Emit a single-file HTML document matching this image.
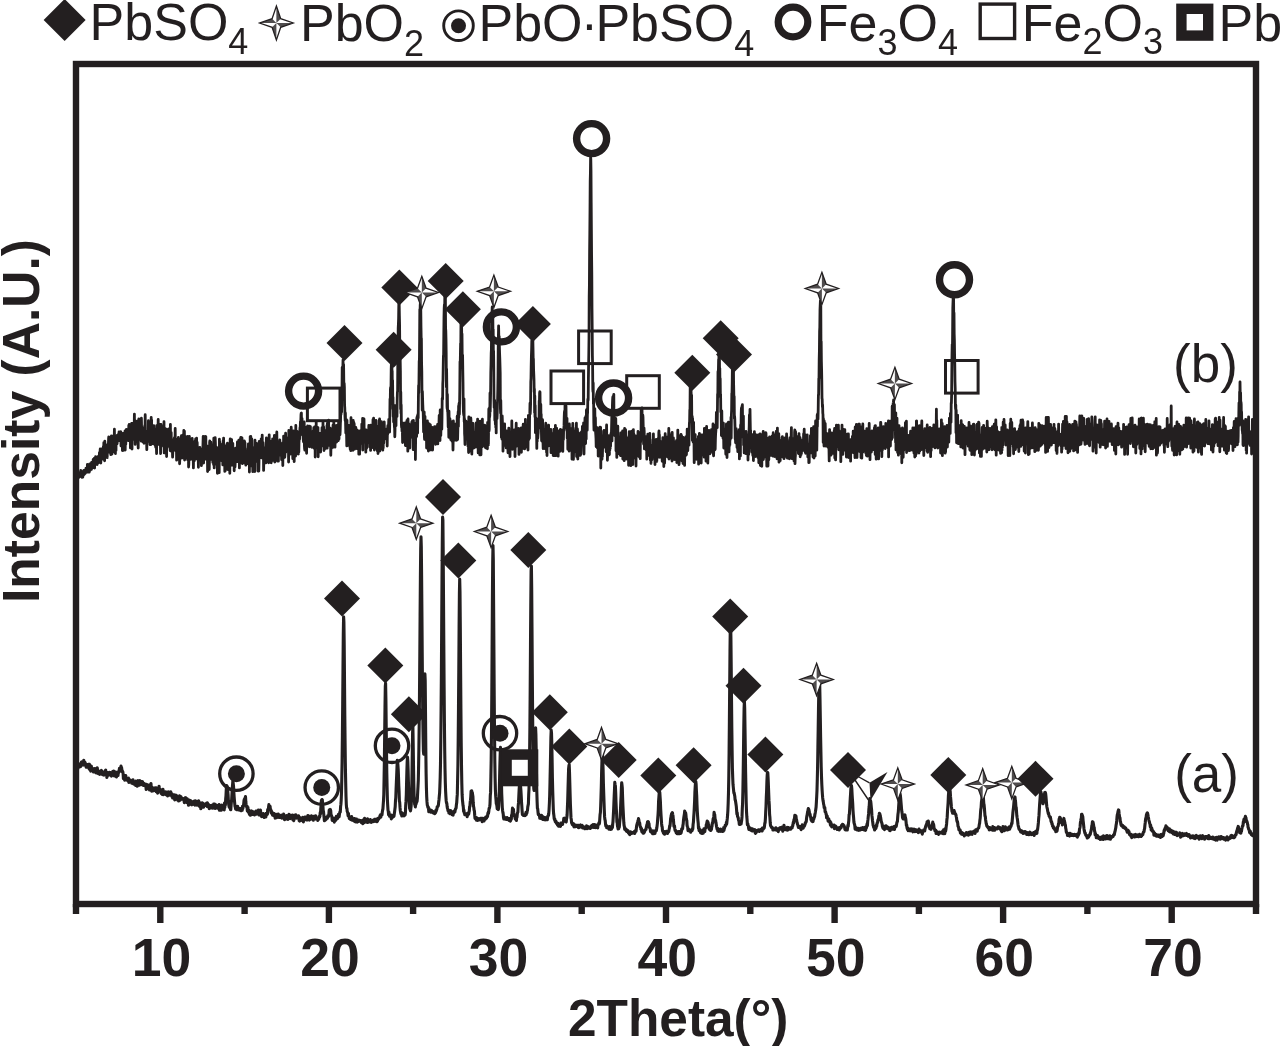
<!DOCTYPE html>
<html><head><meta charset="utf-8"><title>XRD patterns</title>
<style>
html,body{margin:0;padding:0;background:#fff;}
body{width:1280px;height:1046px;overflow:hidden;}
svg{display:block;}
text{font-family:"Liberation Sans",Arial,Helvetica,sans-serif;fill:#231f20;font-size:52px;}
.b{font-weight:bold;}
.s{font-size:36px;}
.t{font-size:53.5px;font-weight:bold;}
.c{font-size:53px;}
</style></head><body>
<svg width="1280" height="1046" viewBox="0 0 1280 1046">
<rect width="1280" height="1046" fill="#fff"/>
<g id="legend">
<path d="M64.6,-1L85.6,20L64.6,41L43.599999999999994,20Z" fill="#231f20"/><path d="M276.4,6.0L280.7,18.7L293.2,23.0L280.7,27.3L276.4,40.0L272.1,27.3L259.6,23.0L272.1,18.7Z" fill="#fff" stroke="#231f20" stroke-width="1.3" stroke-linejoin="miter"/><path d="M276.4,23.0L276.4,6.0L280.7,18.7Z" fill="#231f20" fill-opacity=".8"/><path d="M276.4,23.0L293.2,23.0L280.7,27.3Z" fill="#231f20" fill-opacity=".8"/><path d="M276.4,23.0L276.4,40.0L272.1,27.3Z" fill="#231f20" fill-opacity=".8"/><path d="M276.4,23.0L259.6,23.0L272.1,18.7Z" fill="#231f20" fill-opacity=".8"/><circle cx="458.5" cy="25.7" r="14.8" fill="none" stroke="#231f20" stroke-width="2.9"/><circle cx="458.5" cy="25.7" r="7.5" fill="#231f20"/><circle cx="793" cy="22" r="14.8" fill="none" stroke="#231f20" stroke-width="7.2"/><rect x="980.2" y="4.1" width="34.4" height="34.4" fill="none" stroke="#231f20" stroke-width="3.4"/><rect x="1181.40" y="8.80" width="26.8" height="26.8" fill="#fff" stroke="#231f20" stroke-width="10.400000000000002"/>
<text x="89.6" y="39.5">PbSO<tspan class="s" dy="14">4</tspan></text>
<text x="300" y="41">PbO<tspan class="s" dy="15">2</tspan></text>
<text x="478.5" y="41">PbO</text><text x="589.4" y="41" text-anchor="middle">·</text><text x="595.4" y="41">PbSO<tspan class="s" dy="15">4</tspan></text>
<text x="816.8" y="41">Fe<tspan class="s" dy="14.3">3</tspan><tspan dy="-14.3">O</tspan><tspan class="s" dy="14.3">4</tspan></text>
<text x="1021.8" y="40.5">Fe<tspan class="s" dy="13.4">2</tspan><tspan dy="-13.4">O</tspan><tspan class="s" dy="13.4">3</tspan></text>
<text x="1218.5" y="40.7">Pb</text>
</g>
<g id="curves" fill="none" stroke="#231f20" stroke-linejoin="round" stroke-linecap="round">
<path stroke-width="2.8" d="M76.0,475.1 76.2,477.1 76.4,477.9 76.6,478.1 76.8,473.2 77.0,477.6 77.2,477.9 77.4,478.1 77.6,472.7 77.8,474.9 78.0,475.6 78.2,475.0 78.4,477.7 78.6,474.4 78.8,477.4 79.0,476.2 79.2,472.8 79.4,473.4 79.6,474.2 79.8,475.0 80.0,476.5 80.2,474.3 80.4,476.1 80.6,471.6 80.8,470.3 81.0,473.6 81.2,474.9 81.4,473.3 81.6,471.9 81.8,474.6 82.0,477.4 82.2,473.3 82.4,472.0 82.6,471.6 82.8,477.1 83.0,472.9 83.2,474.2 83.4,475.3 83.6,474.9 83.8,470.5 84.0,474.4 84.2,474.1 84.4,473.2 84.6,474.2 84.8,470.5 85.0,471.5 85.2,470.3 85.4,473.1 85.6,469.6 85.8,471.9 86.0,468.2 86.2,470.3 86.4,469.6 86.6,470.0 86.8,470.4 87.0,469.5 87.2,469.2 87.4,464.3 87.6,472.2 87.8,467.6 88.0,468.3 88.2,466.6 88.4,471.2 88.6,466.0 88.8,469.5 89.0,471.2 89.2,472.2 89.4,470.8 89.6,469.1 89.8,463.9 90.0,470.6 90.2,470.1 90.4,469.0 90.6,468.7 90.8,466.4 91.0,464.5 91.2,469.0 91.4,469.4 91.6,462.3 91.8,467.9 92.0,465.7 92.2,467.5 92.4,465.4 92.6,467.8 92.8,467.4 93.0,466.8 93.2,459.4 93.4,466.2 93.6,463.5 93.8,459.5 94.0,465.3 94.2,458.3 94.4,465.5 94.6,468.0 94.8,460.4 95.0,465.0 95.2,463.2 95.4,463.7 95.6,456.6 95.8,463.2 96.0,461.3 96.2,463.2 96.4,460.4 96.6,464.1 96.8,460.9 97.0,462.2 97.2,464.5 97.4,459.9 97.6,462.7 97.8,459.6 98.0,460.5 98.2,456.4 98.4,461.0 98.6,462.5 98.8,457.3 99.0,460.5 99.2,458.9 99.4,452.7 99.6,458.1 99.8,461.7 100.0,454.4 100.2,449.0 100.4,456.6 100.6,453.0 100.8,463.0 101.0,455.0 101.2,454.9 101.4,452.1 101.6,455.5 101.8,451.9 102.0,450.2 102.2,453.5 102.4,450.1 102.6,458.9 102.8,448.1 103.0,452.5 103.2,449.6 103.4,446.4 103.6,459.4 103.8,442.7 104.0,458.1 104.2,445.2 104.4,451.6 104.6,460.8 104.8,441.2 105.0,444.3 105.2,456.3 105.4,450.9 105.6,447.4 105.8,449.5 106.0,445.0 106.2,449.8 106.4,456.0 106.6,447.0 106.8,449.3 107.0,454.1 107.2,457.7 107.4,445.2 107.6,449.3 107.8,444.9 108.0,444.3 108.2,445.3 108.4,444.0 108.6,438.3 108.8,436.8 109.0,442.9 109.2,447.0 109.4,452.3 109.6,443.3 109.8,445.0 110.0,449.0 110.2,449.3 110.4,444.7 110.6,444.9 110.8,454.7 111.0,443.1 111.2,442.1 111.4,435.9 111.6,446.6 111.8,442.7 112.0,454.1 112.2,442.0 112.4,448.0 112.6,448.5 112.8,452.2 113.0,436.0 113.2,451.5 113.4,442.8 113.6,442.0 113.8,440.7 114.0,440.1 114.2,440.2 114.4,429.2 114.6,444.6 114.8,441.9 115.0,436.1 115.2,440.9 115.4,453.6 115.6,443.1 115.8,438.5 116.0,450.4 116.2,435.8 116.4,439.4 116.6,436.9 116.8,438.5 117.0,444.0 117.2,443.0 117.4,435.1 117.6,438.5 117.8,439.6 118.0,436.5 118.2,438.6 118.4,434.3 118.6,434.1 118.8,438.6 119.0,432.0 119.2,440.6 119.4,436.8 119.6,432.2 119.8,433.9 120.0,434.6 120.2,436.4 120.4,438.0 120.6,435.9 120.8,431.6 121.0,445.9 121.2,442.5 121.4,437.4 121.6,442.7 121.8,438.6 122.0,434.8 122.2,436.9 122.4,450.6 122.6,442.6 122.8,442.8 123.0,433.5 123.2,439.8 123.4,450.4 123.6,438.5 123.8,442.7 124.0,443.9 124.2,439.8 124.4,445.8 124.6,436.9 124.8,438.6 125.0,431.0 125.2,450.1 125.4,437.1 125.6,435.7 125.8,444.3 126.0,431.5 126.2,434.7 126.4,429.3 126.6,434.7 126.8,431.8 127.0,438.1 127.2,433.4 127.4,430.1 127.6,432.1 127.8,433.2 128.0,430.4 128.2,440.5 128.4,438.6 128.6,434.8 128.8,425.3 129.0,437.3 129.2,424.4 129.4,434.7 129.6,433.7 129.8,429.0 130.0,427.2 130.2,428.1 130.4,447.9 130.6,431.0 130.8,431.4 131.0,439.8 131.2,435.8 131.4,440.4 131.6,423.5 131.8,424.5 132.0,449.1 132.2,432.0 132.4,430.1 132.6,433.4 132.8,439.6 133.0,423.1 133.2,434.1 133.4,431.7 133.6,437.0 133.8,433.2 134.0,427.8 134.2,425.1 134.4,414.1 134.6,439.2 134.8,420.3 135.0,428.5 135.2,444.4 135.4,428.3 135.6,436.3 135.8,429.9 136.0,436.9 136.2,431.8 136.4,427.6 136.6,441.9 136.8,429.5 137.0,421.2 137.2,429.0 137.4,435.7 137.6,423.0 137.8,437.7 138.0,437.5 138.2,448.0 138.4,426.7 138.6,436.8 138.8,418.9 139.0,428.5 139.2,432.6 139.4,434.9 139.6,431.4 139.8,431.1 140.0,427.1 140.2,428.5 140.4,434.3 140.6,436.2 140.8,436.9 141.0,439.6 141.2,441.1 141.4,418.2 141.6,428.1 141.8,430.9 142.0,427.2 142.2,440.2 142.4,437.9 142.6,431.4 142.8,433.2 143.0,442.0 143.2,429.6 143.4,429.9 143.6,439.3 143.8,436.0 144.0,443.3 144.2,435.3 144.4,438.2 144.6,428.3 144.8,425.3 145.0,432.5 145.2,414.7 145.4,435.7 145.6,440.1 145.8,433.2 146.0,431.0 146.2,441.0 146.4,432.4 146.6,440.3 146.8,449.6 147.0,438.4 147.2,440.0 147.4,436.7 147.6,434.8 147.8,435.1 148.0,433.5 148.2,441.3 148.4,420.7 148.6,431.0 148.8,438.2 149.0,426.7 149.2,432.4 149.4,428.0 149.6,436.7 149.8,440.0 150.0,444.6 150.2,437.3 150.4,428.1 150.6,435.6 150.8,438.1 151.0,444.6 151.2,417.4 151.4,436.8 151.6,420.0 151.8,439.5 152.0,437.5 152.2,438.0 152.4,441.1 152.6,437.3 152.8,429.5 153.0,437.2 153.2,443.8 153.4,433.8 153.6,435.0 153.8,425.6 154.0,443.9 154.2,431.2 154.4,429.5 154.6,431.8 154.8,428.8 155.0,433.5 155.2,445.3 155.4,441.7 155.6,446.6 155.8,447.2 156.0,429.0 156.2,439.7 156.4,447.5 156.6,453.6 156.8,425.4 157.0,425.4 157.2,440.0 157.4,434.0 157.6,429.0 157.8,439.6 158.0,430.8 158.2,419.5 158.4,436.8 158.6,438.0 158.8,442.0 159.0,444.4 159.2,438.7 159.4,435.6 159.6,432.4 159.8,425.0 160.0,434.3 160.2,445.4 160.4,442.8 160.6,453.6 160.8,436.9 161.0,424.5 161.2,444.5 161.4,446.2 161.6,429.4 161.8,426.1 162.0,439.7 162.2,444.1 162.4,430.2 162.6,436.2 162.8,433.0 163.0,430.0 163.2,429.0 163.4,440.2 163.6,436.4 163.8,434.2 164.0,421.7 164.2,452.9 164.4,432.4 164.6,438.6 164.8,431.1 165.0,442.8 165.2,428.4 165.4,440.8 165.6,438.7 165.8,447.2 166.0,431.9 166.2,435.4 166.4,438.7 166.6,456.6 166.8,429.4 167.0,443.0 167.2,435.8 167.4,443.3 167.6,446.0 167.8,442.2 168.0,443.2 168.2,443.4 168.4,436.9 168.6,439.8 168.8,428.8 169.0,438.9 169.2,435.8 169.4,439.8 169.6,447.5 169.8,444.9 170.0,445.6 170.2,450.6 170.4,424.5 170.6,445.6 170.8,442.2 171.0,441.7 171.2,432.6 171.4,446.9 171.6,451.5 171.8,450.7 172.0,442.3 172.2,447.9 172.4,450.1 172.6,457.1 172.8,452.6 173.0,444.4 173.2,444.2 173.4,444.8 173.6,445.3 173.8,439.9 174.0,449.7 174.2,438.6 174.4,437.8 174.6,446.8 174.8,439.7 175.0,442.3 175.2,428.4 175.4,450.5 175.6,444.4 175.8,443.6 176.0,448.2 176.2,446.3 176.4,439.5 176.6,460.2 176.8,441.5 177.0,452.5 177.2,459.2 177.4,440.5 177.6,446.1 177.8,439.2 178.0,453.6 178.2,443.0 178.4,437.3 178.6,455.9 178.8,452.9 179.0,439.2 179.2,455.1 179.4,447.6 179.6,463.8 179.8,459.4 180.0,442.1 180.2,444.4 180.4,439.9 180.6,447.7 180.8,447.1 181.0,452.5 181.2,447.6 181.4,435.7 181.6,440.9 181.8,458.0 182.0,456.1 182.2,446.1 182.4,446.4 182.6,446.2 182.8,447.8 183.0,434.9 183.2,454.6 183.4,442.8 183.6,449.1 183.8,430.4 184.0,449.9 184.2,458.5 184.4,431.2 184.6,460.0 184.8,452.1 185.0,443.0 185.2,436.5 185.4,457.7 185.6,450.8 185.8,453.5 186.0,446.9 186.2,443.0 186.4,455.9 186.6,442.0 186.8,456.3 187.0,436.7 187.2,442.5 187.4,438.5 187.6,459.8 187.8,436.4 188.0,441.2 188.2,455.0 188.4,451.8 188.6,467.0 188.8,464.4 189.0,455.1 189.2,455.7 189.4,436.5 189.6,443.8 189.8,448.2 190.0,449.4 190.2,440.3 190.4,443.8 190.6,444.5 190.8,459.3 191.0,454.5 191.2,448.7 191.4,449.3 191.6,453.7 191.8,446.2 192.0,449.6 192.2,438.5 192.4,456.9 192.6,459.3 192.8,454.7 193.0,455.7 193.2,454.9 193.4,467.9 193.6,453.8 193.8,442.2 194.0,444.4 194.2,457.9 194.4,460.7 194.6,458.5 194.8,459.1 195.0,454.1 195.2,441.3 195.4,447.4 195.6,439.0 195.8,449.9 196.0,442.5 196.2,453.7 196.4,451.7 196.6,438.1 196.8,458.7 197.0,459.0 197.2,442.5 197.4,454.3 197.6,458.7 197.8,451.0 198.0,459.9 198.2,454.8 198.4,467.3 198.6,454.8 198.8,452.1 199.0,457.3 199.2,459.5 199.4,455.4 199.6,450.0 199.8,447.4 200.0,450.6 200.2,449.1 200.4,455.1 200.6,454.9 200.8,452.9 201.0,453.6 201.2,454.9 201.4,465.7 201.6,463.0 201.8,449.2 202.0,457.0 202.2,451.2 202.4,453.0 202.6,451.9 202.8,449.0 203.0,443.3 203.2,436.3 203.4,455.4 203.6,463.0 203.8,446.9 204.0,457.8 204.2,451.0 204.4,456.1 204.6,447.7 204.8,452.2 205.0,453.2 205.2,436.5 205.4,455.7 205.6,453.0 205.8,436.6 206.0,459.2 206.2,453.9 206.4,455.8 206.6,457.0 206.8,451.0 207.0,445.9 207.2,450.8 207.4,451.0 207.6,471.5 207.8,468.6 208.0,450.6 208.2,451.2 208.4,456.9 208.6,458.8 208.8,449.1 209.0,446.7 209.2,469.5 209.4,462.7 209.6,442.4 209.8,440.8 210.0,448.1 210.2,456.3 210.4,458.9 210.6,452.0 210.8,442.1 211.0,456.4 211.2,459.4 211.4,454.7 211.6,450.9 211.8,459.2 212.0,454.3 212.2,446.1 212.4,455.6 212.6,444.7 212.8,462.4 213.0,458.5 213.2,447.1 213.4,456.6 213.6,464.7 213.8,438.2 214.0,453.9 214.2,467.9 214.4,442.9 214.6,453.8 214.8,444.0 215.0,454.6 215.2,437.7 215.4,442.5 215.6,451.0 215.8,456.3 216.0,458.2 216.2,458.6 216.4,464.3 216.6,460.8 216.8,461.1 217.0,447.7 217.2,454.1 217.4,473.3 217.6,473.2 217.8,461.9 218.0,461.3 218.2,463.2 218.4,452.3 218.6,470.9 218.8,452.6 219.0,454.9 219.2,472.7 219.4,439.2 219.6,458.4 219.8,442.0 220.0,450.4 220.2,454.9 220.4,452.8 220.6,457.0 220.8,449.6 221.0,454.8 221.2,446.2 221.4,452.6 221.6,444.7 221.8,460.8 222.0,445.4 222.2,461.1 222.4,452.3 222.6,453.2 222.8,464.9 223.0,456.5 223.2,440.6 223.4,459.5 223.6,438.1 223.8,457.7 224.0,452.4 224.2,444.5 224.4,456.2 224.6,453.1 224.8,471.4 225.0,452.0 225.2,470.9 225.4,466.5 225.6,450.6 225.8,449.0 226.0,466.0 226.2,454.4 226.4,456.7 226.6,453.4 226.8,445.8 227.0,452.5 227.2,447.8 227.4,443.2 227.6,453.1 227.8,469.6 228.0,468.3 228.2,454.9 228.4,456.5 228.6,459.5 228.8,466.2 229.0,457.9 229.2,451.5 229.4,452.2 229.6,464.4 229.8,473.3 230.0,450.3 230.2,438.9 230.4,466.1 230.6,454.7 230.8,456.4 231.0,465.2 231.2,455.8 231.4,444.7 231.6,439.6 231.8,454.9 232.0,446.0 232.2,457.6 232.4,445.0 232.6,452.4 232.8,443.4 233.0,452.3 233.2,451.6 233.4,460.0 233.6,465.9 233.8,453.7 234.0,448.3 234.2,470.8 234.4,458.1 234.6,460.0 234.8,460.0 235.0,466.8 235.2,463.2 235.4,460.6 235.6,461.3 235.8,448.2 236.0,450.2 236.2,454.2 236.4,455.8 236.6,455.2 236.8,457.5 237.0,455.3 237.2,451.6 237.4,442.0 237.6,461.7 237.8,459.7 238.0,448.0 238.2,459.0 238.4,458.2 238.6,455.6 238.8,440.2 239.0,445.3 239.2,450.2 239.4,467.9 239.6,448.1 239.8,452.2 240.0,446.0 240.2,451.0 240.4,457.7 240.6,438.3 240.8,437.4 241.0,460.2 241.2,455.2 241.4,450.0 241.6,462.7 241.8,462.7 242.0,438.0 242.2,453.5 242.4,463.7 242.6,449.5 242.8,452.3 243.0,462.5 243.2,452.6 243.4,445.2 243.6,449.3 243.8,444.1 244.0,459.2 244.2,440.9 244.4,462.8 244.6,441.5 244.8,455.1 245.0,442.9 245.2,452.1 245.4,462.9 245.6,463.6 245.8,465.1 246.0,453.9 246.2,455.4 246.4,456.4 246.6,459.5 246.8,451.3 247.0,463.3 247.2,457.1 247.4,463.6 247.6,458.3 247.8,459.8 248.0,448.5 248.2,451.0 248.4,443.9 248.6,451.9 248.8,452.9 249.0,461.0 249.2,444.1 249.4,472.1 249.6,453.2 249.8,464.3 250.0,462.5 250.2,436.6 250.4,452.0 250.6,465.9 250.8,436.5 251.0,460.2 251.2,446.6 251.4,450.2 251.6,455.7 251.8,438.9 252.0,455.5 252.2,448.7 252.4,447.8 252.6,459.5 252.8,471.7 253.0,456.5 253.2,458.2 253.4,453.3 253.6,447.9 253.8,455.7 254.0,465.9 254.2,455.1 254.4,460.8 254.6,451.7 254.8,471.5 255.0,440.2 255.2,458.2 255.4,457.8 255.6,455.6 255.8,444.4 256.0,444.2 256.2,450.0 256.4,454.1 256.6,443.5 256.8,444.7 257.0,457.8 257.2,461.5 257.4,448.7 257.6,447.5 257.8,447.3 258.0,471.1 258.2,457.0 258.4,452.5 258.6,461.1 258.8,471.0 259.0,462.4 259.2,441.4 259.4,452.2 259.6,449.6 259.8,450.1 260.0,443.0 260.2,449.7 260.4,444.0 260.6,455.5 260.8,453.1 261.0,441.3 261.2,438.9 261.4,448.8 261.6,457.9 261.8,456.6 262.0,452.0 262.2,435.1 262.4,448.5 262.6,446.5 262.8,449.8 263.0,442.6 263.2,448.9 263.4,447.0 263.6,470.4 263.8,461.8 264.0,450.8 264.2,451.9 264.4,451.3 264.6,453.8 264.8,449.0 265.0,452.1 265.2,460.5 265.4,458.9 265.6,454.6 265.8,462.9 266.0,453.9 266.2,444.1 266.4,437.9 266.6,446.4 266.8,451.5 267.0,455.2 267.2,460.6 267.4,447.3 267.6,445.4 267.8,458.1 268.0,461.3 268.2,447.9 268.4,454.5 268.6,462.8 268.8,454.3 269.0,451.2 269.2,434.8 269.4,462.3 269.6,456.7 269.8,452.5 270.0,447.7 270.2,441.3 270.4,450.5 270.6,450.4 270.8,460.1 271.0,441.4 271.2,462.8 271.4,451.4 271.6,460.6 271.8,443.1 272.0,453.7 272.2,460.7 272.4,451.7 272.6,438.9 272.8,448.0 273.0,454.9 273.2,439.3 273.4,438.8 273.6,452.3 273.8,442.7 274.0,455.8 274.2,440.7 274.4,435.3 274.6,443.8 274.8,462.1 275.0,443.0 275.2,449.9 275.4,451.8 275.6,442.1 275.8,458.5 276.0,451.1 276.2,453.2 276.4,435.9 276.6,435.3 276.8,432.0 277.0,447.8 277.2,447.4 277.4,455.1 277.6,461.1 277.8,447.0 278.0,446.9 278.2,452.6 278.4,461.2 278.6,442.2 278.8,453.8 279.0,446.7 279.2,445.9 279.4,455.2 279.6,442.1 279.8,439.8 280.0,453.8 280.2,448.1 280.4,446.1 280.6,447.1 280.8,452.1 281.0,445.1 281.2,454.2 281.4,451.3 281.6,459.8 281.8,458.0 282.0,454.7 282.2,446.0 282.4,448.6 282.6,442.8 282.8,465.5 283.0,445.6 283.2,451.8 283.4,458.3 283.6,436.2 283.8,440.5 284.0,443.9 284.2,439.0 284.4,436.7 284.6,442.7 284.8,457.3 285.0,452.6 285.2,447.0 285.4,446.9 285.6,433.2 285.8,452.1 286.0,449.9 286.2,437.7 286.4,448.0 286.6,444.7 286.8,442.0 287.0,438.2 287.2,440.6 287.4,438.4 287.6,449.7 287.8,448.8 288.0,448.4 288.2,444.3 288.4,442.4 288.6,462.1 288.8,430.5 289.0,455.1 289.2,448.3 289.4,445.9 289.6,441.2 289.8,443.4 290.0,435.6 290.2,433.9 290.4,444.1 290.6,431.6 290.8,451.6 291.0,453.8 291.2,427.2 291.4,432.1 291.6,446.8 291.8,446.2 292.0,445.3 292.2,447.8 292.4,450.3 292.6,451.2 292.8,458.6 293.0,444.3 293.2,451.0 293.4,430.8 293.6,442.8 293.8,433.9 294.0,454.9 294.2,461.6 294.4,447.9 294.6,433.0 294.8,442.5 295.0,443.5 295.2,444.8 295.4,451.9 295.6,456.0 295.8,425.4 296.0,453.9 296.2,438.7 296.4,438.1 296.6,454.0 296.8,440.2 297.0,431.2 297.2,431.4 297.4,442.4 297.6,449.1 297.8,453.7 298.0,440.0 298.2,437.4 298.4,454.0 298.6,436.9 298.8,451.9 299.0,441.5 299.2,440.8 299.4,436.1 299.6,439.1 299.8,431.3 300.0,427.5 300.2,429.2 300.4,421.9 300.6,426.1 300.8,420.7 301.0,414.7 301.2,413.3 301.4,413.1 301.6,430.7 301.8,419.6 302.0,418.4 302.2,424.3 302.4,435.0 302.6,430.6 302.8,433.0 303.0,433.7 303.2,438.3 303.4,440.9 303.6,442.0 303.8,425.6 304.0,430.5 304.2,421.8 304.4,446.0 304.6,448.6 304.8,450.2 305.0,441.0 305.2,449.1 305.4,439.6 305.6,439.0 305.8,427.5 306.0,433.7 306.2,431.7 306.4,447.4 306.6,453.3 306.8,436.2 307.0,442.9 307.2,442.1 307.4,433.7 307.6,426.0 307.8,433.8 308.0,428.2 308.2,437.2 308.4,438.6 308.6,438.3 308.8,438.4 309.0,443.6 309.2,432.1 309.4,446.8 309.6,426.1 309.8,440.1 310.0,442.7 310.2,433.1 310.4,426.6 310.6,444.6 310.8,434.0 311.0,445.7 311.2,445.6 311.4,439.3 311.6,439.3 311.8,447.3 312.0,442.3 312.2,431.8 312.4,440.6 312.6,443.7 312.8,440.9 313.0,440.7 313.2,438.0 313.4,438.2 313.6,431.6 313.8,427.6 314.0,448.2 314.2,434.0 314.4,440.9 314.6,427.0 314.8,440.4 315.0,432.4 315.2,457.0 315.4,430.8 315.6,431.3 315.8,446.6 316.0,448.1 316.2,422.0 316.4,441.0 316.6,446.0 316.8,429.1 317.0,444.4 317.2,434.6 317.4,430.8 317.6,436.0 317.8,435.1 318.0,427.6 318.2,456.8 318.4,435.1 318.6,432.8 318.8,445.6 319.0,438.1 319.2,449.4 319.4,436.5 319.6,441.5 319.8,439.4 320.0,440.0 320.2,436.9 320.4,437.7 320.6,452.0 320.8,433.1 321.0,434.1 321.2,435.7 321.4,443.1 321.6,441.7 321.8,445.9 322.0,427.7 322.2,440.5 322.4,437.0 322.6,436.1 322.8,439.7 323.0,422.5 323.2,440.5 323.4,439.4 323.6,426.8 323.8,437.5 324.0,450.6 324.2,435.1 324.4,442.9 324.6,436.3 324.8,431.6 325.0,430.7 325.2,434.9 325.4,448.5 325.6,444.6 325.8,432.3 326.0,446.0 326.2,436.9 326.4,432.4 326.6,441.3 326.8,430.6 327.0,425.3 327.2,448.2 327.4,423.2 327.6,442.1 327.8,425.5 328.0,437.5 328.2,436.1 328.4,434.1 328.6,420.1 328.8,436.7 329.0,436.9 329.2,430.4 329.4,437.0 329.6,445.4 329.8,431.7 330.0,439.5 330.2,428.2 330.4,440.4 330.6,442.4 330.8,455.3 331.0,444.4 331.2,440.6 331.4,448.4 331.6,429.2 331.8,445.6 332.0,432.7 332.2,432.0 332.4,445.6 332.6,438.7 332.8,447.4 333.0,425.2 333.2,438.9 333.4,432.4 333.6,434.4 333.8,421.3 334.0,443.9 334.2,438.0 334.4,428.4 334.6,425.5 334.8,429.2 335.0,447.2 335.2,435.2 335.4,433.2 335.6,439.7 335.8,435.7 336.0,437.4 336.2,441.3 336.4,437.9 336.6,442.1 336.8,425.4 337.0,435.2 337.2,431.7 337.4,435.2 337.6,433.8 337.8,428.8 338.0,430.8 338.2,440.7 338.4,428.4 338.6,422.5 338.8,436.6 339.0,439.0 339.2,428.5 339.4,430.8 339.6,422.1 339.8,426.0 340.0,434.8 340.2,430.6 340.4,423.1 340.6,417.0 340.8,402.9 341.0,414.4 341.2,410.9 341.4,410.4 341.6,412.1 341.8,392.7 342.0,390.5 342.2,367.3 342.4,379.4 342.6,371.5 342.8,371.9 343.0,360.0 343.2,364.7 343.4,376.3 343.6,364.6 343.8,381.2 344.0,391.5 344.2,383.4 344.4,387.0 344.6,405.4 344.8,408.2 345.0,416.6 345.2,420.8 345.4,413.0 345.6,424.5 345.8,433.0 346.0,423.1 346.2,425.2 346.4,419.7 346.6,436.1 346.8,445.9 347.0,420.3 347.2,437.7 347.4,439.3 347.6,428.2 347.8,430.0 348.0,425.1 348.2,427.4 348.4,435.1 348.6,439.2 348.8,435.2 349.0,441.2 349.2,436.2 349.4,425.6 349.6,446.4 349.8,444.4 350.0,429.6 350.2,449.3 350.4,439.1 350.6,436.5 350.8,450.7 351.0,417.7 351.2,423.0 351.4,441.4 351.6,433.9 351.8,428.4 352.0,447.9 352.2,439.9 352.4,426.0 352.6,430.9 352.8,442.8 353.0,450.3 353.2,420.4 353.4,438.2 353.6,433.3 353.8,422.5 354.0,435.0 354.2,423.7 354.4,432.1 354.6,449.2 354.8,440.5 355.0,442.6 355.2,441.2 355.4,439.3 355.6,444.2 355.8,427.3 356.0,433.7 356.2,443.3 356.4,430.8 356.6,433.1 356.8,446.1 357.0,448.7 357.2,431.8 357.4,430.2 357.6,441.2 357.8,438.8 358.0,431.3 358.2,441.4 358.4,441.0 358.6,437.3 358.8,454.2 359.0,447.4 359.2,443.1 359.4,444.8 359.6,454.2 359.8,445.4 360.0,431.0 360.2,439.2 360.4,437.3 360.6,432.2 360.8,438.8 361.0,438.7 361.2,436.3 361.4,432.9 361.6,443.3 361.8,424.1 362.0,443.2 362.2,436.8 362.4,438.9 362.6,418.5 362.8,450.0 363.0,423.0 363.2,429.8 363.4,441.8 363.6,431.9 363.8,433.5 364.0,419.0 364.2,433.2 364.4,438.4 364.6,442.1 364.8,434.4 365.0,438.4 365.2,440.1 365.4,431.3 365.6,430.7 365.8,452.2 366.0,429.9 366.2,446.4 366.4,437.2 366.6,448.3 366.8,431.6 367.0,440.7 367.2,439.3 367.4,434.8 367.6,439.1 367.8,430.5 368.0,436.0 368.2,433.4 368.4,442.6 368.6,435.9 368.8,425.5 369.0,433.6 369.2,435.8 369.4,429.4 369.6,447.1 369.8,439.8 370.0,443.2 370.2,430.5 370.4,433.4 370.6,450.4 370.8,425.1 371.0,439.4 371.2,437.2 371.4,432.5 371.6,437.2 371.8,427.9 372.0,438.2 372.2,426.8 372.4,426.3 372.6,447.5 372.8,430.8 373.0,419.6 373.2,444.1 373.4,430.2 373.6,418.2 373.8,435.9 374.0,443.7 374.2,439.1 374.4,450.0 374.6,435.3 374.8,441.1 375.0,428.3 375.2,437.6 375.4,448.5 375.6,440.3 375.8,437.5 376.0,420.5 376.2,433.2 376.4,425.9 376.6,442.4 376.8,430.3 377.0,439.0 377.2,428.1 377.4,451.1 377.6,426.7 377.8,437.2 378.0,453.5 378.2,437.8 378.4,429.1 378.6,440.9 378.8,443.9 379.0,442.9 379.2,420.2 379.4,437.6 379.6,418.9 379.8,451.0 380.0,436.4 380.2,432.1 380.4,441.2 380.6,439.6 380.8,426.3 381.0,448.7 381.2,433.7 381.4,421.6 381.6,446.8 381.8,447.8 382.0,445.5 382.2,439.9 382.4,428.3 382.6,442.9 382.8,450.2 383.0,441.8 383.2,448.0 383.4,429.0 383.6,443.3 383.8,442.6 384.0,423.0 384.2,421.9 384.4,429.1 384.6,435.4 384.8,438.3 385.0,432.8 385.2,433.9 385.4,433.4 385.6,434.9 385.8,438.8 386.0,437.9 386.2,433.4 386.4,435.7 386.6,429.8 386.8,439.6 387.0,429.0 387.2,446.0 387.4,432.3 387.6,434.4 387.8,425.7 388.0,428.6 388.2,432.2 388.4,430.4 388.6,424.6 388.8,419.4 389.0,427.9 389.2,427.4 389.4,428.7 389.6,432.0 389.8,416.4 390.0,399.0 390.2,409.1 390.4,389.5 390.6,387.3 390.8,398.4 391.0,386.6 391.2,369.2 391.4,363.0 391.6,366.0 391.8,350.2 392.0,371.6 392.2,370.9 392.4,396.0 392.6,380.4 392.8,404.3 393.0,397.2 393.2,416.4 393.4,404.8 393.6,422.1 393.8,415.4 394.0,414.2 394.2,421.1 394.4,427.1 394.6,427.1 394.8,436.8 395.0,430.8 395.2,405.6 395.4,420.3 395.6,406.8 395.8,418.9 396.0,425.7 396.2,408.1 396.4,407.0 396.6,414.6 396.8,406.9 397.0,416.5 397.2,399.3 397.4,392.2 397.6,391.4 397.8,360.7 398.0,350.8 398.2,328.0 398.4,323.9 398.6,318.6 398.8,304.0 399.0,303.4 399.2,304.6 399.4,315.9 399.6,325.1 399.8,352.3 400.0,376.4 400.2,359.7 400.4,371.2 400.6,409.1 400.8,391.9 401.0,413.3 401.2,404.8 401.4,424.7 401.6,427.3 401.8,424.3 402.0,431.2 402.2,426.2 402.4,431.4 402.6,442.5 402.8,437.3 403.0,423.7 403.2,423.1 403.4,428.1 403.6,428.7 403.8,431.5 404.0,426.3 404.2,436.8 404.4,432.1 404.6,435.0 404.8,432.3 405.0,437.4 405.2,422.9 405.4,445.6 405.6,435.8 405.8,436.7 406.0,438.2 406.2,442.1 406.4,439.4 406.6,435.4 406.8,432.1 407.0,420.3 407.2,435.5 407.4,431.3 407.6,431.3 407.8,451.2 408.0,418.9 408.2,435.2 408.4,443.8 408.6,441.8 408.8,444.1 409.0,423.8 409.2,426.3 409.4,439.1 409.6,431.7 409.8,448.0 410.0,435.9 410.2,435.7 410.4,437.6 410.6,431.8 410.8,435.0 411.0,428.5 411.2,433.6 411.4,430.0 411.6,435.9 411.8,422.3 412.0,421.6 412.2,437.4 412.4,435.4 412.6,420.6 412.8,431.5 413.0,424.7 413.2,449.7 413.4,420.3 413.6,446.8 413.8,426.0 414.0,435.9 414.2,430.2 414.4,429.0 414.6,439.4 414.8,438.2 415.0,428.9 415.2,423.5 415.4,459.6 415.6,441.5 415.8,430.7 416.0,425.4 416.2,430.8 416.4,428.3 416.6,436.5 416.8,417.9 417.0,424.6 417.2,416.5 417.4,431.5 417.6,433.1 417.8,414.6 418.0,415.8 418.2,418.0 418.4,398.0 418.6,385.5 418.8,392.8 419.0,378.2 419.2,360.8 419.4,361.7 419.6,338.6 419.8,309.5 420.0,315.9 420.2,305.1 420.4,303.0 420.6,305.4 420.8,311.4 421.0,327.5 421.2,338.7 421.4,338.4 421.6,363.5 421.8,371.5 422.0,395.8 422.2,410.3 422.4,391.5 422.6,398.8 422.8,404.7 423.0,410.1 423.2,413.0 423.4,421.5 423.6,431.9 423.8,414.0 424.0,413.4 424.2,412.0 424.4,436.8 424.6,439.4 424.8,416.8 425.0,416.5 425.2,431.4 425.4,439.6 425.6,439.4 425.8,433.1 426.0,437.4 426.2,434.8 426.4,427.9 426.6,448.1 426.8,432.8 427.0,424.0 427.2,429.4 427.4,420.8 427.6,433.7 427.8,442.6 428.0,423.5 428.2,443.1 428.4,451.0 428.6,437.2 428.8,424.8 429.0,427.3 429.2,431.6 429.4,424.0 429.6,424.3 429.8,432.4 430.0,433.1 430.2,439.5 430.4,424.9 430.6,449.9 430.8,443.3 431.0,442.0 431.2,429.5 431.4,448.9 431.6,432.0 431.8,449.6 432.0,443.5 432.2,427.5 432.4,431.1 432.6,450.0 432.8,442.9 433.0,433.5 433.2,436.4 433.4,436.3 433.6,428.4 433.8,433.0 434.0,429.3 434.2,431.1 434.4,438.4 434.6,426.7 434.8,440.4 435.0,435.3 435.2,440.5 435.4,441.5 435.6,444.3 435.8,439.2 436.0,439.8 436.2,432.5 436.4,438.4 436.6,426.4 436.8,431.6 437.0,439.5 437.2,432.9 437.4,436.7 437.6,424.3 437.8,443.9 438.0,427.8 438.2,435.5 438.4,431.9 438.6,439.4 438.8,428.3 439.0,423.0 439.2,415.3 439.4,427.8 439.6,420.1 439.8,433.7 440.0,440.5 440.2,410.0 440.4,416.8 440.6,429.0 440.8,435.5 441.0,426.7 441.2,425.3 441.4,425.0 441.6,423.3 441.8,429.3 442.0,417.5 442.2,398.3 442.4,399.5 442.6,399.1 442.8,383.6 443.0,379.7 443.2,368.0 443.4,355.9 443.6,355.6 443.8,334.5 444.0,316.4 444.2,308.0 444.4,304.6 444.6,315.1 444.8,296.0 445.0,310.1 445.2,308.4 445.4,296.3 445.6,328.4 445.8,330.7 446.0,338.9 446.2,352.8 446.4,386.9 446.6,369.0 446.8,385.1 447.0,406.8 447.2,408.8 447.4,394.4 447.6,411.6 447.8,411.6 448.0,417.0 448.2,426.9 448.4,417.9 448.6,421.5 448.8,437.3 449.0,411.2 449.2,424.1 449.4,431.8 449.6,418.4 449.8,424.0 450.0,418.9 450.2,431.4 450.4,425.4 450.6,437.3 450.8,439.5 451.0,431.8 451.2,428.5 451.4,434.0 451.6,432.5 451.8,422.2 452.0,441.2 452.2,434.3 452.4,439.1 452.6,421.5 452.8,439.9 453.0,450.0 453.2,437.9 453.4,421.0 453.6,433.1 453.8,432.3 454.0,434.6 454.2,430.8 454.4,436.7 454.6,428.8 454.8,434.3 455.0,426.7 455.2,433.0 455.4,440.1 455.6,427.7 455.8,437.0 456.0,423.9 456.2,427.8 456.4,428.5 456.6,440.3 456.8,423.2 457.0,438.9 457.2,416.2 457.4,426.0 457.6,439.5 457.8,430.7 458.0,415.2 458.2,411.5 458.4,426.4 458.6,405.9 458.8,417.4 459.0,404.0 459.2,403.0 459.4,414.2 459.6,402.6 459.8,388.7 460.0,361.6 460.2,366.0 460.4,354.0 460.6,343.2 460.8,346.6 461.0,315.0 461.2,325.7 461.4,326.7 461.6,323.0 461.8,349.9 462.0,333.8 462.2,354.0 462.4,364.3 462.6,355.2 462.8,370.4 463.0,382.3 463.2,403.9 463.4,411.4 463.6,413.8 463.8,415.3 464.0,398.8 464.2,421.7 464.4,418.1 464.6,434.0 464.8,437.0 465.0,444.5 465.2,434.2 465.4,436.0 465.6,421.6 465.8,431.4 466.0,421.2 466.2,439.2 466.4,422.5 466.6,431.0 466.8,426.3 467.0,429.6 467.2,437.5 467.4,429.3 467.6,436.1 467.8,426.2 468.0,446.2 468.2,429.6 468.4,443.4 468.6,452.5 468.8,416.9 469.0,427.4 469.2,434.0 469.4,445.5 469.6,431.9 469.8,439.2 470.0,430.1 470.2,440.9 470.4,426.3 470.6,443.3 470.8,418.0 471.0,420.9 471.2,451.7 471.4,438.1 471.6,429.3 471.8,454.1 472.0,445.6 472.2,446.3 472.4,433.5 472.6,442.2 472.8,441.3 473.0,423.4 473.2,442.1 473.4,435.7 473.6,447.9 473.8,448.1 474.0,432.0 474.2,432.3 474.4,438.9 474.6,442.8 474.8,434.0 475.0,436.5 475.2,442.5 475.4,441.0 475.6,447.1 475.8,439.5 476.0,430.1 476.2,422.9 476.4,444.3 476.6,434.8 476.8,434.7 477.0,435.2 477.2,424.5 477.4,434.3 477.6,419.1 477.8,434.2 478.0,430.1 478.2,452.9 478.4,441.3 478.6,435.8 478.8,438.9 479.0,443.6 479.2,431.2 479.4,435.6 479.6,434.6 479.8,454.9 480.0,438.1 480.2,421.1 480.4,444.1 480.6,454.8 480.8,429.4 481.0,454.8 481.2,436.8 481.4,445.7 481.6,432.6 481.8,435.0 482.0,426.9 482.2,428.3 482.4,419.2 482.6,446.6 482.8,427.4 483.0,440.1 483.2,439.7 483.4,431.4 483.6,437.1 483.8,435.9 484.0,432.4 484.2,436.9 484.4,436.8 484.6,427.7 484.8,425.2 485.0,428.8 485.2,436.8 485.4,447.3 485.6,447.8 485.8,437.9 486.0,443.0 486.2,435.9 486.4,443.9 486.6,435.4 486.8,437.3 487.0,431.2 487.2,433.2 487.4,448.8 487.6,422.3 487.8,431.8 488.0,426.2 488.2,438.5 488.4,444.9 488.6,426.0 488.8,409.0 489.0,431.2 489.2,429.4 489.4,407.9 489.6,417.2 489.8,415.2 490.0,393.0 490.2,411.6 490.4,402.9 490.6,393.1 490.8,372.7 491.0,364.7 491.2,353.2 491.4,349.6 491.6,324.2 491.8,332.8 492.0,314.2 492.2,307.0 492.4,319.9 492.6,312.1 492.8,315.3 493.0,332.6 493.2,329.2 493.4,359.0 493.6,350.9 493.8,371.3 494.0,400.6 494.2,407.6 494.4,400.4 494.6,400.2 494.8,420.3 495.0,415.0 495.2,419.4 495.4,424.5 495.6,411.1 495.8,427.5 496.0,403.0 496.2,432.9 496.4,406.3 496.6,412.7 496.8,410.0 497.0,418.6 497.2,414.3 497.4,405.3 497.6,399.6 497.8,390.3 498.0,375.7 498.2,349.1 498.4,335.9 498.6,325.9 498.8,336.7 499.0,338.0 499.2,336.3 499.4,346.9 499.6,353.3 499.8,358.4 500.0,365.5 500.2,372.6 500.4,408.3 500.6,413.3 500.8,400.4 501.0,414.6 501.2,424.6 501.4,437.4 501.6,421.1 501.8,429.5 502.0,439.3 502.2,415.8 502.4,421.1 502.6,432.0 502.8,426.8 503.0,451.2 503.2,441.4 503.4,436.2 503.6,426.7 503.8,442.6 504.0,440.9 504.2,431.4 504.4,432.4 504.6,423.8 504.8,435.9 505.0,444.1 505.2,445.4 505.4,442.0 505.6,444.2 505.8,432.3 506.0,433.5 506.2,447.9 506.4,441.6 506.6,431.0 506.8,442.2 507.0,445.1 507.2,444.1 507.4,439.1 507.6,433.9 507.8,441.7 508.0,452.8 508.2,439.7 508.4,432.8 508.6,441.5 508.8,428.1 509.0,440.6 509.2,436.2 509.4,446.9 509.6,439.7 509.8,447.8 510.0,456.6 510.2,437.1 510.4,431.9 510.6,442.9 510.8,438.3 511.0,440.3 511.2,434.0 511.4,443.9 511.6,439.8 511.8,421.0 512.0,437.2 512.2,442.1 512.4,449.3 512.6,434.4 512.8,432.5 513.0,449.1 513.2,434.2 513.4,440.2 513.6,443.4 513.8,445.6 514.0,439.5 514.2,430.0 514.4,448.0 514.6,435.7 514.8,435.0 515.0,456.5 515.2,446.9 515.4,430.5 515.6,435.4 515.8,437.4 516.0,433.1 516.2,423.2 516.4,446.3 516.6,446.1 516.8,441.6 517.0,436.1 517.2,441.3 517.4,444.9 517.6,430.7 517.8,436.7 518.0,434.7 518.2,445.4 518.4,441.7 518.6,428.5 518.8,434.2 519.0,454.4 519.2,431.2 519.4,440.7 519.6,434.1 519.8,449.9 520.0,438.8 520.2,435.6 520.4,429.3 520.6,437.2 520.8,446.3 521.0,444.9 521.2,428.0 521.4,452.3 521.6,437.0 521.8,430.1 522.0,440.1 522.2,433.7 522.4,434.0 522.6,433.5 522.8,438.0 523.0,434.5 523.2,424.2 523.4,443.0 523.6,434.1 523.8,448.5 524.0,442.8 524.2,443.4 524.4,439.6 524.6,448.9 524.8,435.1 525.0,429.3 525.2,440.5 525.4,419.3 525.6,434.1 525.8,438.8 526.0,433.3 526.2,447.2 526.4,442.2 526.6,437.0 526.8,432.3 527.0,444.6 527.2,429.3 527.4,431.1 527.6,440.4 527.8,438.5 528.0,450.0 528.2,430.3 528.4,415.3 528.6,435.7 528.8,439.5 529.0,426.0 529.2,438.7 529.4,438.3 529.6,415.0 529.8,413.4 530.0,403.2 530.2,414.0 530.4,410.4 530.6,403.6 530.8,381.7 531.0,378.5 531.2,365.3 531.4,355.8 531.6,350.1 531.8,340.6 532.0,346.0 532.2,346.3 532.4,340.6 532.6,339.9 532.8,337.0 533.0,347.4 533.2,358.7 533.4,358.8 533.6,369.7 533.8,374.6 534.0,380.3 534.2,392.1 534.4,388.8 534.6,412.8 534.8,395.8 535.0,417.1 535.2,405.5 535.4,432.7 535.6,429.9 535.8,417.9 536.0,422.6 536.2,418.3 536.4,428.4 536.6,433.2 536.8,448.4 537.0,419.4 537.2,441.6 537.4,426.4 537.6,433.5 537.8,438.2 538.0,434.7 538.2,432.5 538.4,425.6 538.6,424.8 538.8,423.0 539.0,427.9 539.2,400.8 539.4,404.0 539.6,392.9 539.8,391.7 540.0,391.9 540.2,409.4 540.4,422.0 540.6,420.5 540.8,404.5 541.0,420.1 541.2,414.2 541.4,431.1 541.6,440.8 541.8,437.2 542.0,441.1 542.2,433.8 542.4,419.4 542.6,419.9 542.8,436.3 543.0,442.4 543.2,448.6 543.4,435.3 543.6,439.1 543.8,440.9 544.0,447.9 544.2,438.5 544.4,430.1 544.6,448.5 544.8,443.0 545.0,442.9 545.2,429.1 545.4,439.9 545.6,425.6 545.8,423.2 546.0,438.2 546.2,436.6 546.4,445.1 546.6,452.5 546.8,440.2 547.0,455.5 547.2,435.6 547.4,447.0 547.6,430.0 547.8,441.8 548.0,438.1 548.2,439.1 548.4,445.8 548.6,425.1 548.8,441.9 549.0,434.2 549.2,442.0 549.4,444.3 549.6,438.0 549.8,438.0 550.0,431.5 550.2,445.8 550.4,435.5 550.6,444.9 550.8,429.3 551.0,452.7 551.2,432.7 551.4,451.0 551.6,437.6 551.8,445.9 552.0,440.2 552.2,447.1 552.4,441.4 552.6,452.1 552.8,447.1 553.0,447.2 553.2,455.5 553.4,435.6 553.6,452.4 553.8,442.1 554.0,429.1 554.2,445.5 554.4,439.8 554.6,455.7 554.8,437.4 555.0,441.9 555.2,443.5 555.4,425.5 555.6,445.8 555.8,433.2 556.0,453.3 556.2,455.5 556.4,441.4 556.6,428.2 556.8,443.0 557.0,443.0 557.2,447.5 557.4,439.0 557.6,431.5 557.8,440.2 558.0,433.6 558.2,456.2 558.4,435.4 558.6,435.8 558.8,440.9 559.0,430.8 559.2,437.4 559.4,440.0 559.6,437.0 559.8,438.9 560.0,451.3 560.2,444.5 560.4,429.5 560.6,437.0 560.8,446.8 561.0,434.9 561.2,440.9 561.4,439.8 561.6,444.2 561.8,438.0 562.0,438.0 562.2,431.6 562.4,441.3 562.6,429.9 562.8,451.4 563.0,435.7 563.2,432.8 563.4,439.7 563.6,430.5 563.8,429.7 564.0,425.9 564.2,417.3 564.4,412.4 564.6,410.9 564.8,423.0 565.0,405.5 565.2,405.4 565.4,404.4 565.6,414.7 565.8,427.4 566.0,405.8 566.2,421.4 566.4,421.1 566.6,420.8 566.8,430.6 567.0,418.3 567.2,438.2 567.4,434.9 567.6,426.3 567.8,449.3 568.0,444.0 568.2,447.4 568.4,426.1 568.6,436.5 568.8,434.8 569.0,448.4 569.2,451.1 569.4,424.0 569.6,440.4 569.8,439.3 570.0,448.9 570.2,440.3 570.4,430.1 570.6,439.2 570.8,432.2 571.0,434.5 571.2,441.4 571.4,437.1 571.6,443.5 571.8,428.5 572.0,459.2 572.2,451.8 572.4,447.3 572.6,430.5 572.8,423.3 573.0,434.1 573.2,439.4 573.4,459.4 573.6,452.3 573.8,437.0 574.0,451.5 574.2,451.6 574.4,441.5 574.6,451.6 574.8,444.1 575.0,435.9 575.2,431.5 575.4,440.3 575.6,449.7 575.8,430.0 576.0,427.8 576.2,445.9 576.4,423.2 576.6,456.5 576.8,437.5 577.0,447.3 577.2,456.7 577.4,428.9 577.6,432.2 577.8,459.0 578.0,438.5 578.2,439.8 578.4,442.7 578.6,449.6 578.8,451.8 579.0,441.6 579.2,437.8 579.4,440.2 579.6,442.9 579.8,451.3 580.0,441.4 580.2,455.4 580.4,432.8 580.6,444.4 580.8,454.5 581.0,450.4 581.2,442.3 581.4,432.0 581.6,433.3 581.8,437.7 582.0,441.5 582.2,436.6 582.4,426.3 582.6,432.1 582.8,442.3 583.0,444.7 583.2,425.7 583.4,434.1 583.6,422.8 583.8,431.7 584.0,454.1 584.2,436.2 584.4,432.3 584.6,429.7 584.8,424.0 585.0,417.9 585.2,432.4 585.4,429.7 585.6,443.5 585.8,416.5 586.0,432.8 586.2,439.1 586.4,410.1 586.6,430.4 586.8,409.4 587.0,425.0 587.2,430.3 587.4,414.5 587.6,412.7 587.8,399.2 588.0,400.8 588.2,399.4 588.4,377.9 588.6,365.2 588.8,353.8 589.0,338.5 589.2,295.9 589.4,285.2 589.6,251.8 589.8,233.4 590.0,210.6 590.2,181.1 590.4,173.3 590.6,157.0 590.8,159.0 591.0,170.2 591.2,202.5 591.4,230.1 591.6,255.9 591.8,274.6 592.0,309.1 592.2,328.1 592.4,355.7 592.6,364.2 592.8,389.3 593.0,392.0 593.2,382.9 593.4,403.7 593.6,398.5 593.8,422.8 594.0,430.1 594.2,420.6 594.4,426.8 594.6,412.9 594.8,408.6 595.0,423.4 595.2,427.2 595.4,417.7 595.6,432.1 595.8,434.9 596.0,438.4 596.2,446.7 596.4,441.1 596.6,431.8 596.8,436.3 597.0,441.0 597.2,427.6 597.4,447.9 597.6,444.7 597.8,435.6 598.0,432.4 598.2,456.1 598.4,445.4 598.6,446.5 598.8,453.9 599.0,447.3 599.2,441.0 599.4,445.4 599.6,432.0 599.8,445.8 600.0,427.1 600.2,443.7 600.4,445.0 600.6,427.3 600.8,468.0 601.0,431.0 601.2,449.6 601.4,436.5 601.6,443.7 601.8,435.6 602.0,459.3 602.2,450.0 602.4,456.7 602.6,448.1 602.8,447.5 603.0,443.0 603.2,439.7 603.4,447.0 603.6,443.2 603.8,440.7 604.0,430.4 604.2,439.5 604.4,447.2 604.6,438.2 604.8,445.1 605.0,441.0 605.2,433.6 605.4,434.7 605.6,436.1 605.8,439.9 606.0,440.1 606.2,451.8 606.4,433.2 606.6,425.0 606.8,448.2 607.0,438.5 607.2,441.3 607.4,460.3 607.6,454.7 607.8,447.2 608.0,450.2 608.2,443.1 608.4,450.1 608.6,436.6 608.8,435.6 609.0,437.6 609.2,454.8 609.4,454.3 609.6,435.6 609.8,450.3 610.0,438.6 610.2,448.6 610.4,436.1 610.6,446.1 610.8,436.0 611.0,433.3 611.2,434.2 611.4,434.1 611.6,425.9 611.8,417.1 612.0,440.9 612.2,420.5 612.4,405.6 612.6,399.8 612.8,397.0 613.0,408.0 613.2,422.8 613.4,396.0 613.6,406.8 613.8,394.3 614.0,420.8 614.2,416.6 614.4,418.7 614.6,430.3 614.8,435.7 615.0,433.2 615.2,422.1 615.4,418.1 615.6,422.7 615.8,418.6 616.0,450.8 616.2,435.1 616.4,439.1 616.6,440.8 616.8,457.4 617.0,435.9 617.2,451.5 617.4,444.5 617.6,441.0 617.8,426.2 618.0,450.9 618.2,436.9 618.4,439.6 618.6,445.7 618.8,444.8 619.0,453.8 619.2,438.5 619.4,445.9 619.6,447.0 619.8,444.9 620.0,450.7 620.2,442.7 620.4,455.5 620.6,439.0 620.8,432.8 621.0,445.0 621.2,455.6 621.4,441.0 621.6,440.1 621.8,442.6 622.0,447.1 622.2,444.2 622.4,448.5 622.6,431.0 622.8,459.0 623.0,451.1 623.2,438.6 623.4,458.0 623.6,450.1 623.8,459.0 624.0,436.0 624.2,460.7 624.4,446.8 624.6,428.5 624.8,453.0 625.0,443.9 625.2,437.7 625.4,444.7 625.6,429.7 625.8,451.7 626.0,444.8 626.2,444.4 626.4,459.1 626.6,447.1 626.8,441.1 627.0,438.6 627.2,446.4 627.4,456.2 627.6,441.9 627.8,437.9 628.0,455.1 628.2,447.6 628.4,446.9 628.6,465.3 628.8,436.5 629.0,448.9 629.2,431.7 629.4,444.6 629.6,452.4 629.8,457.1 630.0,436.2 630.2,454.6 630.4,454.2 630.6,446.3 630.8,465.7 631.0,447.4 631.2,439.7 631.4,451.2 631.6,431.1 631.8,461.2 632.0,456.2 632.2,444.0 632.4,452.9 632.6,452.2 632.8,464.5 633.0,442.2 633.2,436.2 633.4,429.7 633.6,445.0 633.8,433.8 634.0,446.1 634.2,451.2 634.4,443.7 634.6,439.3 634.8,458.1 635.0,445.8 635.2,449.6 635.4,455.9 635.6,436.0 635.8,439.4 636.0,466.0 636.2,446.0 636.4,438.2 636.6,445.1 636.8,442.2 637.0,436.4 637.2,443.5 637.4,446.9 637.6,446.8 637.8,451.6 638.0,431.4 638.2,433.3 638.4,453.3 638.6,442.2 638.8,456.6 639.0,448.1 639.2,432.5 639.4,449.1 639.6,434.7 639.8,445.0 640.0,452.5 640.2,458.7 640.4,437.7 640.6,442.3 640.8,436.3 641.0,437.7 641.2,408.1 641.4,420.5 641.6,423.0 641.8,421.3 642.0,407.9 642.2,420.5 642.4,423.0 642.6,415.3 642.8,415.1 643.0,417.2 643.2,425.1 643.4,437.9 643.6,444.0 643.8,429.5 644.0,427.9 644.2,431.3 644.4,448.9 644.6,443.6 644.8,445.5 645.0,448.0 645.2,447.8 645.4,444.0 645.6,436.3 645.8,440.4 646.0,447.3 646.2,450.0 646.4,443.4 646.6,443.2 646.8,459.2 647.0,443.0 647.2,449.3 647.4,444.6 647.6,439.9 647.8,434.1 648.0,442.9 648.2,440.5 648.4,455.4 648.6,437.7 648.8,444.3 649.0,453.8 649.2,447.0 649.4,452.5 649.6,455.6 649.8,433.4 650.0,444.5 650.2,439.6 650.4,460.2 650.6,447.2 650.8,452.7 651.0,463.4 651.2,445.1 651.4,449.0 651.6,452.0 651.8,446.0 652.0,459.6 652.2,455.7 652.4,457.3 652.6,448.8 652.8,445.4 653.0,445.3 653.2,445.2 653.4,433.8 653.6,451.7 653.8,455.7 654.0,448.4 654.2,444.0 654.4,448.8 654.6,450.5 654.8,451.4 655.0,464.5 655.2,440.8 655.4,451.7 655.6,454.6 655.8,449.2 656.0,446.4 656.2,439.3 656.4,443.2 656.6,454.8 656.8,461.4 657.0,442.6 657.2,452.7 657.4,453.1 657.6,457.5 657.8,450.7 658.0,452.4 658.2,456.4 658.4,438.1 658.6,448.9 658.8,432.7 659.0,430.9 659.2,441.1 659.4,434.7 659.6,453.0 659.8,457.3 660.0,445.7 660.2,447.2 660.4,446.4 660.6,446.1 660.8,449.6 661.0,451.6 661.2,441.6 661.4,441.4 661.6,443.8 661.8,455.5 662.0,444.7 662.2,461.3 662.4,446.2 662.6,460.6 662.8,437.7 663.0,442.2 663.2,452.6 663.4,452.7 663.6,447.0 663.8,466.5 664.0,449.0 664.2,450.9 664.4,443.3 664.6,463.1 664.8,456.0 665.0,452.0 665.2,433.7 665.4,451.6 665.6,444.2 665.8,451.8 666.0,456.4 666.2,441.6 666.4,450.2 666.6,456.1 666.8,449.7 667.0,445.3 667.2,438.8 667.4,442.3 667.6,436.9 667.8,457.1 668.0,450.0 668.2,437.4 668.4,448.2 668.6,436.7 668.8,428.4 669.0,459.0 669.2,458.7 669.4,435.0 669.6,441.8 669.8,450.0 670.0,444.7 670.2,440.5 670.4,443.6 670.6,446.0 670.8,443.2 671.0,450.0 671.2,446.0 671.4,441.3 671.6,448.3 671.8,433.2 672.0,461.0 672.2,432.5 672.4,447.3 672.6,451.1 672.8,451.8 673.0,450.4 673.2,459.3 673.4,437.9 673.6,447.4 673.8,449.3 674.0,443.5 674.2,442.7 674.4,459.5 674.6,441.6 674.8,443.7 675.0,445.5 675.2,446.0 675.4,449.4 675.6,446.0 675.8,451.2 676.0,449.1 676.2,452.2 676.4,460.1 676.6,440.3 676.8,462.6 677.0,443.8 677.2,453.8 677.4,449.2 677.6,445.1 677.8,430.1 678.0,462.2 678.2,440.9 678.4,440.6 678.6,457.2 678.8,448.3 679.0,464.7 679.2,462.7 679.4,454.0 679.6,449.8 679.8,454.4 680.0,435.7 680.2,449.1 680.4,448.8 680.6,443.2 680.8,449.7 681.0,434.3 681.2,455.5 681.4,458.9 681.6,435.7 681.8,448.6 682.0,461.1 682.2,451.0 682.4,438.0 682.6,438.3 682.8,454.7 683.0,463.5 683.2,437.3 683.4,447.3 683.6,440.0 683.8,444.3 684.0,449.6 684.2,446.4 684.4,440.5 684.6,465.4 684.8,445.1 685.0,444.8 685.2,456.2 685.4,446.3 685.6,444.3 685.8,454.4 686.0,436.6 686.2,452.3 686.4,454.6 686.6,451.1 686.8,443.4 687.0,444.6 687.2,429.1 687.4,442.8 687.6,446.1 687.8,450.7 688.0,443.5 688.2,437.9 688.4,432.8 688.6,438.4 688.8,438.1 689.0,445.2 689.2,431.4 689.4,422.9 689.6,421.7 689.8,410.0 690.0,408.9 690.2,384.9 690.4,384.1 690.6,382.6 690.8,390.0 691.0,389.5 691.2,394.4 691.4,408.5 691.6,395.2 691.8,421.0 692.0,420.5 692.2,416.2 692.4,440.4 692.6,418.5 692.8,424.3 693.0,434.9 693.2,442.2 693.4,438.4 693.6,422.3 693.8,439.4 694.0,442.0 694.2,462.7 694.4,455.8 694.6,445.1 694.8,434.7 695.0,447.6 695.2,434.6 695.4,446.8 695.6,448.4 695.8,441.8 696.0,447.7 696.2,442.7 696.4,440.7 696.6,459.3 696.8,451.0 697.0,443.3 697.2,439.3 697.4,447.7 697.6,451.1 697.8,453.7 698.0,459.2 698.2,450.3 698.4,436.5 698.6,464.2 698.8,456.6 699.0,453.7 699.2,458.2 699.4,433.4 699.6,443.2 699.8,442.0 700.0,456.9 700.2,436.1 700.4,443.7 700.6,459.8 700.8,452.2 701.0,443.1 701.2,463.0 701.4,434.9 701.6,450.5 701.8,444.5 702.0,451.0 702.2,444.1 702.4,439.2 702.6,448.4 702.8,435.0 703.0,451.1 703.2,443.7 703.4,454.5 703.6,442.5 703.8,440.6 704.0,449.9 704.2,457.2 704.4,428.3 704.6,447.4 704.8,451.8 705.0,433.9 705.2,438.6 705.4,451.9 705.6,439.0 705.8,440.7 706.0,461.2 706.2,438.0 706.4,438.6 706.6,426.5 706.8,436.5 707.0,435.3 707.2,461.0 707.4,456.6 707.6,434.9 707.8,463.1 708.0,452.6 708.2,444.3 708.4,452.9 708.6,449.1 708.8,439.0 709.0,430.3 709.2,437.7 709.4,445.5 709.6,442.4 709.8,438.9 710.0,453.8 710.2,436.0 710.4,452.9 710.6,440.9 710.8,445.9 711.0,435.1 711.2,444.7 711.4,437.9 711.6,429.3 711.8,444.3 712.0,443.8 712.2,451.4 712.4,446.4 712.6,435.0 712.8,438.3 713.0,423.9 713.2,433.4 713.4,454.2 713.6,455.8 713.8,449.0 714.0,444.6 714.2,446.7 714.4,445.4 714.6,425.6 714.8,432.5 715.0,449.8 715.2,448.9 715.4,439.8 715.6,433.9 715.8,431.9 716.0,428.9 716.2,423.5 716.4,412.3 716.6,427.3 716.8,418.4 717.0,416.1 717.2,427.7 717.4,412.0 717.6,394.0 717.8,397.6 718.0,371.5 718.2,385.4 718.4,370.5 718.6,359.5 718.8,360.7 719.0,353.0 719.2,348.7 719.4,347.1 719.6,379.5 719.8,368.3 720.0,389.1 720.2,378.5 720.4,395.7 720.6,394.3 720.8,412.1 721.0,410.1 721.2,411.8 721.4,435.5 721.6,428.6 721.8,411.0 722.0,429.1 722.2,425.2 722.4,424.2 722.6,431.0 722.8,433.0 723.0,438.3 723.2,431.8 723.4,423.2 723.6,435.2 723.8,448.0 724.0,428.8 724.2,446.4 724.4,445.3 724.6,437.6 724.8,444.4 725.0,435.4 725.2,438.6 725.4,433.3 725.6,446.4 725.8,454.3 726.0,436.6 726.2,452.9 726.4,424.0 726.6,434.8 726.8,433.7 727.0,457.5 727.2,437.3 727.4,449.1 727.6,424.4 727.8,443.1 728.0,446.8 728.2,441.4 728.4,422.2 728.6,442.7 728.8,447.9 729.0,451.9 729.2,443.4 729.4,424.6 729.6,436.7 729.8,445.4 730.0,429.2 730.2,439.7 730.4,428.6 730.6,431.1 730.8,433.8 731.0,417.2 731.2,438.0 731.4,414.6 731.6,410.0 731.8,393.6 732.0,393.1 732.2,382.7 732.4,365.4 732.6,359.4 732.8,370.5 733.0,369.0 733.2,353.6 733.4,359.5 733.6,382.4 733.8,392.1 734.0,405.4 734.2,396.4 734.4,418.6 734.6,416.2 734.8,419.1 735.0,426.2 735.2,439.1 735.4,437.9 735.6,442.8 735.8,430.6 736.0,435.4 736.2,428.7 736.4,434.8 736.6,436.8 736.8,436.7 737.0,447.4 737.2,445.3 737.4,448.4 737.6,443.2 737.8,451.6 738.0,443.4 738.2,450.9 738.4,446.9 738.6,448.9 738.8,441.9 739.0,431.6 739.2,429.6 739.4,458.9 739.6,444.8 739.8,444.7 740.0,438.5 740.2,434.7 740.4,456.1 740.6,424.9 740.8,431.2 741.0,427.6 741.2,414.0 741.4,408.1 741.6,408.7 741.8,408.6 742.0,406.1 742.2,418.7 742.4,404.7 742.6,422.9 742.8,436.9 743.0,436.2 743.2,422.3 743.4,416.1 743.6,445.0 743.8,443.8 744.0,435.7 744.2,452.9 744.4,439.0 744.6,444.0 744.8,434.4 745.0,446.5 745.2,440.2 745.4,439.8 745.6,453.6 745.8,446.2 746.0,431.4 746.2,450.4 746.4,451.7 746.6,437.2 746.8,440.9 747.0,444.6 747.2,441.8 747.4,444.8 747.6,448.9 747.8,438.5 748.0,460.0 748.2,434.7 748.4,434.7 748.6,454.5 748.8,453.9 749.0,432.1 749.2,426.5 749.4,414.9 749.6,430.3 749.8,419.2 750.0,409.3 750.2,421.2 750.4,432.4 750.6,430.3 750.8,447.4 751.0,442.1 751.2,439.1 751.4,437.6 751.6,444.7 751.8,452.0 752.0,450.0 752.2,452.6 752.4,446.0 752.6,451.2 752.8,455.5 753.0,443.8 753.2,434.3 753.4,460.6 753.6,450.9 753.8,442.2 754.0,448.2 754.2,442.7 754.4,431.7 754.6,444.9 754.8,434.3 755.0,448.4 755.2,445.8 755.4,456.5 755.6,445.8 755.8,450.1 756.0,444.3 756.2,443.7 756.4,435.0 756.6,455.6 756.8,448.5 757.0,442.1 757.2,448.9 757.4,443.6 757.6,440.9 757.8,449.4 758.0,457.7 758.2,444.9 758.4,435.0 758.6,442.0 758.8,462.8 759.0,440.3 759.2,457.6 759.4,445.3 759.6,453.7 759.8,446.5 760.0,433.8 760.2,443.9 760.4,465.6 760.6,446.3 760.8,452.3 761.0,444.5 761.2,446.3 761.4,450.2 761.6,451.5 761.8,466.3 762.0,447.3 762.2,445.9 762.4,441.7 762.6,436.2 762.8,433.6 763.0,453.1 763.2,431.4 763.4,459.5 763.6,454.8 763.8,444.9 764.0,437.5 764.2,447.7 764.4,447.6 764.6,457.1 764.8,441.0 765.0,444.2 765.2,446.9 765.4,445.0 765.6,442.0 765.8,432.7 766.0,433.3 766.2,441.6 766.4,445.4 766.6,455.9 766.8,466.2 767.0,462.0 767.2,450.7 767.4,463.4 767.6,446.3 767.8,442.8 768.0,466.1 768.2,438.2 768.4,443.7 768.6,445.0 768.8,459.8 769.0,442.2 769.2,453.9 769.4,443.8 769.6,436.8 769.8,449.3 770.0,448.7 770.2,437.3 770.4,439.8 770.6,440.4 770.8,455.4 771.0,451.1 771.2,449.2 771.4,451.4 771.6,443.1 771.8,451.2 772.0,442.0 772.2,435.8 772.4,441.1 772.6,448.9 772.8,447.9 773.0,456.1 773.2,432.7 773.4,445.2 773.6,450.5 773.8,438.9 774.0,449.2 774.2,443.6 774.4,437.4 774.6,456.6 774.8,435.2 775.0,455.6 775.2,443.5 775.4,439.0 775.6,439.5 775.8,440.7 776.0,439.8 776.2,449.3 776.4,431.1 776.6,457.5 776.8,454.1 777.0,458.8 777.2,438.6 777.4,428.1 777.6,441.6 777.8,445.5 778.0,449.5 778.2,442.5 778.4,446.2 778.6,448.2 778.8,433.7 779.0,462.2 779.2,437.3 779.4,449.1 779.6,456.0 779.8,440.2 780.0,446.9 780.2,460.7 780.4,444.4 780.6,455.7 780.8,449.3 781.0,448.7 781.2,452.9 781.4,444.8 781.6,445.0 781.8,454.9 782.0,449.0 782.2,451.0 782.4,436.6 782.6,446.9 782.8,457.0 783.0,454.3 783.2,449.6 783.4,442.3 783.6,441.5 783.8,450.4 784.0,458.7 784.2,447.0 784.4,457.7 784.6,444.1 784.8,456.8 785.0,438.2 785.2,448.2 785.4,437.6 785.6,452.2 785.8,451.4 786.0,438.5 786.2,440.3 786.4,442.8 786.6,433.9 786.8,438.7 787.0,439.2 787.2,453.1 787.4,458.2 787.6,442.7 787.8,444.0 788.0,448.3 788.2,442.0 788.4,444.1 788.6,453.5 788.8,448.4 789.0,445.7 789.2,441.6 789.4,458.8 789.6,441.2 789.8,447.4 790.0,437.6 790.2,441.3 790.4,447.1 790.6,443.0 790.8,450.8 791.0,446.9 791.2,434.6 791.4,427.6 791.6,454.6 791.8,441.3 792.0,458.7 792.2,446.3 792.4,439.8 792.6,450.9 792.8,443.9 793.0,446.3 793.2,438.3 793.4,451.5 793.6,455.3 793.8,441.7 794.0,461.1 794.2,441.3 794.4,448.2 794.6,432.3 794.8,429.8 795.0,463.7 795.2,458.0 795.4,455.6 795.6,431.7 795.8,447.9 796.0,449.5 796.2,446.6 796.4,448.4 796.6,438.2 796.8,444.5 797.0,436.3 797.2,442.9 797.4,449.0 797.6,439.3 797.8,443.5 798.0,442.2 798.2,445.9 798.4,453.5 798.6,447.7 798.8,449.0 799.0,433.6 799.2,442.6 799.4,452.5 799.6,438.4 799.8,442.0 800.0,437.5 800.2,456.8 800.4,441.8 800.6,439.4 800.8,450.7 801.0,454.7 801.2,449.6 801.4,453.7 801.6,447.2 801.8,444.4 802.0,441.7 802.2,441.1 802.4,440.4 802.6,448.4 802.8,444.4 803.0,446.6 803.2,450.4 803.4,444.8 803.6,433.8 803.8,438.6 804.0,435.8 804.2,429.2 804.4,446.0 804.6,435.1 804.8,434.3 805.0,436.0 805.2,452.3 805.4,442.4 805.6,453.3 805.8,444.2 806.0,441.3 806.2,449.6 806.4,449.8 806.6,445.8 806.8,436.1 807.0,440.9 807.2,434.8 807.4,442.5 807.6,445.4 807.8,457.0 808.0,456.4 808.2,450.1 808.4,452.4 808.6,446.3 808.8,462.7 809.0,457.1 809.2,462.6 809.4,447.4 809.6,447.6 809.8,452.9 810.0,445.6 810.2,446.5 810.4,435.6 810.6,451.6 810.8,444.8 811.0,450.4 811.2,441.7 811.4,428.5 811.6,447.5 811.8,453.0 812.0,432.4 812.2,434.8 812.4,440.3 812.6,440.6 812.8,428.3 813.0,457.1 813.2,450.7 813.4,436.9 813.6,426.7 813.8,444.7 814.0,458.0 814.2,448.1 814.4,450.5 814.6,432.7 814.8,442.2 815.0,427.3 815.2,456.0 815.4,443.8 815.6,420.9 815.8,422.4 816.0,441.3 816.2,437.7 816.4,433.0 816.6,439.8 816.8,450.2 817.0,434.9 817.2,414.9 817.4,426.4 817.6,413.8 817.8,414.4 818.0,419.2 818.2,409.3 818.4,394.8 818.6,395.0 818.8,378.4 819.0,378.2 819.2,358.9 819.4,350.6 819.6,331.3 819.8,327.2 820.0,309.9 820.2,305.0 820.4,300.8 820.6,312.2 820.8,306.1 821.0,351.9 821.2,341.5 821.4,361.6 821.6,369.6 821.8,380.9 822.0,398.4 822.2,399.2 822.4,406.9 822.6,404.7 822.8,413.1 823.0,414.7 823.2,442.4 823.4,418.5 823.6,422.5 823.8,434.5 824.0,446.1 824.2,421.0 824.4,423.1 824.6,437.8 824.8,440.2 825.0,426.1 825.2,423.3 825.4,430.8 825.6,445.4 825.8,439.2 826.0,446.1 826.2,439.3 826.4,440.1 826.6,445.8 826.8,439.9 827.0,443.0 827.2,433.6 827.4,436.4 827.6,445.4 827.8,439.6 828.0,435.5 828.2,447.4 828.4,446.6 828.6,442.0 828.8,435.9 829.0,449.7 829.2,460.9 829.4,435.6 829.6,429.6 829.8,436.0 830.0,434.8 830.2,432.1 830.4,432.8 830.6,449.8 830.8,450.0 831.0,455.2 831.2,449.1 831.4,438.9 831.6,452.0 831.8,437.9 832.0,440.1 832.2,433.2 832.4,453.3 832.6,451.5 832.8,439.2 833.0,440.5 833.2,443.4 833.4,444.8 833.6,450.2 833.8,443.7 834.0,446.5 834.2,430.7 834.4,440.7 834.6,428.3 834.8,458.1 835.0,454.8 835.2,449.2 835.4,452.5 835.6,459.9 835.8,451.1 836.0,430.0 836.2,441.5 836.4,425.2 836.6,436.5 836.8,432.9 837.0,443.2 837.2,446.5 837.4,435.5 837.6,440.9 837.8,445.6 838.0,442.0 838.2,441.8 838.4,425.2 838.6,439.6 838.8,449.8 839.0,445.4 839.2,430.9 839.4,441.0 839.6,445.4 839.8,435.1 840.0,448.8 840.2,436.5 840.4,440.4 840.6,442.3 840.8,461.7 841.0,440.5 841.2,438.4 841.4,449.1 841.6,439.2 841.8,444.8 842.0,425.1 842.2,445.6 842.4,443.0 842.6,432.4 842.8,454.4 843.0,441.1 843.2,441.5 843.4,432.1 843.6,429.5 843.8,438.3 844.0,430.4 844.2,447.1 844.4,450.2 844.6,437.7 844.8,429.6 845.0,439.7 845.2,434.2 845.4,444.3 845.6,444.4 845.8,439.4 846.0,443.5 846.2,451.5 846.4,457.0 846.6,438.5 846.8,448.9 847.0,440.9 847.2,434.1 847.4,453.5 847.6,446.1 847.8,444.0 848.0,445.7 848.2,441.4 848.4,434.0 848.6,457.5 848.8,450.2 849.0,444.9 849.2,450.7 849.4,453.4 849.6,441.0 849.8,447.5 850.0,440.0 850.2,448.0 850.4,440.5 850.6,461.2 850.8,439.6 851.0,446.9 851.2,446.4 851.4,439.8 851.6,450.3 851.8,441.8 852.0,439.1 852.2,442.5 852.4,436.3 852.6,452.4 852.8,447.7 853.0,450.6 853.2,431.2 853.4,444.7 853.6,436.0 853.8,443.1 854.0,452.9 854.2,444.5 854.4,440.9 854.6,451.6 854.8,450.7 855.0,457.6 855.2,426.9 855.4,445.0 855.6,438.8 855.8,435.0 856.0,443.2 856.2,432.6 856.4,424.3 856.6,434.7 856.8,440.0 857.0,457.6 857.2,436.2 857.4,432.5 857.6,425.8 857.8,439.2 858.0,440.1 858.2,443.3 858.4,430.1 858.6,435.8 858.8,424.2 859.0,443.4 859.2,429.0 859.4,424.1 859.6,451.6 859.8,446.2 860.0,444.9 860.2,444.9 860.4,433.4 860.6,450.8 860.8,433.2 861.0,457.7 861.2,443.8 861.4,426.6 861.6,449.0 861.8,458.2 862.0,439.7 862.2,450.6 862.4,440.0 862.6,436.6 862.8,423.9 863.0,452.0 863.2,438.1 863.4,444.9 863.6,432.3 863.8,434.2 864.0,450.9 864.2,436.0 864.4,438.3 864.6,431.2 864.8,443.4 865.0,448.1 865.2,437.8 865.4,440.0 865.6,431.5 865.8,453.2 866.0,436.4 866.2,440.2 866.4,455.5 866.6,439.6 866.8,428.6 867.0,433.8 867.2,438.5 867.4,456.2 867.6,443.3 867.8,439.6 868.0,448.3 868.2,452.2 868.4,435.1 868.6,453.3 868.8,448.5 869.0,445.1 869.2,423.4 869.4,443.0 869.6,452.9 869.8,439.0 870.0,459.7 870.2,441.9 870.4,432.8 870.6,446.2 870.8,443.7 871.0,448.1 871.2,439.4 871.4,452.0 871.6,436.6 871.8,442.3 872.0,430.8 872.2,434.5 872.4,442.8 872.6,435.7 872.8,437.4 873.0,439.4 873.2,443.2 873.4,447.4 873.6,447.4 873.8,449.6 874.0,442.7 874.2,436.5 874.4,427.8 874.6,438.1 874.8,434.3 875.0,425.8 875.2,454.6 875.4,425.6 875.6,443.9 875.8,445.5 876.0,438.9 876.2,459.2 876.4,441.0 876.6,434.4 876.8,455.5 877.0,434.1 877.2,428.8 877.4,432.4 877.6,435.4 877.8,441.1 878.0,443.5 878.2,428.0 878.4,443.6 878.6,458.9 878.8,434.6 879.0,439.5 879.2,446.4 879.4,450.6 879.6,435.0 879.8,432.5 880.0,432.1 880.2,449.6 880.4,448.0 880.6,422.5 880.8,422.5 881.0,430.1 881.2,427.8 881.4,443.8 881.6,442.2 881.8,456.7 882.0,446.9 882.2,441.3 882.4,450.1 882.6,432.8 882.8,428.5 883.0,440.5 883.2,448.0 883.4,426.6 883.6,447.6 883.8,447.3 884.0,435.9 884.2,441.4 884.4,437.7 884.6,440.6 884.8,446.7 885.0,433.2 885.2,448.5 885.4,447.1 885.6,447.3 885.8,423.3 886.0,424.1 886.2,445.4 886.4,434.7 886.6,433.7 886.8,433.1 887.0,428.2 887.2,436.9 887.4,433.2 887.6,433.7 887.8,443.1 888.0,429.1 888.2,448.3 888.4,420.9 888.6,456.9 888.8,427.1 889.0,443.2 889.2,445.8 889.4,437.9 889.6,444.0 889.8,436.6 890.0,422.5 890.2,439.7 890.4,446.0 890.6,431.2 890.8,421.0 891.0,429.3 891.2,436.0 891.4,434.5 891.6,439.5 891.8,432.9 892.0,430.0 892.2,406.2 892.4,437.8 892.6,416.3 892.8,419.2 893.0,405.1 893.2,403.1 893.4,402.2 893.6,400.0 893.8,412.6 894.0,406.7 894.2,420.9 894.4,404.6 894.6,416.2 894.8,412.0 895.0,430.3 895.2,423.1 895.4,433.8 895.6,442.5 895.8,412.8 896.0,449.9 896.2,435.7 896.4,431.4 896.6,418.9 896.8,433.1 897.0,418.2 897.2,437.3 897.4,435.5 897.6,452.5 897.8,434.7 898.0,446.6 898.2,447.6 898.4,455.2 898.6,436.0 898.8,444.6 899.0,425.6 899.2,429.1 899.4,436.2 899.6,438.4 899.8,428.4 900.0,435.2 900.2,444.6 900.4,435.0 900.6,437.6 900.8,431.4 901.0,450.5 901.2,453.9 901.4,440.7 901.6,438.1 901.8,462.8 902.0,443.1 902.2,433.5 902.4,427.8 902.6,434.2 902.8,457.3 903.0,434.2 903.2,457.3 903.4,439.2 903.6,437.4 903.8,450.3 904.0,437.2 904.2,442.4 904.4,430.5 904.6,428.8 904.8,433.0 905.0,441.1 905.2,433.7 905.4,422.7 905.6,443.3 905.8,437.9 906.0,436.9 906.2,434.1 906.4,421.2 906.6,452.6 906.8,435.2 907.0,443.7 907.2,451.0 907.4,448.8 907.6,440.9 907.8,439.3 908.0,441.8 908.2,446.9 908.4,447.5 908.6,435.5 908.8,443.0 909.0,442.4 909.2,445.1 909.4,440.9 909.6,450.7 909.8,440.9 910.0,446.7 910.2,439.6 910.4,434.3 910.6,431.2 910.8,437.8 911.0,443.7 911.2,449.8 911.4,438.4 911.6,434.8 911.8,434.8 912.0,450.0 912.2,440.0 912.4,434.9 912.6,445.3 912.8,428.0 913.0,440.1 913.2,438.7 913.4,437.9 913.6,429.3 913.8,447.3 914.0,453.2 914.2,427.9 914.4,440.0 914.6,444.4 914.8,457.1 915.0,435.5 915.2,431.0 915.4,438.9 915.6,455.9 915.8,439.5 916.0,441.2 916.2,453.9 916.4,421.0 916.6,420.9 916.8,446.6 917.0,445.4 917.2,427.2 917.4,443.2 917.6,439.2 917.8,440.7 918.0,432.1 918.2,435.0 918.4,431.5 918.6,439.3 918.8,436.9 919.0,453.0 919.2,444.1 919.4,425.6 919.6,442.3 919.8,450.9 920.0,441.2 920.2,447.9 920.4,438.5 920.6,444.7 920.8,430.9 921.0,445.4 921.2,427.2 921.4,449.6 921.6,426.0 921.8,420.9 922.0,443.2 922.2,437.3 922.4,439.7 922.6,442.3 922.8,438.5 923.0,431.3 923.2,440.5 923.4,441.7 923.6,442.9 923.8,455.5 924.0,432.5 924.2,439.3 924.4,443.4 924.6,435.0 924.8,428.6 925.0,433.9 925.2,447.7 925.4,436.4 925.6,443.9 925.8,432.5 926.0,442.5 926.2,433.0 926.4,431.6 926.6,439.6 926.8,439.1 927.0,451.1 927.2,425.0 927.4,443.0 927.6,452.3 927.8,450.2 928.0,435.4 928.2,432.9 928.4,434.5 928.6,441.2 928.8,440.3 929.0,441.6 929.2,443.7 929.4,429.6 929.6,429.1 929.8,428.3 930.0,427.3 930.2,437.8 930.4,441.3 930.6,456.7 930.8,443.1 931.0,438.8 931.2,450.6 931.4,432.4 931.6,441.5 931.8,446.8 932.0,445.2 932.2,442.0 932.4,435.6 932.6,428.1 932.8,437.3 933.0,433.5 933.2,444.4 933.4,437.4 933.6,443.3 933.8,425.0 934.0,446.7 934.2,431.3 934.4,425.3 934.6,426.9 934.8,433.2 935.0,447.9 935.2,444.5 935.4,428.6 935.6,439.2 935.8,437.5 936.0,425.2 936.2,430.1 936.4,409.2 936.6,431.0 936.8,420.3 937.0,431.6 937.2,430.4 937.4,431.6 937.6,431.4 937.8,448.0 938.0,435.3 938.2,440.3 938.4,444.6 938.6,445.8 938.8,443.9 939.0,433.5 939.2,428.9 939.4,431.6 939.6,434.1 939.8,438.1 940.0,437.3 940.2,447.3 940.4,437.1 940.6,453.1 940.8,446.6 941.0,433.9 941.2,445.1 941.4,419.8 941.6,449.4 941.8,441.2 942.0,441.1 942.2,423.5 942.4,455.7 942.6,435.5 942.8,436.3 943.0,447.0 943.2,435.8 943.4,430.2 943.6,442.8 943.8,428.7 944.0,443.4 944.2,438.2 944.4,446.5 944.6,426.7 944.8,447.3 945.0,439.2 945.2,453.2 945.4,431.0 945.6,452.0 945.8,442.2 946.0,442.7 946.2,429.8 946.4,440.5 946.6,441.2 946.8,428.4 947.0,425.5 947.2,428.5 947.4,447.0 947.6,435.7 947.8,442.0 948.0,436.2 948.2,434.3 948.4,434.8 948.6,429.0 948.8,442.2 949.0,432.8 949.2,432.5 949.4,418.2 949.6,431.5 949.8,422.1 950.0,422.2 950.2,433.4 950.4,413.4 950.6,418.3 950.8,422.0 951.0,422.2 951.2,402.9 951.4,403.5 951.6,395.4 951.8,374.1 952.0,354.7 952.2,344.2 952.4,352.0 952.6,333.8 952.8,308.1 953.0,302.4 953.2,296.5 953.4,297.0 953.6,299.6 953.8,325.9 954.0,312.8 954.2,334.1 954.4,340.4 954.6,355.1 954.8,365.3 955.0,381.7 955.2,388.3 955.4,405.8 955.6,409.1 955.8,405.0 956.0,432.8 956.2,410.1 956.4,425.6 956.6,442.8 956.8,420.4 957.0,438.9 957.2,440.8 957.4,432.7 957.6,415.1 957.8,443.3 958.0,432.7 958.2,427.9 958.4,443.7 958.6,427.3 958.8,442.7 959.0,429.5 959.2,438.9 959.4,425.6 959.6,431.6 959.8,427.5 960.0,429.4 960.2,437.2 960.4,434.3 960.6,437.5 960.8,446.9 961.0,435.3 961.2,420.7 961.4,434.0 961.6,437.3 961.8,445.3 962.0,445.5 962.2,444.9 962.4,435.0 962.6,442.5 962.8,425.0 963.0,448.0 963.2,440.9 963.4,441.6 963.6,434.2 963.8,437.9 964.0,431.8 964.2,442.3 964.4,426.4 964.6,445.8 964.8,442.2 965.0,454.7 965.2,437.4 965.4,436.9 965.6,439.4 965.8,438.1 966.0,436.9 966.2,428.6 966.4,428.6 966.6,433.1 966.8,435.5 967.0,427.9 967.2,428.2 967.4,435.6 967.6,444.2 967.8,436.4 968.0,443.7 968.2,446.2 968.4,444.5 968.6,434.5 968.8,434.7 969.0,422.4 969.2,432.3 969.4,442.0 969.6,429.0 969.8,449.5 970.0,450.2 970.2,435.0 970.4,445.9 970.6,426.2 970.8,429.3 971.0,435.0 971.2,438.3 971.4,436.6 971.6,430.9 971.8,454.7 972.0,440.7 972.2,440.6 972.4,443.9 972.6,439.7 972.8,436.3 973.0,433.5 973.2,424.5 973.4,450.8 973.6,430.5 973.8,424.2 974.0,431.4 974.2,424.8 974.4,455.0 974.6,441.3 974.8,450.1 975.0,450.5 975.2,443.0 975.4,443.1 975.6,432.2 975.8,437.5 976.0,433.2 976.2,438.6 976.4,432.4 976.6,448.9 976.8,444.7 977.0,437.4 977.2,424.2 977.4,444.0 977.6,445.7 977.8,437.7 978.0,427.6 978.2,441.9 978.4,447.1 978.6,422.1 978.8,443.0 979.0,423.0 979.2,438.9 979.4,452.9 979.6,439.0 979.8,442.3 980.0,435.5 980.2,438.2 980.4,456.4 980.6,449.5 980.8,435.6 981.0,435.0 981.2,438.4 981.4,456.4 981.6,440.0 981.8,447.6 982.0,435.2 982.2,427.5 982.4,449.4 982.6,437.6 982.8,431.6 983.0,432.4 983.2,432.6 983.4,433.1 983.6,425.3 983.8,448.3 984.0,441.4 984.2,446.4 984.4,435.3 984.6,441.1 984.8,439.6 985.0,448.1 985.2,445.0 985.4,441.2 985.6,432.7 985.8,428.1 986.0,431.5 986.2,432.9 986.4,433.6 986.6,427.8 986.8,452.1 987.0,440.4 987.2,421.2 987.4,429.0 987.6,426.9 987.8,440.1 988.0,447.1 988.2,429.9 988.4,443.3 988.6,435.8 988.8,447.8 989.0,449.6 989.2,440.7 989.4,444.1 989.6,438.1 989.8,435.0 990.0,428.4 990.2,440.8 990.4,437.5 990.6,434.9 990.8,437.5 991.0,436.5 991.2,429.4 991.4,433.7 991.6,447.6 991.8,436.1 992.0,449.8 992.2,428.4 992.4,426.7 992.6,439.1 992.8,444.5 993.0,432.6 993.2,443.3 993.4,445.9 993.6,447.0 993.8,437.1 994.0,437.6 994.2,424.2 994.4,438.2 994.6,440.4 994.8,449.8 995.0,427.4 995.2,430.9 995.4,429.6 995.6,445.5 995.8,419.8 996.0,428.9 996.2,455.2 996.4,443.5 996.6,426.9 996.8,437.5 997.0,445.0 997.2,442.6 997.4,436.1 997.6,431.3 997.8,444.9 998.0,437.9 998.2,444.7 998.4,441.3 998.6,434.0 998.8,450.0 999.0,433.8 999.2,441.5 999.4,432.6 999.6,436.0 999.8,435.8 1000.0,432.4 1000.2,439.9 1000.4,448.8 1000.6,453.4 1000.8,449.8 1001.0,436.4 1001.2,450.0 1001.4,441.3 1001.6,452.8 1001.8,427.3 1002.0,450.2 1002.2,432.8 1002.4,447.4 1002.6,433.9 1002.8,445.4 1003.0,435.4 1003.2,422.1 1003.4,429.7 1003.6,435.7 1003.8,437.9 1004.0,419.5 1004.2,427.7 1004.4,431.6 1004.6,435.9 1004.8,439.5 1005.0,430.8 1005.2,425.0 1005.4,440.2 1005.6,434.9 1005.8,445.0 1006.0,433.2 1006.2,443.0 1006.4,430.2 1006.6,439.8 1006.8,438.3 1007.0,441.3 1007.2,429.8 1007.4,436.5 1007.6,430.5 1007.8,436.2 1008.0,442.7 1008.2,455.7 1008.4,437.8 1008.6,443.4 1008.8,438.4 1009.0,446.9 1009.2,441.3 1009.4,446.2 1009.6,440.4 1009.8,455.6 1010.0,448.9 1010.2,423.3 1010.4,439.9 1010.6,438.1 1010.8,419.2 1011.0,430.2 1011.2,433.6 1011.4,431.3 1011.6,438.5 1011.8,422.5 1012.0,443.6 1012.2,443.8 1012.4,440.3 1012.6,434.6 1012.8,437.4 1013.0,433.5 1013.2,446.8 1013.4,441.5 1013.6,453.8 1013.8,434.2 1014.0,449.3 1014.2,432.5 1014.4,435.8 1014.6,428.6 1014.8,441.6 1015.0,436.7 1015.2,442.4 1015.4,449.6 1015.6,436.7 1015.8,440.4 1016.0,444.7 1016.2,436.7 1016.4,432.6 1016.6,440.1 1016.8,441.3 1017.0,443.6 1017.2,444.0 1017.4,431.6 1017.6,440.8 1017.8,447.3 1018.0,433.2 1018.2,440.1 1018.4,431.9 1018.6,438.5 1018.8,451.5 1019.0,438.5 1019.2,429.0 1019.4,439.9 1019.6,438.8 1019.8,446.3 1020.0,425.6 1020.2,429.4 1020.4,436.3 1020.6,424.1 1020.8,446.4 1021.0,420.2 1021.2,430.1 1021.4,424.7 1021.6,431.5 1021.8,443.6 1022.0,441.9 1022.2,444.6 1022.4,441.9 1022.6,420.0 1022.8,439.4 1023.0,421.6 1023.2,432.7 1023.4,431.4 1023.6,432.3 1023.8,440.9 1024.0,430.1 1024.2,451.2 1024.4,441.8 1024.6,446.6 1024.8,443.1 1025.0,444.2 1025.2,436.4 1025.4,453.0 1025.6,428.0 1025.8,440.6 1026.0,436.8 1026.2,434.9 1026.4,439.3 1026.6,430.5 1026.8,443.9 1027.0,443.2 1027.2,437.5 1027.4,442.8 1027.6,428.0 1027.8,421.6 1028.0,431.8 1028.2,434.7 1028.4,454.7 1028.6,434.7 1028.8,445.1 1029.0,443.6 1029.2,454.1 1029.4,437.5 1029.6,442.0 1029.8,434.9 1030.0,429.4 1030.2,428.2 1030.4,430.0 1030.6,448.3 1030.8,438.9 1031.0,435.2 1031.2,436.6 1031.4,431.8 1031.6,436.2 1031.8,436.1 1032.0,441.8 1032.2,444.0 1032.4,422.9 1032.6,438.3 1032.8,447.8 1033.0,427.9 1033.2,434.3 1033.4,437.8 1033.6,445.5 1033.8,441.3 1034.0,434.5 1034.2,440.5 1034.4,444.9 1034.6,439.5 1034.8,451.7 1035.0,439.8 1035.2,427.6 1035.4,429.8 1035.6,435.2 1035.8,434.5 1036.0,441.4 1036.2,439.2 1036.4,450.4 1036.6,442.9 1036.8,448.5 1037.0,429.9 1037.2,432.7 1037.4,441.9 1037.6,436.9 1037.8,441.4 1038.0,438.2 1038.2,431.0 1038.4,450.3 1038.6,445.6 1038.8,423.3 1039.0,431.0 1039.2,436.3 1039.4,441.7 1039.6,435.5 1039.8,424.8 1040.0,443.0 1040.2,434.4 1040.4,446.0 1040.6,438.6 1040.8,444.4 1041.0,443.0 1041.2,443.4 1041.4,431.8 1041.6,444.6 1041.8,437.7 1042.0,425.7 1042.2,432.7 1042.4,433.2 1042.6,439.9 1042.8,441.7 1043.0,426.8 1043.2,442.0 1043.4,435.4 1043.6,427.2 1043.8,442.8 1044.0,429.6 1044.2,426.1 1044.4,442.2 1044.6,443.4 1044.8,430.5 1045.0,444.6 1045.2,444.2 1045.4,431.6 1045.6,452.4 1045.8,435.4 1046.0,437.7 1046.2,417.4 1046.4,441.1 1046.6,430.7 1046.8,439.5 1047.0,421.7 1047.2,445.4 1047.4,447.9 1047.6,451.4 1047.8,417.4 1048.0,440.7 1048.2,438.6 1048.4,417.3 1048.6,429.7 1048.8,435.1 1049.0,447.5 1049.2,428.9 1049.4,437.5 1049.6,435.3 1049.8,438.8 1050.0,432.5 1050.2,443.1 1050.4,443.8 1050.6,424.5 1050.8,445.0 1051.0,429.5 1051.2,433.4 1051.4,445.0 1051.6,436.5 1051.8,440.5 1052.0,442.2 1052.2,440.6 1052.4,431.2 1052.6,427.8 1052.8,441.3 1053.0,441.9 1053.2,438.6 1053.4,434.1 1053.6,442.7 1053.8,435.4 1054.0,424.3 1054.2,438.0 1054.4,439.8 1054.6,442.0 1054.8,428.3 1055.0,429.4 1055.2,438.4 1055.4,431.9 1055.6,435.1 1055.8,443.4 1056.0,438.9 1056.2,450.7 1056.4,438.0 1056.6,449.7 1056.8,444.4 1057.0,453.4 1057.2,435.8 1057.4,434.9 1057.6,446.4 1057.8,431.4 1058.0,431.8 1058.2,437.7 1058.4,438.7 1058.6,424.1 1058.8,437.7 1059.0,433.1 1059.2,435.4 1059.4,437.1 1059.6,434.1 1059.8,444.5 1060.0,439.7 1060.2,434.1 1060.4,436.3 1060.6,444.2 1060.8,442.1 1061.0,446.1 1061.2,434.5 1061.4,436.8 1061.6,452.2 1061.8,435.3 1062.0,449.5 1062.2,442.6 1062.4,432.1 1062.6,424.1 1062.8,440.9 1063.0,429.8 1063.2,429.8 1063.4,421.4 1063.6,445.4 1063.8,436.5 1064.0,435.8 1064.2,438.9 1064.4,437.6 1064.6,436.4 1064.8,439.8 1065.0,433.3 1065.2,416.5 1065.4,441.6 1065.6,439.1 1065.8,435.7 1066.0,448.6 1066.2,424.0 1066.4,416.4 1066.6,447.8 1066.8,438.9 1067.0,422.0 1067.2,432.1 1067.4,440.6 1067.6,425.5 1067.8,440.0 1068.0,452.8 1068.2,446.9 1068.4,435.2 1068.6,438.1 1068.8,427.6 1069.0,436.5 1069.2,432.6 1069.4,427.2 1069.6,424.3 1069.8,451.3 1070.0,436.1 1070.2,426.9 1070.4,431.9 1070.6,447.6 1070.8,448.6 1071.0,430.2 1071.2,436.9 1071.4,442.6 1071.6,432.4 1071.8,425.6 1072.0,427.2 1072.2,435.3 1072.4,428.9 1072.6,424.5 1072.8,433.2 1073.0,442.9 1073.2,440.8 1073.4,433.3 1073.6,450.9 1073.8,428.7 1074.0,434.5 1074.2,423.9 1074.4,441.5 1074.6,434.1 1074.8,421.2 1075.0,428.2 1075.2,449.9 1075.4,441.0 1075.6,435.9 1075.8,442.1 1076.0,421.8 1076.2,428.2 1076.4,424.1 1076.6,428.2 1076.8,431.8 1077.0,439.3 1077.2,443.2 1077.4,443.0 1077.6,452.4 1077.8,430.8 1078.0,434.7 1078.2,439.1 1078.4,428.1 1078.6,432.5 1078.8,438.2 1079.0,427.6 1079.2,438.7 1079.4,444.9 1079.6,425.7 1079.8,416.0 1080.0,435.5 1080.2,426.3 1080.4,436.3 1080.6,431.1 1080.8,437.3 1081.0,444.2 1081.2,441.6 1081.4,431.9 1081.6,425.2 1081.8,415.8 1082.0,416.9 1082.2,428.3 1082.4,435.6 1082.6,429.2 1082.8,429.9 1083.0,421.6 1083.2,421.2 1083.4,420.5 1083.6,439.9 1083.8,418.4 1084.0,440.3 1084.2,427.2 1084.4,439.1 1084.6,436.6 1084.8,440.8 1085.0,444.4 1085.2,428.1 1085.4,426.6 1085.6,430.9 1085.8,428.2 1086.0,440.0 1086.2,433.6 1086.4,434.5 1086.6,437.9 1086.8,430.6 1087.0,443.5 1087.2,419.3 1087.4,436.4 1087.6,438.6 1087.8,428.1 1088.0,428.7 1088.2,441.9 1088.4,431.8 1088.6,418.6 1088.8,423.3 1089.0,442.8 1089.2,427.2 1089.4,445.3 1089.6,445.8 1089.8,432.8 1090.0,439.0 1090.2,427.7 1090.4,431.2 1090.6,428.7 1090.8,439.4 1091.0,423.9 1091.2,433.4 1091.4,435.0 1091.6,438.8 1091.8,417.0 1092.0,419.8 1092.2,427.3 1092.4,432.7 1092.6,435.7 1092.8,436.2 1093.0,451.2 1093.2,440.0 1093.4,439.4 1093.6,430.6 1093.8,441.1 1094.0,440.3 1094.2,440.2 1094.4,433.7 1094.6,439.8 1094.8,447.2 1095.0,428.1 1095.2,416.8 1095.4,441.4 1095.6,440.7 1095.8,432.8 1096.0,431.0 1096.2,453.1 1096.4,430.9 1096.6,424.6 1096.8,430.8 1097.0,438.9 1097.2,429.7 1097.4,431.5 1097.6,437.3 1097.8,431.2 1098.0,435.8 1098.2,434.4 1098.4,426.0 1098.6,435.4 1098.8,425.2 1099.0,442.5 1099.2,427.1 1099.4,432.8 1099.6,419.8 1099.8,431.1 1100.0,424.5 1100.2,447.2 1100.4,433.9 1100.6,439.2 1100.8,420.4 1101.0,424.6 1101.2,433.5 1101.4,423.7 1101.6,444.3 1101.8,431.6 1102.0,436.1 1102.2,437.4 1102.4,433.7 1102.6,441.3 1102.8,429.4 1103.0,438.0 1103.2,444.8 1103.4,436.7 1103.6,436.0 1103.8,432.2 1104.0,435.5 1104.2,440.5 1104.4,433.0 1104.6,421.2 1104.8,436.4 1105.0,433.8 1105.2,438.9 1105.4,435.4 1105.6,448.0 1105.8,425.2 1106.0,427.1 1106.2,440.4 1106.4,426.6 1106.6,437.8 1106.8,435.0 1107.0,419.0 1107.2,440.6 1107.4,446.4 1107.6,436.8 1107.8,423.7 1108.0,441.6 1108.2,426.6 1108.4,434.2 1108.6,438.6 1108.8,428.8 1109.0,421.3 1109.2,434.0 1109.4,434.9 1109.6,428.2 1109.8,428.8 1110.0,441.3 1110.2,434.5 1110.4,431.4 1110.6,430.4 1110.8,436.6 1111.0,436.0 1111.2,433.9 1111.4,424.0 1111.6,432.3 1111.8,430.2 1112.0,435.9 1112.2,444.7 1112.4,443.1 1112.6,440.6 1112.8,436.3 1113.0,432.7 1113.2,438.1 1113.4,431.5 1113.6,432.6 1113.8,428.6 1114.0,435.0 1114.2,434.8 1114.4,450.4 1114.6,439.9 1114.8,432.4 1115.0,441.7 1115.2,431.6 1115.4,443.7 1115.6,441.8 1115.8,454.1 1116.0,426.7 1116.2,434.9 1116.4,434.6 1116.6,437.9 1116.8,441.3 1117.0,427.7 1117.2,429.7 1117.4,438.0 1117.6,443.4 1117.8,426.5 1118.0,423.1 1118.2,444.8 1118.4,442.4 1118.6,444.4 1118.8,427.8 1119.0,434.0 1119.2,437.5 1119.4,439.2 1119.6,434.7 1119.8,435.3 1120.0,443.8 1120.2,432.2 1120.4,431.3 1120.6,432.2 1120.8,431.6 1121.0,436.8 1121.2,434.0 1121.4,432.2 1121.6,447.2 1121.8,438.2 1122.0,433.0 1122.2,445.9 1122.4,431.3 1122.6,435.7 1122.8,435.0 1123.0,431.2 1123.2,432.7 1123.4,436.5 1123.6,424.3 1123.8,432.7 1124.0,437.8 1124.2,438.0 1124.4,438.2 1124.6,454.4 1124.8,441.1 1125.0,434.7 1125.2,434.9 1125.4,435.8 1125.6,439.3 1125.8,433.5 1126.0,447.9 1126.2,427.1 1126.4,440.9 1126.6,439.9 1126.8,426.8 1127.0,440.9 1127.2,440.3 1127.4,430.8 1127.6,454.3 1127.8,441.5 1128.0,433.3 1128.2,432.1 1128.4,430.0 1128.6,438.0 1128.8,436.4 1129.0,424.7 1129.2,427.7 1129.4,430.2 1129.6,432.7 1129.8,433.1 1130.0,430.6 1130.2,441.0 1130.4,443.5 1130.6,436.5 1130.8,418.5 1131.0,434.7 1131.2,440.4 1131.4,435.3 1131.6,438.1 1131.8,437.1 1132.0,424.1 1132.2,418.0 1132.4,440.9 1132.6,431.8 1132.8,439.3 1133.0,433.6 1133.2,434.6 1133.4,446.8 1133.6,426.5 1133.8,435.9 1134.0,427.4 1134.2,436.6 1134.4,439.8 1134.6,441.2 1134.8,437.2 1135.0,425.1 1135.2,438.0 1135.4,443.1 1135.6,443.9 1135.8,453.0 1136.0,440.5 1136.2,428.0 1136.4,432.0 1136.6,436.7 1136.8,444.4 1137.0,427.0 1137.2,443.3 1137.4,441.3 1137.6,429.2 1137.8,440.9 1138.0,430.1 1138.2,436.1 1138.4,433.7 1138.6,438.0 1138.8,426.8 1139.0,440.3 1139.2,419.0 1139.4,432.9 1139.6,431.7 1139.8,448.6 1140.0,440.4 1140.2,432.3 1140.4,429.1 1140.6,436.4 1140.8,431.2 1141.0,453.9 1141.2,418.2 1141.4,436.7 1141.6,418.2 1141.8,444.4 1142.0,429.9 1142.2,448.9 1142.4,431.9 1142.6,444.8 1142.8,437.8 1143.0,445.6 1143.2,436.4 1143.4,418.2 1143.6,430.5 1143.8,423.9 1144.0,443.8 1144.2,440.5 1144.4,436.3 1144.6,439.9 1144.8,437.8 1145.0,431.8 1145.2,451.8 1145.4,438.2 1145.6,434.8 1145.8,424.7 1146.0,431.4 1146.2,436.4 1146.4,434.9 1146.6,432.6 1146.8,435.9 1147.0,427.4 1147.2,436.4 1147.4,424.1 1147.6,429.5 1147.8,430.5 1148.0,443.3 1148.2,440.2 1148.4,437.0 1148.6,427.3 1148.8,433.2 1149.0,442.7 1149.2,446.3 1149.4,424.7 1149.6,433.0 1149.8,437.3 1150.0,439.2 1150.2,436.5 1150.4,441.7 1150.6,425.0 1150.8,448.8 1151.0,427.4 1151.2,436.9 1151.4,440.6 1151.6,445.7 1151.8,443.7 1152.0,443.4 1152.2,446.6 1152.4,435.3 1152.6,442.5 1152.8,448.8 1153.0,430.5 1153.2,425.5 1153.4,428.6 1153.6,447.8 1153.8,446.4 1154.0,433.8 1154.2,438.5 1154.4,440.4 1154.6,445.0 1154.8,421.7 1155.0,432.2 1155.2,434.6 1155.4,439.2 1155.6,437.3 1155.8,434.2 1156.0,439.0 1156.2,418.5 1156.4,455.2 1156.6,443.2 1156.8,443.8 1157.0,431.5 1157.2,440.0 1157.4,453.1 1157.6,451.2 1157.8,437.3 1158.0,426.9 1158.2,438.1 1158.4,434.4 1158.6,443.6 1158.8,426.6 1159.0,435.3 1159.2,438.9 1159.4,433.1 1159.6,445.2 1159.8,427.7 1160.0,426.9 1160.2,434.0 1160.4,443.4 1160.6,434.4 1160.8,432.1 1161.0,443.2 1161.2,438.6 1161.4,432.6 1161.6,437.8 1161.8,434.9 1162.0,441.6 1162.2,437.9 1162.4,430.4 1162.6,433.0 1162.8,433.5 1163.0,439.7 1163.2,441.8 1163.4,430.1 1163.6,435.2 1163.8,439.2 1164.0,445.5 1164.2,438.7 1164.4,452.3 1164.6,436.9 1164.8,442.6 1165.0,434.1 1165.2,428.8 1165.4,437.5 1165.6,440.6 1165.8,439.3 1166.0,437.8 1166.2,434.0 1166.4,430.1 1166.6,434.3 1166.8,440.4 1167.0,444.3 1167.2,418.4 1167.4,441.5 1167.6,445.3 1167.8,446.7 1168.0,439.7 1168.2,442.0 1168.4,433.1 1168.6,435.9 1168.8,440.8 1169.0,427.8 1169.2,430.3 1169.4,438.2 1169.6,425.9 1169.8,437.0 1170.0,424.7 1170.2,438.1 1170.4,436.8 1170.6,432.1 1170.8,429.0 1171.0,432.5 1171.2,406.0 1171.4,433.4 1171.6,437.5 1171.8,446.2 1172.0,432.5 1172.2,435.1 1172.4,447.6 1172.6,450.4 1172.8,432.6 1173.0,444.9 1173.2,445.9 1173.4,440.6 1173.6,428.6 1173.8,428.9 1174.0,441.1 1174.2,455.0 1174.4,435.0 1174.6,449.0 1174.8,451.6 1175.0,426.4 1175.2,431.6 1175.4,448.5 1175.6,444.3 1175.8,440.8 1176.0,436.3 1176.2,441.5 1176.4,431.3 1176.6,454.9 1176.8,427.2 1177.0,422.0 1177.2,437.6 1177.4,448.0 1177.6,432.4 1177.8,435.9 1178.0,428.2 1178.2,435.8 1178.4,428.2 1178.6,428.3 1178.8,424.5 1179.0,431.9 1179.2,451.3 1179.4,435.9 1179.6,437.9 1179.8,454.3 1180.0,431.2 1180.2,428.3 1180.4,440.5 1180.6,426.4 1180.8,439.0 1181.0,445.6 1181.2,427.6 1181.4,432.1 1181.6,449.9 1181.8,427.8 1182.0,430.8 1182.2,438.2 1182.4,433.7 1182.6,429.4 1182.8,449.1 1183.0,431.6 1183.2,438.9 1183.4,432.9 1183.6,434.4 1183.8,425.2 1184.0,443.7 1184.2,432.8 1184.4,446.5 1184.6,426.8 1184.8,432.3 1185.0,440.0 1185.2,437.1 1185.4,430.9 1185.6,435.1 1185.8,425.7 1186.0,436.6 1186.2,417.9 1186.4,437.5 1186.6,447.1 1186.8,443.3 1187.0,443.0 1187.2,432.8 1187.4,440.1 1187.6,432.9 1187.8,435.4 1188.0,435.3 1188.2,417.9 1188.4,443.5 1188.6,439.8 1188.8,442.9 1189.0,428.4 1189.2,441.7 1189.4,439.9 1189.6,418.1 1189.8,421.9 1190.0,436.5 1190.2,430.7 1190.4,435.9 1190.6,430.9 1190.8,448.1 1191.0,420.7 1191.2,425.1 1191.4,428.2 1191.6,425.0 1191.8,431.4 1192.0,435.8 1192.2,425.2 1192.4,438.9 1192.6,446.6 1192.8,444.8 1193.0,452.1 1193.2,445.1 1193.4,435.7 1193.6,450.3 1193.8,441.7 1194.0,451.1 1194.2,434.4 1194.4,419.0 1194.6,426.6 1194.8,437.4 1195.0,440.4 1195.2,434.3 1195.4,444.0 1195.6,426.7 1195.8,430.3 1196.0,443.9 1196.2,436.4 1196.4,436.7 1196.6,447.3 1196.8,444.8 1197.0,429.6 1197.2,437.6 1197.4,422.2 1197.6,435.9 1197.8,439.1 1198.0,422.0 1198.2,448.5 1198.4,452.1 1198.6,440.0 1198.8,443.4 1199.0,448.1 1199.2,434.6 1199.4,444.4 1199.6,439.1 1199.8,423.6 1200.0,428.7 1200.2,431.4 1200.4,444.6 1200.6,436.8 1200.8,443.9 1201.0,432.2 1201.2,425.7 1201.4,452.6 1201.6,454.4 1201.8,439.1 1202.0,434.4 1202.2,445.5 1202.4,427.0 1202.6,434.3 1202.8,424.4 1203.0,439.9 1203.2,438.0 1203.4,432.7 1203.6,430.7 1203.8,423.7 1204.0,429.3 1204.2,445.9 1204.4,433.1 1204.6,446.1 1204.8,429.0 1205.0,435.3 1205.2,432.3 1205.4,433.9 1205.6,442.2 1205.8,419.4 1206.0,441.9 1206.2,441.6 1206.4,436.0 1206.6,436.6 1206.8,434.2 1207.0,441.5 1207.2,436.4 1207.4,429.1 1207.6,437.2 1207.8,443.7 1208.0,438.9 1208.2,436.2 1208.4,437.6 1208.6,432.0 1208.8,432.3 1209.0,420.8 1209.2,434.5 1209.4,443.9 1209.6,432.8 1209.8,428.7 1210.0,443.2 1210.2,437.3 1210.4,437.1 1210.6,439.7 1210.8,441.6 1211.0,435.6 1211.2,429.3 1211.4,449.9 1211.6,436.4 1211.8,429.7 1212.0,437.4 1212.2,445.5 1212.4,424.6 1212.6,446.5 1212.8,434.9 1213.0,452.0 1213.2,441.3 1213.4,435.1 1213.6,446.0 1213.8,446.2 1214.0,433.1 1214.2,437.8 1214.4,431.8 1214.6,443.3 1214.8,424.7 1215.0,434.5 1215.2,418.9 1215.4,440.7 1215.6,418.1 1215.8,427.5 1216.0,438.1 1216.2,433.1 1216.4,432.4 1216.6,428.2 1216.8,432.2 1217.0,421.9 1217.2,438.5 1217.4,442.4 1217.6,442.0 1217.8,435.6 1218.0,445.7 1218.2,439.6 1218.4,443.6 1218.6,439.1 1218.8,436.2 1219.0,429.9 1219.2,417.4 1219.4,441.1 1219.6,435.0 1219.8,451.8 1220.0,420.1 1220.2,442.6 1220.4,428.3 1220.6,435.9 1220.8,428.8 1221.0,438.7 1221.2,435.7 1221.4,442.9 1221.6,437.1 1221.8,439.7 1222.0,446.1 1222.2,440.0 1222.4,434.8 1222.6,445.8 1222.8,435.0 1223.0,439.1 1223.2,433.3 1223.4,430.6 1223.6,417.4 1223.8,441.4 1224.0,426.7 1224.2,441.7 1224.4,450.2 1224.6,425.3 1224.8,442.8 1225.0,435.1 1225.2,439.5 1225.4,426.3 1225.6,436.1 1225.8,437.1 1226.0,447.2 1226.2,452.9 1226.4,438.3 1226.6,432.9 1226.8,453.5 1227.0,434.9 1227.2,435.3 1227.4,436.6 1227.6,439.5 1227.8,441.4 1228.0,431.2 1228.2,434.9 1228.4,450.7 1228.6,448.5 1228.8,439.3 1229.0,437.9 1229.2,433.9 1229.4,443.9 1229.6,431.6 1229.8,436.7 1230.0,432.0 1230.2,430.7 1230.4,435.9 1230.6,435.6 1230.8,431.0 1231.0,435.0 1231.2,436.1 1231.4,431.8 1231.6,430.3 1231.8,434.4 1232.0,441.0 1232.2,444.2 1232.4,436.8 1232.6,433.2 1232.8,435.0 1233.0,450.5 1233.2,442.5 1233.4,427.6 1233.6,434.7 1233.8,430.8 1234.0,432.0 1234.2,421.5 1234.4,435.0 1234.6,423.9 1234.8,429.9 1235.0,446.6 1235.2,442.3 1235.4,427.3 1235.6,425.8 1235.8,426.6 1236.0,418.7 1236.2,425.7 1236.4,431.1 1236.6,424.6 1236.8,438.6 1237.0,431.7 1237.2,427.3 1237.4,444.8 1237.6,435.6 1237.8,429.4 1238.0,442.1 1238.2,436.1 1238.4,417.8 1238.6,423.4 1238.8,414.3 1239.0,402.8 1239.2,425.5 1239.4,418.2 1239.6,391.8 1239.8,402.0 1240.0,381.9 1240.2,393.0 1240.4,392.9 1240.6,392.7 1240.8,408.1 1241.0,402.0 1241.2,404.1 1241.4,417.7 1241.6,411.8 1241.8,424.8 1242.0,420.9 1242.2,430.1 1242.4,430.7 1242.6,433.7 1242.8,420.7 1243.0,445.0 1243.2,429.5 1243.4,445.7 1243.6,427.3 1243.8,430.4 1244.0,430.8 1244.2,442.5 1244.4,430.1 1244.6,437.1 1244.8,421.3 1245.0,430.3 1245.2,436.1 1245.4,433.5 1245.6,419.4 1245.8,438.7 1246.0,427.0 1246.2,450.4 1246.4,433.4 1246.6,453.2 1246.8,440.4 1247.0,438.8 1247.2,431.3 1247.4,434.3 1247.6,438.9 1247.8,419.6 1248.0,443.4 1248.2,425.9 1248.4,433.3 1248.6,416.8 1248.8,439.2 1249.0,441.6 1249.2,437.8 1249.4,438.2 1249.6,432.6 1249.8,436.9 1250.0,445.4 1250.2,432.2 1250.4,439.7 1250.6,441.6 1250.8,433.8 1251.0,437.7 1251.2,437.5 1251.4,431.7 1251.6,454.1 1251.8,432.3 1252.0,449.7 1252.2,444.5 1252.4,419.3 1252.6,437.9 1252.8,444.2 1253.0,442.5 1253.2,428.5 1253.4,438.0 1253.6,426.1 1253.8,427.4 1254.0,433.9 1254.2,437.4 1254.4,448.9 1254.6,438.8 1254.8,444.5 1255.0,426.2 1255.2,426.5 1255.4,432.0 1255.6,450.2 1255.8,425.0 1256.0,423.1"/>
<path stroke-width="3.1" d="M76.0,767.4 76.3,767.6 76.6,766.3 76.9,764.9 77.2,765.4 77.5,764.3 77.8,766.0 78.1,768.1 78.4,764.9 78.7,764.6 79.0,766.5 79.3,766.2 79.6,765.8 79.9,764.0 80.2,765.5 80.5,766.7 80.8,763.2 81.1,764.6 81.4,762.1 81.7,763.0 82.0,761.9 82.3,764.5 82.6,762.6 82.9,765.1 83.2,764.8 83.5,764.2 83.8,760.2 84.1,763.6 84.4,764.5 84.7,765.0 85.0,762.3 85.3,764.3 85.6,763.6 85.9,764.0 86.2,767.3 86.5,764.3 86.8,765.7 87.1,767.3 87.4,764.9 87.7,765.8 88.0,766.3 88.3,766.4 88.6,764.4 88.9,766.8 89.2,769.1 89.5,764.4 89.8,768.7 90.1,767.6 90.4,766.5 90.7,771.1 91.0,769.2 91.3,766.0 91.6,768.3 91.9,769.4 92.2,768.3 92.5,770.0 92.8,769.0 93.1,770.5 93.4,772.0 93.7,768.7 94.0,770.4 94.3,769.4 94.6,770.6 94.9,768.5 95.2,769.7 95.5,770.5 95.8,772.4 96.1,772.9 96.4,768.9 96.7,769.8 97.0,772.3 97.3,767.9 97.6,770.6 97.9,771.3 98.2,773.6 98.5,772.8 98.8,771.2 99.1,771.2 99.4,771.4 99.7,774.4 100.0,771.2 100.3,771.5 100.6,772.6 100.9,771.9 101.2,771.8 101.5,770.4 101.8,772.4 102.1,771.8 102.4,774.7 102.7,774.0 103.0,773.1 103.3,774.3 103.6,772.7 103.9,775.1 104.2,773.4 104.5,774.3 104.8,771.2 105.1,774.0 105.4,770.6 105.7,770.1 106.0,773.1 106.3,772.1 106.6,774.0 106.9,777.5 107.2,772.4 107.5,772.7 107.8,774.1 108.1,774.6 108.4,773.6 108.7,773.6 109.0,775.1 109.3,774.9 109.6,772.3 109.9,774.0 110.2,774.2 110.5,772.5 110.8,774.7 111.1,773.0 111.4,776.1 111.7,774.8 112.0,774.7 112.3,773.6 112.6,774.3 112.9,771.2 113.2,772.6 113.5,775.1 113.8,771.0 114.1,775.9 114.4,771.6 114.7,775.8 115.0,773.2 115.3,775.9 115.6,774.9 115.9,772.1 116.2,776.6 116.5,776.9 116.8,774.3 117.1,773.9 117.4,773.9 117.7,772.4 118.0,775.5 118.3,772.4 118.6,772.7 118.9,770.8 119.2,770.2 119.5,768.2 119.8,771.4 120.1,768.2 120.4,769.3 120.7,767.3 121.0,766.1 121.3,767.2 121.6,767.8 121.9,770.0 122.2,770.7 122.5,772.2 122.8,771.7 123.1,773.7 123.4,778.7 123.7,775.5 124.0,775.4 124.3,778.1 124.6,780.1 124.9,775.6 125.2,777.8 125.5,777.3 125.8,775.6 126.1,780.0 126.4,779.0 126.7,779.4 127.0,778.2 127.3,780.4 127.6,778.9 127.9,779.7 128.2,778.3 128.5,778.2 128.8,782.5 129.1,779.6 129.4,781.0 129.7,780.6 130.0,780.0 130.3,780.0 130.6,781.9 130.9,780.5 131.2,780.8 131.5,781.2 131.8,783.3 132.1,782.6 132.4,782.3 132.7,780.9 133.0,779.8 133.3,783.8 133.6,784.0 133.9,782.4 134.2,783.6 134.5,784.2 134.8,784.3 135.1,784.5 135.4,782.3 135.7,785.5 136.0,781.0 136.3,784.5 136.6,783.9 136.9,784.6 137.2,786.3 137.5,785.7 137.8,781.5 138.1,780.7 138.4,784.9 138.7,782.1 139.0,783.8 139.3,785.3 139.6,781.4 139.9,780.7 140.2,784.7 140.5,784.4 140.8,783.9 141.1,784.4 141.4,782.9 141.7,781.9 142.0,784.1 142.3,782.8 142.6,781.7 142.9,785.3 143.2,784.4 143.5,785.3 143.8,783.2 144.1,783.9 144.4,783.6 144.7,783.9 145.0,785.8 145.3,784.4 145.6,786.4 145.9,786.6 146.2,789.5 146.5,784.2 146.8,788.1 147.1,786.7 147.4,787.0 147.7,784.9 148.0,786.7 148.3,788.8 148.6,787.6 148.9,788.0 149.2,787.6 149.5,790.0 149.8,788.3 150.1,784.9 150.4,787.4 150.7,785.5 151.0,783.6 151.3,788.1 151.6,791.2 151.9,789.1 152.2,787.2 152.5,787.6 152.8,790.9 153.1,789.3 153.4,789.1 153.7,789.0 154.0,789.1 154.3,790.4 154.6,790.1 154.9,789.6 155.2,787.7 155.5,790.3 155.8,788.6 156.1,791.6 156.4,787.9 156.7,789.9 157.0,790.2 157.3,788.2 157.6,793.1 157.9,792.7 158.2,789.6 158.5,791.6 158.8,791.0 159.1,786.2 159.4,790.9 159.7,790.6 160.0,791.0 160.3,789.3 160.6,790.8 160.9,791.2 161.2,793.5 161.5,792.3 161.8,791.9 162.1,794.4 162.4,791.2 162.7,791.5 163.0,789.3 163.3,794.8 163.6,793.8 163.9,793.8 164.2,793.4 164.5,792.5 164.8,792.6 165.1,791.9 165.4,791.9 165.7,792.4 166.0,794.8 166.3,793.4 166.6,792.6 166.9,792.0 167.2,792.1 167.5,795.9 167.8,794.3 168.1,793.7 168.4,793.1 168.7,791.9 169.0,793.6 169.3,795.2 169.6,793.2 169.9,793.6 170.2,793.7 170.5,794.4 170.8,791.9 171.1,794.2 171.4,793.4 171.7,796.3 172.0,793.9 172.3,796.2 172.6,797.9 172.9,795.2 173.2,794.9 173.5,796.4 173.8,796.2 174.1,794.8 174.4,797.3 174.7,799.9 175.0,796.4 175.3,796.5 175.6,795.3 175.9,797.6 176.2,795.2 176.5,795.6 176.8,799.5 177.1,796.2 177.4,799.4 177.7,800.2 178.0,798.2 178.3,798.7 178.6,801.0 178.9,797.6 179.2,796.9 179.5,795.8 179.8,798.0 180.1,800.3 180.4,799.5 180.7,796.6 181.0,796.8 181.3,797.5 181.6,798.9 181.9,798.2 182.2,799.0 182.5,799.2 182.8,798.4 183.1,799.0 183.4,799.5 183.7,799.2 184.0,800.3 184.3,802.6 184.6,800.8 184.9,800.2 185.2,797.7 185.5,801.2 185.8,797.7 186.1,798.7 186.4,802.4 186.7,802.3 187.0,801.1 187.3,798.7 187.6,800.9 187.9,800.5 188.2,802.7 188.5,805.3 188.8,802.1 189.1,800.7 189.4,800.1 189.7,802.0 190.0,801.9 190.3,800.5 190.6,802.7 190.9,800.8 191.2,804.6 191.5,804.7 191.8,804.8 192.1,802.5 192.4,804.2 192.7,803.2 193.0,802.8 193.3,802.9 193.6,801.4 193.9,801.2 194.2,804.7 194.5,803.2 194.8,803.9 195.1,805.1 195.4,800.8 195.7,802.3 196.0,803.8 196.3,804.1 196.6,802.9 196.9,805.1 197.2,803.8 197.5,801.6 197.8,802.1 198.1,804.9 198.4,804.4 198.7,800.8 199.0,806.0 199.3,805.0 199.6,806.3 199.9,803.8 200.2,804.1 200.5,803.0 200.8,808.8 201.1,804.7 201.4,807.6 201.7,804.2 202.0,805.6 202.3,802.8 202.6,804.9 202.9,807.1 203.2,803.7 203.5,807.3 203.8,806.1 204.1,804.0 204.4,804.8 204.7,804.8 205.0,805.4 205.3,804.6 205.6,804.1 205.9,804.8 206.2,803.6 206.5,803.2 206.8,805.0 207.1,806.5 207.4,802.8 207.7,805.4 208.0,804.5 208.3,804.2 208.6,807.3 208.9,805.4 209.2,808.7 209.5,805.4 209.8,807.3 210.1,806.4 210.4,805.7 210.7,807.8 211.0,806.7 211.3,807.8 211.6,806.8 211.9,805.2 212.2,806.7 212.5,806.8 212.8,808.2 213.1,805.3 213.4,806.6 213.7,804.0 214.0,807.7 214.3,805.0 214.6,804.0 214.9,806.7 215.2,808.5 215.5,804.5 215.8,805.2 216.1,805.7 216.4,805.2 216.7,807.6 217.0,805.9 217.3,806.1 217.6,808.2 217.9,806.2 218.2,808.1 218.5,805.9 218.8,805.6 219.1,804.6 219.4,810.3 219.7,806.9 220.0,807.7 220.3,807.3 220.6,807.6 220.9,807.4 221.2,810.3 221.5,805.8 221.8,805.1 222.1,806.0 222.4,805.6 222.7,808.9 223.0,809.1 223.3,806.4 223.6,805.8 223.9,807.3 224.2,809.9 224.5,803.1 224.8,807.6 225.1,803.9 225.4,805.0 225.7,798.6 226.0,795.6 226.3,789.0 226.6,785.5 226.9,786.6 227.2,786.3 227.5,787.7 227.8,791.6 228.1,794.8 228.4,801.0 228.7,804.5 229.0,806.3 229.3,807.3 229.6,806.3 229.9,808.1 230.2,808.0 230.5,809.6 230.8,809.7 231.1,805.1 231.4,801.7 231.7,799.1 232.0,793.5 232.3,788.0 232.6,784.3 232.9,780.1 233.2,783.3 233.5,785.9 233.8,791.7 234.1,796.4 234.4,800.1 234.7,803.1 235.0,806.3 235.3,807.2 235.6,809.1 235.9,809.1 236.2,807.3 236.5,809.6 236.8,807.5 237.1,808.6 237.4,809.1 237.7,806.4 238.0,809.8 238.3,809.9 238.6,809.5 238.9,809.2 239.2,809.3 239.5,808.6 239.8,809.8 240.1,809.5 240.4,810.5 240.7,808.6 241.0,810.8 241.3,810.5 241.6,810.0 241.9,809.2 242.2,810.3 242.5,806.4 242.8,808.7 243.1,807.2 243.4,805.7 243.7,804.1 244.0,800.6 244.3,799.3 244.6,799.2 244.9,798.2 245.2,798.1 245.5,796.6 245.8,801.5 246.1,804.5 246.4,806.4 246.7,807.0 247.0,805.9 247.3,810.9 247.6,810.2 247.9,807.2 248.2,812.1 248.5,809.7 248.8,810.2 249.1,811.4 249.4,814.4 249.7,812.0 250.0,813.0 250.3,815.3 250.6,815.1 250.9,812.6 251.2,812.4 251.5,810.9 251.8,811.8 252.1,813.5 252.4,813.5 252.7,813.1 253.0,814.5 253.3,811.9 253.6,813.0 253.9,814.3 254.2,814.2 254.5,815.0 254.8,814.1 255.1,813.1 255.4,814.1 255.7,812.1 256.0,811.1 256.3,814.3 256.6,813.3 256.9,813.7 257.2,810.7 257.5,812.7 257.8,812.4 258.1,812.0 258.4,810.1 258.7,813.0 259.0,815.0 259.3,814.3 259.6,813.0 259.9,814.0 260.2,815.2 260.5,810.1 260.8,814.0 261.1,814.9 261.4,815.1 261.7,816.6 262.0,815.7 262.3,814.6 262.6,814.6 262.9,815.4 263.2,813.6 263.5,814.4 263.8,815.9 264.1,817.5 264.4,814.6 264.7,814.8 265.0,815.2 265.3,816.9 265.6,814.8 265.9,816.9 266.2,813.2 266.5,814.0 266.8,813.6 267.1,814.5 267.4,814.1 267.7,809.5 268.0,809.2 268.3,809.8 268.6,807.0 268.9,804.6 269.2,807.5 269.5,806.5 269.8,806.9 270.1,806.4 270.4,809.9 270.7,809.4 271.0,812.6 271.3,810.8 271.6,811.8 271.9,813.9 272.2,812.9 272.5,815.1 272.8,814.6 273.1,813.0 273.4,814.4 273.7,813.9 274.0,815.7 274.3,813.6 274.6,814.0 274.9,816.5 275.2,818.1 275.5,817.9 275.8,815.3 276.1,815.7 276.4,817.7 276.7,815.5 277.0,814.4 277.3,816.1 277.6,816.7 277.9,815.0 278.2,814.0 278.5,814.4 278.8,817.4 279.1,815.4 279.4,816.3 279.7,816.8 280.0,817.4 280.3,816.1 280.6,817.3 280.9,815.4 281.2,816.2 281.5,815.2 281.8,818.2 282.1,816.6 282.4,815.6 282.7,816.1 283.0,816.2 283.3,817.4 283.6,814.1 283.9,814.8 284.2,815.7 284.5,819.7 284.8,817.4 285.1,815.9 285.4,817.1 285.7,819.0 286.0,815.9 286.3,815.7 286.6,818.0 286.9,817.1 287.2,817.4 287.5,815.9 287.8,819.4 288.1,819.2 288.4,817.7 288.7,818.0 289.0,814.4 289.3,818.2 289.6,817.1 289.9,818.1 290.2,818.5 290.5,817.1 290.8,815.4 291.1,818.3 291.4,816.9 291.7,817.5 292.0,817.2 292.3,817.7 292.6,815.1 292.9,819.9 293.2,818.5 293.5,819.6 293.8,820.7 294.1,817.9 294.4,815.3 294.7,816.5 295.0,816.0 295.3,816.9 295.6,817.7 295.9,814.9 296.2,818.1 296.5,815.6 296.8,818.0 297.1,817.5 297.4,817.3 297.7,817.7 298.0,817.2 298.3,817.2 298.6,815.8 298.9,818.1 299.2,820.7 299.5,821.0 299.8,820.2 300.1,819.5 300.4,817.7 300.7,820.6 301.0,818.6 301.3,818.6 301.6,818.3 301.9,818.8 302.2,818.2 302.5,818.7 302.8,817.4 303.1,818.4 303.4,821.9 303.7,818.8 304.0,818.5 304.3,819.5 304.6,819.6 304.9,817.1 305.2,818.1 305.5,819.4 305.8,818.4 306.1,818.1 306.4,819.9 306.7,816.9 307.0,817.9 307.3,817.2 307.6,819.9 307.9,815.5 308.2,817.2 308.5,817.5 308.8,819.1 309.1,819.1 309.4,820.1 309.7,816.3 310.0,819.4 310.3,818.1 310.6,817.6 310.9,819.2 311.2,817.3 311.5,815.7 311.8,817.9 312.1,816.4 312.4,817.5 312.7,818.8 313.0,818.7 313.3,820.3 313.6,818.0 313.9,816.3 314.2,817.3 314.5,817.1 314.8,816.7 315.1,818.8 315.4,817.4 315.7,815.8 316.0,819.2 316.3,818.3 316.6,819.0 316.9,818.7 317.2,819.5 317.5,818.8 317.8,820.4 318.1,819.4 318.4,819.3 318.7,819.2 319.0,816.6 319.3,817.7 319.6,816.9 319.9,816.3 320.2,812.6 320.5,814.0 320.8,809.2 321.1,804.3 321.4,800.6 321.7,800.1 322.0,799.5 322.3,799.7 322.6,803.2 322.9,805.5 323.2,810.3 323.5,811.6 323.8,814.8 324.1,817.7 324.4,820.8 324.7,817.0 325.0,818.0 325.3,817.8 325.6,819.9 325.9,817.5 326.2,818.4 326.5,819.0 326.8,817.7 327.1,817.7 327.4,818.2 327.7,815.9 328.0,816.2 328.3,816.7 328.6,816.1 328.9,814.0 329.2,810.0 329.5,809.7 329.8,809.8 330.1,809.4 330.4,809.7 330.7,810.7 331.0,814.7 331.3,815.1 331.6,815.8 331.9,817.1 332.2,820.4 332.5,819.1 332.8,820.4 333.1,818.4 333.4,820.1 333.7,818.3 334.0,818.8 334.3,822.1 334.6,820.0 334.9,818.4 335.2,818.9 335.5,819.3 335.8,820.2 336.1,817.9 336.4,816.2 336.7,817.7 337.0,817.7 337.3,817.5 337.6,818.6 337.9,816.9 338.2,817.1 338.5,814.3 338.8,816.1 339.1,816.9 339.4,814.5 339.7,812.9 340.0,811.6 340.3,812.0 340.6,806.6 340.9,804.4 341.2,800.1 341.5,792.5 341.8,778.7 342.1,761.3 342.4,735.2 342.7,703.7 343.0,667.8 343.3,634.0 343.6,616.7 343.9,621.8 344.2,644.3 344.5,679.9 344.8,716.0 345.1,743.9 345.4,768.3 345.7,783.0 346.0,796.2 346.3,804.3 346.6,808.2 346.9,808.2 347.2,811.3 347.5,812.0 347.8,813.1 348.1,815.7 348.4,813.2 348.7,816.7 349.0,816.1 349.3,818.5 349.6,817.6 349.9,817.1 350.2,818.7 350.5,819.5 350.8,819.0 351.1,819.6 351.4,818.5 351.7,816.6 352.0,820.1 352.3,819.8 352.6,819.1 352.9,819.1 353.2,820.3 353.5,818.7 353.8,818.6 354.1,819.4 354.4,821.3 354.7,818.5 355.0,821.7 355.3,819.7 355.6,819.2 355.9,822.0 356.2,820.4 356.5,819.1 356.8,820.1 357.1,821.6 357.4,822.0 357.7,820.2 358.0,821.2 358.3,821.6 358.6,820.1 358.9,821.3 359.2,820.9 359.5,820.4 359.8,820.5 360.1,821.2 360.4,821.2 360.7,820.5 361.0,820.7 361.3,822.5 361.6,821.4 361.9,822.2 362.2,822.5 362.5,821.8 362.8,823.7 363.1,820.1 363.4,821.9 363.7,820.5 364.0,822.8 364.3,822.6 364.6,818.4 364.9,819.5 365.2,821.4 365.5,821.6 365.8,821.7 366.1,820.9 366.4,821.7 366.7,822.0 367.0,821.2 367.3,822.5 367.6,818.9 367.9,822.0 368.2,820.1 368.5,822.3 368.8,821.0 369.1,820.2 369.4,821.6 369.7,820.2 370.0,820.2 370.3,819.5 370.6,821.2 370.9,821.7 371.2,822.3 371.5,820.9 371.8,822.1 372.1,820.8 372.4,820.6 372.7,821.2 373.0,821.7 373.3,820.1 373.6,820.1 373.9,820.2 374.2,820.4 374.5,819.3 374.8,821.4 375.1,819.8 375.4,820.6 375.7,819.2 376.0,820.3 376.3,820.2 376.6,819.2 376.9,821.7 377.2,819.8 377.5,821.2 377.8,820.1 378.1,818.2 378.4,818.3 378.7,819.0 379.0,818.4 379.3,818.2 379.6,817.7 379.9,815.9 380.2,817.3 380.5,814.9 380.8,817.3 381.1,815.7 381.4,815.2 381.7,815.0 382.0,814.8 382.3,811.9 382.6,810.2 382.9,809.0 383.2,804.8 383.5,800.6 383.8,794.5 384.1,777.8 384.4,759.6 384.7,732.3 385.0,707.3 385.3,686.5 385.6,683.4 385.9,699.6 386.2,726.5 386.5,751.2 386.8,773.0 387.1,787.8 387.4,799.8 387.7,805.3 388.0,810.1 388.3,811.5 388.6,814.8 388.9,812.0 389.2,814.5 389.5,816.2 389.8,815.4 390.1,815.2 390.4,815.9 390.7,814.9 391.0,816.5 391.3,818.9 391.6,817.6 391.9,815.2 392.2,815.5 392.5,815.9 392.8,817.3 393.1,815.3 393.4,815.3 393.7,816.6 394.0,816.0 394.3,813.9 394.6,811.7 394.9,809.1 395.2,806.7 395.5,800.5 395.8,797.6 396.1,788.9 396.4,781.8 396.7,775.0 397.0,767.2 397.3,760.3 397.6,761.6 397.9,765.0 398.2,769.3 398.5,776.9 398.8,785.9 399.1,791.9 399.4,801.3 399.7,802.3 400.0,807.2 400.3,810.5 400.6,812.2 400.9,813.7 401.2,814.4 401.5,814.3 401.8,816.0 402.1,812.9 402.4,815.1 402.7,814.5 403.0,815.4 403.3,815.5 403.6,814.3 403.9,814.5 404.2,815.8 404.5,815.0 404.8,813.4 405.1,815.0 405.4,813.1 405.7,805.6 406.0,801.4 406.3,795.0 406.6,782.6 406.9,770.7 407.2,761.1 407.5,757.0 407.8,760.8 408.1,769.4 408.4,781.7 408.7,790.9 409.0,799.0 409.3,803.9 409.6,808.3 409.9,809.0 410.2,810.1 410.5,810.8 410.8,808.9 411.1,806.4 411.4,801.0 411.7,790.6 412.0,773.8 412.3,751.6 412.6,732.6 412.9,726.8 413.2,745.0 413.5,765.8 413.8,783.2 414.1,795.1 414.4,801.0 414.7,804.5 415.0,804.8 415.3,806.9 415.6,804.9 415.9,803.0 416.2,803.8 416.5,801.5 416.8,802.0 417.1,801.2 417.4,798.0 417.7,792.0 418.0,786.5 418.3,780.2 418.6,765.8 418.9,747.4 419.2,724.1 419.5,694.6 419.8,656.8 420.1,615.8 420.4,577.8 420.7,549.2 421.0,536.8 421.3,546.7 421.6,575.8 421.9,612.1 422.2,651.8 422.5,687.3 422.8,718.7 423.1,737.1 423.4,751.1 423.7,754.2 424.0,746.0 424.3,725.3 424.6,694.8 424.9,673.7 425.2,680.6 425.5,712.5 425.8,747.8 426.1,772.8 426.4,787.6 426.7,796.8 427.0,801.9 427.3,805.1 427.6,805.8 427.9,807.5 428.2,806.9 428.5,808.4 428.8,811.8 429.1,808.5 429.4,810.7 429.7,811.6 430.0,811.3 430.3,811.0 430.6,811.9 430.9,812.1 431.2,812.1 431.5,810.3 431.8,812.0 432.1,811.3 432.4,811.6 432.7,812.3 433.0,812.7 433.3,813.0 433.6,811.7 433.9,813.2 434.2,813.5 434.5,813.5 434.8,813.7 435.1,812.1 435.4,811.9 435.7,812.6 436.0,810.0 436.3,811.0 436.6,809.7 436.9,809.1 437.2,806.8 437.5,806.7 437.8,806.5 438.1,806.1 438.4,804.8 438.7,802.0 439.0,799.7 439.3,796.2 439.6,793.1 439.9,786.1 440.2,777.3 440.5,763.7 440.8,740.6 441.1,709.6 441.4,672.2 441.7,626.6 442.0,579.5 442.3,540.8 442.6,517.1 442.9,520.2 443.2,552.6 443.5,597.8 443.8,643.6 444.1,686.3 444.4,722.0 444.7,749.4 445.0,768.8 445.3,782.3 445.6,791.0 445.9,796.7 446.2,800.9 446.5,803.1 446.8,803.1 447.1,806.3 447.4,808.2 447.7,808.7 448.0,810.8 448.3,810.3 448.6,810.3 448.9,813.0 449.2,812.6 449.5,812.4 449.8,813.3 450.1,813.7 450.4,813.2 450.7,810.6 451.0,812.6 451.3,812.9 451.6,812.5 451.9,813.7 452.2,814.7 452.5,813.0 452.8,812.2 453.1,815.1 453.4,812.5 453.7,811.4 454.0,812.6 454.3,812.5 454.6,810.9 454.9,811.9 455.2,810.0 455.5,808.8 455.8,808.8 456.1,808.0 456.4,804.7 456.7,802.8 457.0,798.2 457.3,794.4 457.6,780.2 457.9,765.8 458.2,740.3 458.5,707.8 458.8,669.2 459.1,627.6 459.4,593.7 459.7,579.1 460.0,592.0 460.3,626.5 460.6,669.4 460.9,709.0 461.2,742.4 461.5,765.7 461.8,782.9 462.1,794.2 462.4,799.6 462.7,802.2 463.0,805.3 463.3,807.0 463.6,811.4 463.9,810.0 464.2,812.9 464.5,813.0 464.8,814.7 465.1,814.5 465.4,813.8 465.7,814.0 466.0,814.5 466.3,814.9 466.6,814.4 466.9,815.0 467.2,816.7 467.5,813.4 467.8,815.2 468.1,813.8 468.4,814.3 468.7,814.1 469.0,812.0 469.3,811.1 469.6,806.7 469.9,806.7 470.2,802.1 470.5,800.2 470.8,796.6 471.1,791.1 471.4,790.8 471.7,790.8 472.0,792.3 472.3,792.5 472.6,794.9 472.9,796.4 473.2,802.5 473.5,806.2 473.8,807.5 474.1,810.0 474.4,810.9 474.7,815.2 475.0,818.4 475.3,817.6 475.6,818.9 475.9,818.7 476.2,817.6 476.5,820.2 476.8,817.8 477.1,819.0 477.4,819.6 477.7,820.3 478.0,820.0 478.3,820.1 478.6,819.1 478.9,818.6 479.2,820.0 479.5,819.3 479.8,818.8 480.1,818.8 480.4,819.6 480.7,818.2 481.0,818.7 481.3,818.4 481.6,820.1 481.9,820.2 482.2,821.7 482.5,818.2 482.8,818.9 483.1,820.4 483.4,819.2 483.7,819.0 484.0,821.0 484.3,818.9 484.6,818.1 484.9,817.8 485.2,819.3 485.5,819.0 485.8,817.1 486.1,817.1 486.4,818.2 486.7,817.8 487.0,816.1 487.3,816.8 487.6,816.2 487.9,813.1 488.2,813.7 488.5,813.4 488.8,811.3 489.1,808.3 489.4,808.2 489.7,806.8 490.0,804.2 490.3,795.5 490.6,792.4 490.9,776.4 491.2,759.5 491.5,732.2 491.8,694.9 492.1,649.0 492.4,600.0 492.7,562.6 493.0,545.6 493.3,559.5 493.6,603.8 493.9,649.3 494.2,695.4 494.5,729.6 494.8,759.3 495.1,778.1 495.4,790.2 495.7,796.2 496.0,799.7 496.3,803.8 496.6,803.9 496.9,805.9 497.2,808.8 497.5,808.4 497.8,809.4 498.1,809.0 498.4,809.5 498.7,805.7 499.0,798.7 499.3,791.3 499.6,777.7 499.9,764.7 500.2,754.2 500.5,747.3 500.8,753.4 501.1,764.5 501.4,779.8 501.7,793.5 502.0,800.4 502.3,807.6 502.6,810.5 502.9,812.6 503.2,813.9 503.5,817.5 503.8,819.0 504.1,817.7 504.4,816.9 504.7,818.6 505.0,817.8 505.3,819.1 505.6,818.8 505.9,819.0 506.2,819.4 506.5,818.4 506.8,818.7 507.1,817.6 507.4,819.0 507.7,818.2 508.0,819.5 508.3,818.8 508.6,819.9 508.9,820.3 509.2,818.5 509.5,819.1 509.8,818.9 510.1,820.5 510.4,821.2 510.7,820.1 511.0,818.4 511.3,819.3 511.6,815.0 511.9,816.2 512.2,812.0 512.5,808.0 512.8,811.9 513.1,810.7 513.4,809.2 513.7,812.2 514.0,813.9 514.3,815.9 514.6,815.7 514.9,817.3 515.2,818.8 515.5,818.8 515.8,819.7 516.1,818.5 516.4,820.5 516.7,817.0 517.0,817.2 517.3,813.8 517.6,812.5 517.9,812.2 518.2,806.2 518.5,802.9 518.8,796.9 519.1,790.3 519.4,785.8 519.7,782.0 520.0,780.6 520.3,783.1 520.6,786.6 520.9,790.4 521.2,795.5 521.5,801.8 521.8,805.9 522.1,810.6 522.4,814.7 522.7,814.7 523.0,814.9 523.3,815.4 523.6,815.0 523.9,815.0 524.2,814.8 524.5,815.1 524.8,814.8 525.1,815.6 525.4,814.1 525.7,813.8 526.0,812.3 526.3,814.5 526.6,812.7 526.9,813.0 527.2,811.0 527.5,810.3 527.8,806.9 528.1,805.4 528.4,803.9 528.7,794.8 529.0,788.8 529.3,776.1 529.6,754.8 529.9,726.7 530.2,690.0 530.5,644.7 530.8,602.8 531.1,570.9 531.4,566.0 531.7,589.1 532.0,629.6 532.3,673.8 532.6,713.3 532.9,742.3 533.2,767.7 533.5,781.1 533.8,788.7 534.1,790.5 534.4,788.2 534.7,779.6 535.0,763.0 535.3,740.1 535.6,727.8 535.9,734.5 536.2,750.1 536.5,775.1 536.8,791.3 537.1,801.2 537.4,808.3 537.7,808.8 538.0,812.0 538.3,814.6 538.6,813.9 538.9,814.5 539.2,815.7 539.5,815.7 539.8,818.2 540.1,816.1 540.4,818.2 540.7,816.4 541.0,818.4 541.3,817.8 541.6,815.3 541.9,817.9 542.2,816.8 542.5,817.4 542.8,819.4 543.1,816.8 543.4,816.9 543.7,819.5 544.0,818.3 544.3,819.8 544.6,818.7 544.9,817.6 545.2,818.5 545.5,819.8 545.8,819.6 546.1,818.6 546.4,818.6 546.7,818.3 547.0,817.6 547.3,819.8 547.6,817.5 547.9,815.8 548.2,815.6 548.5,815.5 548.8,813.3 549.1,809.1 549.4,803.0 549.7,795.4 550.0,782.2 550.3,768.0 550.6,753.8 550.9,737.7 551.2,730.1 551.5,732.9 551.8,743.9 552.1,759.4 552.4,777.8 552.7,790.3 553.0,800.1 553.3,808.8 553.6,813.6 553.9,815.6 554.2,818.6 554.5,819.7 554.8,818.9 555.1,821.4 555.4,821.8 555.7,822.1 556.0,821.3 556.3,822.9 556.6,823.5 556.9,823.9 557.2,822.9 557.5,824.9 557.8,823.3 558.1,824.4 558.4,826.1 558.7,824.3 559.0,824.6 559.3,826.2 559.6,824.9 559.9,825.0 560.2,825.6 560.5,826.4 560.8,823.1 561.1,824.5 561.4,824.2 561.7,824.0 562.0,824.1 562.3,823.7 562.6,824.3 562.9,822.2 563.2,822.1 563.5,820.9 563.8,818.4 564.1,818.2 564.4,819.5 564.7,818.7 565.0,818.8 565.3,820.5 565.6,820.4 565.9,821.8 566.2,822.0 566.5,819.1 566.8,817.5 567.1,815.0 567.4,807.7 567.7,800.6 568.0,789.5 568.3,778.7 568.6,768.9 568.9,765.8 569.2,764.6 569.5,772.1 569.8,782.9 570.1,794.1 570.4,804.3 570.7,811.0 571.0,817.9 571.3,819.6 571.6,822.9 571.9,823.2 572.2,824.4 572.5,823.1 572.8,824.8 573.1,825.3 573.4,825.4 573.7,823.8 574.0,826.9 574.3,825.8 574.6,825.8 574.9,826.0 575.2,826.0 575.5,826.6 575.8,825.0 576.1,825.3 576.4,826.4 576.7,826.3 577.0,825.8 577.3,825.6 577.6,825.4 577.9,826.1 578.2,827.4 578.5,825.2 578.8,827.7 579.1,827.2 579.4,826.0 579.7,827.3 580.0,825.2 580.3,825.0 580.6,825.5 580.9,826.5 581.2,826.6 581.5,826.5 581.8,827.2 582.1,825.2 582.4,827.9 582.7,826.2 583.0,827.1 583.3,827.5 583.6,826.9 583.9,826.8 584.2,827.2 584.5,828.2 584.8,828.8 585.1,828.8 585.4,827.2 585.7,827.3 586.0,827.1 586.3,828.3 586.6,825.7 586.9,828.7 587.2,826.9 587.5,826.4 587.8,827.4 588.1,828.0 588.4,827.3 588.7,828.0 589.0,827.1 589.3,828.3 589.6,828.3 589.9,827.1 590.2,828.5 590.5,827.3 590.8,827.1 591.1,826.0 591.4,826.6 591.7,827.5 592.0,825.4 592.3,827.3 592.6,827.0 592.9,826.9 593.2,824.6 593.5,826.6 593.8,827.3 594.1,826.0 594.4,826.8 594.7,824.5 595.0,827.4 595.3,826.2 595.6,827.6 595.9,825.0 596.2,827.3 596.5,826.3 596.8,827.2 597.1,825.4 597.4,825.5 597.7,827.9 598.0,824.7 598.3,824.4 598.6,824.3 598.9,822.9 599.2,824.0 599.5,823.1 599.8,818.6 600.1,814.4 600.4,812.5 600.7,805.8 601.0,796.9 601.3,786.7 601.6,773.2 601.9,763.0 602.2,754.5 602.5,753.2 602.8,761.0 603.1,769.5 603.4,783.9 603.7,792.9 604.0,801.6 604.3,810.4 604.6,816.9 604.9,819.5 605.2,820.5 605.5,823.8 605.8,826.0 606.1,825.1 606.4,825.5 606.7,827.7 607.0,827.3 607.3,826.4 607.6,827.3 607.9,827.1 608.2,828.2 608.5,828.1 608.8,829.1 609.1,828.7 609.4,826.6 609.7,828.5 610.0,829.1 610.3,828.7 610.6,829.3 610.9,827.8 611.2,827.4 611.5,829.1 611.8,827.0 612.1,825.5 612.4,827.5 612.7,824.1 613.0,821.5 613.3,816.1 613.6,810.3 613.9,803.2 614.2,796.1 614.5,789.6 614.8,782.4 615.1,784.5 615.4,786.1 615.7,792.7 616.0,802.0 616.3,808.8 616.6,813.9 616.9,822.0 617.2,822.8 617.5,826.0 617.8,827.2 618.1,829.0 618.4,827.4 618.7,828.7 619.0,826.5 619.3,827.1 619.6,823.2 619.9,820.2 620.2,817.5 620.5,809.6 620.8,801.8 621.1,795.9 621.4,787.5 621.7,782.7 622.0,784.9 622.3,787.8 622.6,797.3 622.9,805.3 623.2,811.0 623.5,817.1 623.8,822.5 624.1,825.5 624.4,826.7 624.7,829.4 625.0,827.7 625.3,829.6 625.6,829.9 625.9,830.2 626.2,830.9 626.5,829.6 626.8,831.5 627.1,831.0 627.4,830.8 627.7,830.4 628.0,830.9 628.3,832.7 628.6,831.8 628.9,833.0 629.2,834.1 629.5,834.1 629.8,834.6 630.1,832.7 630.4,831.8 630.7,833.7 631.0,832.8 631.3,833.5 631.6,832.3 631.9,833.4 632.2,833.0 632.5,832.8 632.8,832.5 633.1,832.4 633.4,832.2 633.7,832.2 634.0,832.9 634.3,831.5 634.6,833.5 634.9,831.6 635.2,832.4 635.5,830.9 635.8,830.0 636.1,831.1 636.4,827.7 636.7,825.4 637.0,824.3 637.3,823.1 637.6,823.9 637.9,820.8 638.2,820.7 638.5,818.6 638.8,820.2 639.1,821.4 639.4,823.7 639.7,822.9 640.0,825.6 640.3,826.8 640.6,826.9 640.9,829.0 641.2,829.6 641.5,828.4 641.8,831.6 642.1,831.9 642.4,831.2 642.7,830.5 643.0,833.2 643.3,832.0 643.6,832.7 643.9,833.0 644.2,831.0 644.5,832.0 644.8,830.7 645.1,830.5 645.4,829.9 645.7,829.3 646.0,829.4 646.3,827.4 646.6,826.0 646.9,824.7 647.2,824.1 647.5,821.9 647.8,821.7 648.1,822.0 648.4,821.8 648.7,823.0 649.0,823.6 649.3,827.3 649.6,827.8 649.9,828.1 650.2,828.7 650.5,831.6 650.8,830.5 651.1,830.6 651.4,831.4 651.7,831.6 652.0,832.8 652.3,831.6 652.6,833.7 652.9,830.9 653.2,832.5 653.5,831.0 653.8,833.8 654.1,831.8 654.4,832.2 654.7,833.1 655.0,833.3 655.3,831.0 655.6,831.4 655.9,830.1 656.2,830.9 656.5,829.8 656.8,828.1 657.1,825.8 657.4,823.1 657.7,818.8 658.0,815.0 658.3,810.2 658.6,800.9 658.9,797.1 659.2,792.8 659.5,792.2 659.8,792.3 660.1,797.0 660.4,801.7 660.7,809.3 661.0,814.5 661.3,819.2 661.6,823.7 661.9,826.2 662.2,827.1 662.5,830.6 662.8,831.3 663.1,831.5 663.4,833.0 663.7,833.5 664.0,831.5 664.3,831.9 664.6,834.2 664.9,834.1 665.2,832.1 665.5,831.7 665.8,832.3 666.1,832.4 666.4,831.3 666.7,832.8 667.0,831.5 667.3,831.5 667.6,833.4 667.9,831.6 668.2,831.8 668.5,832.0 668.8,831.4 669.1,829.3 669.4,828.2 669.7,825.7 670.0,826.2 670.3,822.9 670.6,818.8 670.9,817.4 671.2,815.9 671.5,813.9 671.8,814.1 672.1,813.5 672.4,812.6 672.7,814.6 673.0,815.6 673.3,819.5 673.6,821.8 673.9,826.5 674.2,826.2 674.5,825.9 674.8,828.7 675.1,830.5 675.4,830.1 675.7,831.1 676.0,832.0 676.3,832.9 676.6,832.6 676.9,832.1 677.2,833.7 677.5,832.5 677.8,832.6 678.1,831.7 678.4,832.3 678.7,833.7 679.0,831.5 679.3,832.9 679.6,833.6 679.9,832.5 680.2,832.9 680.5,831.4 680.8,833.4 681.1,832.8 681.4,831.5 681.7,828.9 682.0,828.6 682.3,829.3 682.6,828.5 682.9,825.3 683.2,824.0 683.5,819.9 683.8,817.8 684.1,815.7 684.4,814.1 684.7,811.0 685.0,812.9 685.3,813.7 685.6,812.8 685.9,814.6 686.2,818.4 686.5,819.9 686.8,820.5 687.1,825.5 687.4,826.5 687.7,827.2 688.0,830.7 688.3,829.5 688.6,829.2 688.9,830.4 689.2,829.5 689.5,829.9 689.8,831.1 690.1,830.2 690.4,830.3 690.7,832.2 691.0,831.3 691.3,831.0 691.6,830.5 691.9,830.1 692.2,830.5 692.5,828.4 692.8,828.9 693.1,824.4 693.4,822.3 693.7,817.3 694.0,813.1 694.3,807.6 694.6,801.4 694.9,792.3 695.2,786.8 695.5,782.5 695.8,781.5 696.1,783.9 696.4,790.6 696.7,795.8 697.0,804.7 697.3,811.2 697.6,816.2 697.9,820.3 698.2,823.2 698.5,828.5 698.8,827.0 699.1,830.7 699.4,830.5 699.7,830.0 700.0,829.6 700.3,831.9 700.6,832.8 700.9,830.5 701.2,831.2 701.5,832.5 701.8,831.9 702.1,833.5 702.4,831.0 702.7,832.0 703.0,830.2 703.3,833.1 703.6,830.3 703.9,828.7 704.2,830.4 704.5,830.0 704.8,831.5 705.1,828.8 705.4,828.3 705.7,827.9 706.0,827.6 706.3,824.7 706.6,824.3 706.9,822.6 707.2,821.1 707.5,821.4 707.8,822.0 708.1,822.3 708.4,825.7 708.7,824.7 709.0,828.4 709.3,829.3 709.6,829.2 709.9,829.1 710.2,829.8 710.5,830.5 710.8,830.5 711.1,829.6 711.4,829.5 711.7,827.0 712.0,826.4 712.3,823.1 712.6,823.4 712.9,820.9 713.2,818.5 713.5,818.2 713.8,816.4 714.1,812.3 714.4,814.9 714.7,814.3 715.0,817.9 715.3,821.0 715.6,820.1 715.9,822.6 716.2,824.1 716.5,826.2 716.8,827.7 717.1,829.3 717.4,828.0 717.7,830.9 718.0,829.0 718.3,830.3 718.6,831.3 718.9,830.9 719.2,829.4 719.5,829.6 719.8,829.8 720.1,830.2 720.4,831.3 720.7,829.1 721.0,830.7 721.3,830.8 721.6,830.7 721.9,830.6 722.2,831.5 722.5,830.5 722.8,830.7 723.1,830.3 723.4,831.2 723.7,827.6 724.0,830.2 724.3,828.4 724.6,827.9 724.9,826.8 725.2,825.3 725.5,826.0 725.8,825.0 726.1,825.2 726.4,822.3 726.7,823.7 727.0,821.1 727.3,818.4 727.6,815.0 727.9,810.3 728.2,802.8 728.5,792.3 728.8,776.2 729.1,752.6 729.4,721.1 729.7,686.7 730.0,650.9 730.3,626.2 730.6,622.2 730.9,637.4 731.2,666.4 731.5,698.0 731.8,727.4 732.1,750.0 732.4,768.3 732.7,777.2 733.0,784.2 733.3,787.3 733.6,790.3 733.9,793.2 734.2,792.9 734.5,794.9 734.8,796.3 735.1,799.8 735.4,800.2 735.7,802.2 736.0,804.2 736.3,806.4 736.6,810.2 736.9,814.1 737.2,812.7 737.5,816.2 737.8,817.1 738.1,817.3 738.4,819.3 738.7,820.5 739.0,821.1 739.3,824.4 739.6,821.6 739.9,824.2 740.2,824.4 740.5,823.6 740.8,824.0 741.1,824.0 741.4,822.1 741.7,820.2 742.0,816.9 742.3,808.6 742.6,803.0 742.9,790.7 743.2,772.0 743.5,750.7 743.8,726.0 744.1,708.7 744.4,700.7 744.7,708.5 745.0,728.6 745.3,749.7 745.6,771.7 745.9,787.6 746.2,802.3 746.5,811.5 746.8,816.5 747.1,820.1 747.4,824.8 747.7,823.5 748.0,824.7 748.3,825.7 748.6,828.1 748.9,829.5 749.2,828.3 749.5,827.6 749.8,828.1 750.1,829.7 750.4,828.0 750.7,830.3 751.0,830.4 751.3,829.2 751.6,829.8 751.9,830.1 752.2,831.0 752.5,828.7 752.8,831.0 753.1,829.7 753.4,829.6 753.7,830.6 754.0,830.5 754.3,830.0 754.6,829.6 754.9,830.4 755.2,832.7 755.5,833.3 755.8,832.1 756.1,832.6 756.4,831.0 756.7,831.3 757.0,831.5 757.3,830.2 757.6,830.2 757.9,831.1 758.2,830.6 758.5,829.8 758.8,831.0 759.1,830.3 759.4,831.4 759.7,830.4 760.0,830.0 760.3,830.3 760.6,830.0 760.9,829.5 761.2,829.7 761.5,830.7 761.8,830.5 762.1,831.0 762.4,828.1 762.7,829.1 763.0,828.9 763.3,829.1 763.6,828.2 763.9,827.6 764.2,828.0 764.5,826.3 764.8,823.2 765.1,822.8 765.4,818.6 765.7,812.0 766.0,806.7 766.3,797.6 766.6,791.0 766.9,781.9 767.2,775.1 767.5,772.4 767.8,772.8 768.1,778.2 768.4,785.3 768.7,793.4 769.0,800.9 769.3,805.3 769.6,814.7 769.9,817.3 770.2,822.5 770.5,825.4 770.8,826.1 771.1,826.4 771.4,827.2 771.7,827.7 772.0,827.7 772.3,828.0 772.6,827.9 772.9,830.0 773.2,829.1 773.5,830.0 773.8,828.9 774.1,829.1 774.4,828.8 774.7,829.2 775.0,829.5 775.3,828.8 775.6,827.9 775.9,827.8 776.2,830.1 776.5,828.4 776.8,828.6 777.1,830.3 777.4,830.2 777.7,829.8 778.0,829.0 778.3,831.6 778.6,829.8 778.9,829.8 779.2,829.1 779.5,827.9 779.8,827.8 780.1,829.3 780.4,829.2 780.7,828.5 781.0,827.6 781.3,827.3 781.6,828.3 781.9,827.3 782.2,829.5 782.5,829.7 782.8,831.2 783.1,829.4 783.4,828.0 783.7,827.7 784.0,825.3 784.3,827.9 784.6,828.3 784.9,829.3 785.2,829.0 785.5,829.0 785.8,828.7 786.1,829.2 786.4,829.9 786.7,827.7 787.0,828.2 787.3,827.4 787.6,830.1 787.9,829.8 788.2,829.3 788.5,827.5 788.8,828.8 789.1,828.4 789.4,828.7 789.7,828.4 790.0,829.1 790.3,828.2 790.6,829.2 790.9,828.6 791.2,827.9 791.5,827.9 791.8,827.2 792.1,827.9 792.4,826.3 792.7,826.0 793.0,824.4 793.3,822.2 793.6,823.0 793.9,819.8 794.2,819.9 794.5,818.3 794.8,815.3 795.1,815.3 795.4,815.6 795.7,815.7 796.0,816.3 796.3,819.3 796.6,819.9 796.9,822.0 797.2,822.7 797.5,824.6 797.8,824.7 798.1,826.2 798.4,827.3 798.7,827.2 799.0,827.0 799.3,826.5 799.6,827.7 799.9,827.9 800.2,827.3 800.5,826.7 800.8,827.9 801.1,829.6 801.4,827.0 801.7,827.5 802.0,827.4 802.3,824.7 802.6,827.1 802.9,826.2 803.2,828.1 803.5,826.5 803.8,825.8 804.1,826.1 804.4,826.1 804.7,824.9 805.0,824.7 805.3,822.7 805.6,822.7 805.9,822.3 806.2,821.8 806.5,818.8 806.8,816.4 807.1,815.2 807.4,813.1 807.7,811.9 808.0,810.2 808.3,808.5 808.6,809.0 808.9,809.8 809.2,811.3 809.5,812.9 809.8,813.7 810.1,814.2 810.4,816.9 810.7,816.9 811.0,819.6 811.3,820.2 811.6,819.0 811.9,821.3 812.2,821.4 812.5,820.5 812.8,821.6 813.1,821.4 813.4,818.1 813.7,819.4 814.0,818.2 814.3,817.3 814.6,816.8 814.9,814.3 815.2,813.1 815.5,811.3 815.8,809.2 816.1,807.0 816.4,801.8 816.7,796.6 817.0,790.4 817.3,779.3 817.6,766.1 817.9,747.3 818.2,729.0 818.5,709.1 818.8,691.4 819.1,678.6 819.4,677.3 819.7,684.1 820.0,699.2 820.3,717.5 820.6,736.4 820.9,751.7 821.2,766.7 821.5,776.6 821.8,784.2 822.1,789.9 822.4,794.5 822.7,798.0 823.0,800.4 823.3,801.9 823.6,804.1 823.9,805.1 824.2,807.7 824.5,808.0 824.8,807.5 825.1,811.9 825.4,812.0 825.7,812.0 826.0,813.9 826.3,814.2 826.6,817.8 826.9,817.1 827.2,816.0 827.5,818.7 827.8,818.5 828.1,821.2 828.4,819.2 828.7,818.8 829.0,821.4 829.3,821.6 829.6,822.0 829.9,820.9 830.2,823.6 830.5,825.1 830.8,822.2 831.1,825.3 831.4,824.0 831.7,826.9 832.0,825.4 832.3,825.1 832.6,826.6 832.9,826.3 833.2,825.5 833.5,826.9 833.8,826.0 834.1,825.0 834.4,828.6 834.7,826.7 835.0,826.6 835.3,827.6 835.6,826.1 835.9,826.4 836.2,827.3 836.5,827.5 836.8,828.2 837.1,829.3 837.4,828.1 837.7,829.1 838.0,829.4 838.3,828.0 838.6,829.3 838.9,828.2 839.2,830.0 839.5,829.4 839.8,828.8 840.1,827.3 840.4,828.3 840.7,827.0 841.0,827.8 841.3,826.5 841.6,825.3 841.9,826.3 842.2,825.7 842.5,824.2 842.8,825.7 843.1,824.6 843.4,825.0 843.7,825.9 844.0,825.7 844.3,826.5 844.6,827.3 844.9,829.3 845.2,829.6 845.5,828.2 845.8,830.0 846.1,828.6 846.4,828.9 846.7,829.2 847.0,828.4 847.3,830.0 847.6,827.5 847.9,825.3 848.2,826.3 848.5,823.0 848.8,820.6 849.1,814.8 849.4,814.2 849.7,809.1 850.0,803.6 850.3,798.0 850.6,793.5 850.9,787.9 851.2,786.8 851.5,785.6 851.8,788.7 852.1,794.4 852.4,799.2 852.7,803.3 853.0,810.1 853.3,814.4 853.6,817.7 853.9,821.9 854.2,823.5 854.5,824.1 854.8,825.7 855.1,829.1 855.4,826.7 855.7,828.6 856.0,829.2 856.3,829.5 856.6,828.0 856.9,828.9 857.2,829.4 857.5,830.0 857.8,828.7 858.1,828.3 858.4,830.2 858.7,830.3 859.0,829.7 859.3,828.8 859.6,829.7 859.9,829.4 860.2,830.0 860.5,828.2 860.8,829.3 861.1,829.1 861.4,828.2 861.7,829.3 862.0,829.1 862.3,828.6 862.6,829.3 862.9,827.6 863.2,828.8 863.5,829.2 863.8,829.1 864.1,829.8 864.4,827.8 864.7,827.5 865.0,828.9 865.3,829.0 865.6,830.3 865.9,828.6 866.2,826.9 866.5,827.8 866.8,825.4 867.1,823.7 867.4,825.7 867.7,821.6 868.0,819.4 868.3,816.2 868.6,813.9 868.9,808.9 869.2,806.3 869.5,801.2 869.8,798.6 870.1,800.1 870.4,800.5 870.7,801.3 871.0,803.8 871.3,807.1 871.6,809.9 871.9,815.4 872.2,817.8 872.5,820.5 872.8,822.7 873.1,825.2 873.4,826.1 873.7,827.4 874.0,826.4 874.3,828.3 874.6,830.0 874.9,827.6 875.2,827.9 875.5,828.6 875.8,828.4 876.1,827.6 876.4,825.1 876.7,826.2 877.0,823.7 877.3,822.7 877.6,822.5 877.9,820.0 878.2,819.3 878.5,819.7 878.8,816.2 879.1,815.1 879.4,813.3 879.7,813.8 880.0,814.4 880.3,816.2 880.6,817.3 880.9,819.3 881.2,821.3 881.5,822.1 881.8,823.0 882.1,824.2 882.4,826.6 882.7,826.8 883.0,828.1 883.3,828.4 883.6,827.3 883.9,828.2 884.2,826.4 884.5,829.7 884.8,828.6 885.1,827.3 885.4,826.5 885.7,827.8 886.0,825.8 886.3,826.8 886.6,828.2 886.9,827.6 887.2,827.2 887.5,828.7 887.8,827.0 888.1,828.4 888.4,827.9 888.7,827.7 889.0,829.1 889.3,827.9 889.6,830.5 889.9,828.4 890.2,830.7 890.5,827.9 890.8,829.3 891.1,827.6 891.4,827.4 891.7,828.6 892.0,829.0 892.3,827.2 892.6,829.3 892.9,827.5 893.2,828.3 893.5,828.5 893.8,828.7 894.1,826.5 894.4,829.5 894.7,828.4 895.0,827.4 895.3,826.6 895.6,825.6 895.9,825.5 896.2,826.5 896.5,824.9 896.8,823.0 897.1,821.9 897.4,821.6 897.7,817.3 898.0,813.9 898.3,812.0 898.6,807.3 898.9,802.9 899.2,798.7 899.5,795.0 899.8,793.6 900.1,794.0 900.4,795.6 900.7,798.7 901.0,802.4 901.3,806.0 901.6,809.8 901.9,812.1 902.2,813.9 902.5,817.4 902.8,818.3 903.1,818.9 903.4,818.9 903.7,817.2 904.0,816.1 904.3,815.9 904.6,815.4 904.9,814.8 905.2,816.8 905.5,817.8 905.8,819.1 906.1,822.1 906.4,825.6 906.7,824.9 907.0,827.8 907.3,828.8 907.6,829.6 907.9,828.0 908.2,830.8 908.5,829.3 908.8,829.2 909.1,829.3 909.4,830.1 909.7,829.6 910.0,829.5 910.3,830.8 910.6,829.0 910.9,828.8 911.2,830.4 911.5,830.4 911.8,830.8 912.1,829.0 912.4,831.0 912.7,830.6 913.0,831.8 913.3,829.3 913.6,830.7 913.9,830.3 914.2,829.2 914.5,829.9 914.8,831.6 915.1,830.1 915.4,829.9 915.7,831.3 916.0,831.4 916.3,831.4 916.6,829.9 916.9,830.6 917.2,831.6 917.5,830.3 917.8,830.3 918.1,831.8 918.4,832.6 918.7,830.3 919.0,829.1 919.3,830.1 919.6,830.5 919.9,831.3 920.2,832.0 920.5,831.4 920.8,831.0 921.1,831.8 921.4,830.8 921.7,831.7 922.0,831.2 922.3,834.1 922.6,832.4 922.9,830.9 923.2,830.7 923.5,831.1 923.8,829.9 924.1,830.4 924.4,830.0 924.7,831.0 925.0,829.2 925.3,828.0 925.6,826.6 925.9,825.6 926.2,825.4 926.5,824.1 926.8,824.1 927.1,821.7 927.4,822.7 927.7,821.9 928.0,822.0 928.3,821.0 928.6,822.7 928.9,825.6 929.2,827.4 929.5,827.4 929.8,828.7 930.1,828.3 930.4,828.6 930.7,828.3 931.0,829.3 931.3,828.0 931.6,826.5 931.9,825.3 932.2,824.9 932.5,823.7 932.8,822.1 933.1,824.4 933.4,823.9 933.7,824.9 934.0,827.7 934.3,828.8 934.6,829.1 934.9,830.8 935.2,830.2 935.5,831.2 935.8,830.2 936.1,833.5 936.4,831.0 936.7,833.3 937.0,832.0 937.3,832.0 937.6,832.7 937.9,833.1 938.2,833.4 938.5,834.4 938.8,833.1 939.1,833.5 939.4,832.2 939.7,833.3 940.0,832.8 940.3,832.3 940.6,832.6 940.9,832.6 941.2,832.8 941.5,833.0 941.8,832.2 942.1,831.9 942.4,833.2 942.7,831.0 943.0,831.9 943.3,833.7 943.6,829.9 943.9,831.5 944.2,832.6 944.5,830.3 944.8,833.7 945.1,828.7 945.4,831.5 945.7,830.7 946.0,828.7 946.3,825.9 946.6,823.9 946.9,819.7 947.2,817.4 947.5,811.2 947.8,807.0 948.1,802.9 948.4,795.9 948.7,792.2 949.0,789.4 949.3,786.4 949.6,788.9 949.9,790.0 950.2,791.4 950.5,796.4 950.8,799.6 951.1,803.2 951.4,806.9 951.7,808.6 952.0,811.7 952.3,811.3 952.6,813.3 952.9,812.5 953.2,813.1 953.5,811.5 953.8,811.2 954.1,810.5 954.4,811.9 954.7,812.4 955.0,813.9 955.3,814.0 955.6,814.0 955.9,814.8 956.2,816.6 956.5,817.6 956.8,820.4 957.1,821.5 957.4,821.4 957.7,823.0 958.0,826.2 958.3,826.6 958.6,827.3 958.9,829.7 959.2,829.2 959.5,830.2 959.8,830.7 960.1,830.0 960.4,833.0 960.7,831.6 961.0,832.6 961.3,832.8 961.6,834.3 961.9,833.9 962.2,834.2 962.5,832.9 962.8,834.4 963.1,833.2 963.4,834.7 963.7,834.7 964.0,834.3 964.3,835.9 964.6,834.5 964.9,834.4 965.2,833.9 965.5,833.6 965.8,834.5 966.1,834.7 966.4,832.6 966.7,834.7 967.0,834.2 967.3,834.6 967.6,834.2 967.9,832.7 968.2,832.7 968.5,835.3 968.8,833.9 969.1,832.4 969.4,834.0 969.7,833.4 970.0,832.1 970.3,831.8 970.6,832.5 970.9,834.2 971.2,833.9 971.5,833.7 971.8,834.1 972.1,834.3 972.4,831.8 972.7,833.2 973.0,832.5 973.3,831.9 973.6,832.2 973.9,832.3 974.2,832.0 974.5,830.8 974.8,831.4 975.1,833.4 975.4,830.6 975.7,829.9 976.0,831.4 976.3,831.5 976.6,831.2 976.9,829.6 977.2,831.2 977.5,829.3 977.8,828.6 978.1,828.5 978.4,828.2 978.7,827.9 979.0,826.6 979.3,824.4 979.6,823.3 979.9,820.2 980.2,818.1 980.5,813.0 980.8,809.4 981.1,807.9 981.4,802.5 981.7,800.2 982.0,797.6 982.3,795.3 982.6,794.4 982.9,796.2 983.2,794.1 983.5,799.3 983.8,803.5 984.1,804.8 984.4,808.2 984.7,812.2 985.0,816.2 985.3,816.3 985.6,819.7 985.9,821.4 986.2,823.6 986.5,824.5 986.8,826.0 987.1,825.8 987.4,826.9 987.7,826.7 988.0,827.1 988.3,827.9 988.6,828.1 988.9,827.4 989.2,829.9 989.5,828.5 989.8,827.5 990.1,829.7 990.4,828.1 990.7,829.2 991.0,828.7 991.3,828.9 991.6,828.8 991.9,828.1 992.2,828.6 992.5,830.3 992.8,826.6 993.1,828.6 993.4,828.9 993.7,827.6 994.0,827.3 994.3,830.3 994.6,828.1 994.9,830.1 995.2,828.6 995.5,828.0 995.8,828.3 996.1,828.3 996.4,828.7 996.7,828.0 997.0,827.7 997.3,827.7 997.6,828.8 997.9,828.3 998.2,826.8 998.5,827.2 998.8,828.1 999.1,827.4 999.4,827.7 999.7,827.4 1000.0,828.2 1000.3,828.9 1000.6,829.6 1000.9,828.9 1001.2,830.7 1001.5,828.9 1001.8,831.8 1002.1,829.9 1002.4,829.4 1002.7,828.5 1003.0,826.5 1003.3,828.7 1003.6,829.0 1003.9,830.6 1004.2,827.7 1004.5,830.6 1004.8,828.7 1005.1,829.5 1005.4,826.7 1005.7,829.0 1006.0,828.6 1006.3,829.6 1006.6,829.1 1006.9,828.1 1007.2,829.9 1007.5,829.7 1007.8,829.5 1008.1,829.7 1008.4,829.6 1008.7,828.5 1009.0,827.1 1009.3,826.9 1009.6,829.1 1009.9,828.3 1010.2,827.6 1010.5,826.8 1010.8,826.7 1011.1,826.0 1011.4,824.7 1011.7,823.0 1012.0,823.6 1012.3,819.7 1012.6,816.3 1012.9,812.6 1013.2,809.8 1013.5,807.6 1013.8,804.3 1014.1,800.7 1014.4,798.8 1014.7,797.5 1015.0,797.0 1015.3,800.4 1015.6,802.0 1015.9,806.8 1016.2,807.4 1016.5,811.4 1016.8,815.6 1017.1,817.6 1017.4,819.3 1017.7,821.8 1018.0,824.5 1018.3,826.1 1018.6,826.9 1018.9,828.7 1019.2,829.4 1019.5,829.4 1019.8,829.7 1020.1,830.0 1020.4,831.1 1020.7,831.9 1021.0,831.5 1021.3,832.1 1021.6,831.7 1021.9,830.9 1022.2,831.3 1022.5,832.8 1022.8,832.5 1023.1,833.5 1023.4,832.2 1023.7,832.8 1024.0,833.2 1024.3,833.0 1024.6,831.7 1024.9,832.1 1025.2,832.5 1025.5,831.6 1025.8,833.0 1026.1,833.5 1026.4,832.4 1026.7,834.5 1027.0,832.7 1027.3,832.9 1027.6,832.9 1027.9,832.6 1028.2,833.6 1028.5,833.4 1028.8,834.8 1029.1,833.9 1029.4,833.9 1029.7,833.2 1030.0,832.2 1030.3,833.3 1030.6,832.6 1030.9,834.1 1031.2,833.2 1031.5,834.6 1031.8,833.8 1032.1,833.8 1032.4,833.3 1032.7,833.3 1033.0,833.7 1033.3,833.9 1033.6,832.6 1033.9,833.6 1034.2,835.4 1034.5,833.1 1034.8,832.9 1035.1,832.5 1035.4,831.7 1035.7,833.8 1036.0,832.7 1036.3,832.6 1036.6,833.5 1036.9,833.5 1037.2,829.7 1037.5,830.1 1037.8,827.9 1038.1,825.4 1038.4,822.4 1038.7,818.3 1039.0,815.4 1039.3,809.8 1039.6,804.7 1039.9,800.7 1040.2,796.3 1040.5,793.0 1040.8,791.5 1041.1,793.0 1041.4,793.6 1041.7,795.7 1042.0,797.8 1042.3,800.8 1042.6,802.0 1042.9,803.8 1043.2,803.7 1043.5,800.5 1043.8,800.2 1044.1,798.2 1044.4,795.4 1044.7,792.6 1045.0,793.7 1045.3,792.4 1045.6,793.4 1045.9,795.9 1046.2,799.6 1046.5,803.4 1046.8,806.4 1047.1,808.1 1047.4,809.0 1047.7,811.1 1048.0,812.2 1048.3,813.8 1048.6,813.2 1048.9,815.4 1049.2,816.4 1049.5,816.3 1049.8,817.4 1050.1,816.9 1050.4,817.2 1050.7,818.7 1051.0,821.1 1051.3,821.9 1051.6,821.6 1051.9,824.0 1052.2,823.6 1052.5,826.1 1052.8,826.1 1053.1,826.1 1053.4,827.9 1053.7,827.3 1054.0,827.7 1054.3,827.8 1054.6,829.6 1054.9,829.7 1055.2,830.0 1055.5,830.0 1055.8,831.7 1056.1,830.2 1056.4,829.9 1056.7,831.3 1057.0,831.0 1057.3,829.4 1057.6,826.7 1057.9,826.5 1058.2,826.0 1058.5,823.8 1058.8,823.3 1059.1,819.1 1059.4,819.3 1059.7,817.2 1060.0,818.5 1060.3,817.7 1060.6,819.6 1060.9,819.5 1061.2,820.3 1061.5,821.8 1061.8,823.1 1062.1,823.2 1062.4,824.9 1062.7,824.3 1063.0,822.2 1063.3,819.7 1063.6,819.4 1063.9,818.4 1064.2,820.6 1064.5,820.9 1064.8,822.9 1065.1,824.3 1065.4,825.1 1065.7,828.1 1066.0,829.4 1066.3,832.0 1066.6,832.7 1066.9,832.6 1067.2,833.4 1067.5,835.4 1067.8,833.5 1068.1,833.7 1068.4,834.4 1068.7,834.0 1069.0,834.3 1069.3,835.1 1069.6,836.1 1069.9,833.2 1070.2,834.7 1070.5,834.7 1070.8,834.6 1071.1,834.5 1071.4,834.4 1071.7,835.5 1072.0,834.3 1072.3,834.6 1072.6,834.7 1072.9,834.8 1073.2,834.6 1073.5,835.6 1073.8,834.8 1074.1,835.0 1074.4,834.9 1074.7,834.3 1075.0,834.5 1075.3,834.5 1075.6,835.7 1075.9,835.1 1076.2,834.9 1076.5,836.0 1076.8,836.2 1077.1,834.3 1077.4,837.1 1077.7,835.4 1078.0,835.0 1078.3,835.5 1078.6,833.9 1078.9,832.4 1079.2,833.5 1079.5,829.2 1079.8,828.1 1080.1,826.7 1080.4,822.7 1080.7,821.0 1081.0,819.0 1081.3,818.5 1081.6,814.2 1081.9,814.3 1082.2,815.1 1082.5,815.9 1082.8,816.8 1083.1,820.6 1083.4,823.0 1083.7,825.8 1084.0,828.7 1084.3,830.7 1084.6,831.9 1084.9,833.1 1085.2,832.9 1085.5,834.5 1085.8,835.3 1086.1,835.2 1086.4,835.9 1086.7,835.3 1087.0,837.4 1087.3,838.0 1087.6,836.0 1087.9,836.6 1088.2,836.1 1088.5,837.2 1088.8,836.4 1089.1,835.9 1089.4,835.3 1089.7,835.2 1090.0,833.7 1090.3,834.4 1090.6,832.1 1090.9,831.8 1091.2,829.8 1091.5,828.7 1091.8,825.8 1092.1,824.9 1092.4,821.9 1092.7,822.5 1093.0,822.0 1093.3,823.5 1093.6,825.1 1093.9,827.8 1094.2,827.4 1094.5,831.2 1094.8,831.3 1095.1,834.9 1095.4,833.2 1095.7,834.7 1096.0,834.7 1096.3,837.8 1096.6,835.5 1096.9,836.9 1097.2,836.4 1097.5,835.5 1097.8,836.9 1098.1,837.8 1098.4,837.2 1098.7,838.3 1099.0,837.3 1099.3,837.7 1099.6,837.4 1099.9,838.0 1100.2,839.4 1100.5,838.1 1100.8,838.0 1101.1,837.3 1101.4,837.2 1101.7,839.1 1102.0,836.9 1102.3,837.1 1102.6,837.8 1102.9,837.5 1103.2,839.5 1103.5,835.8 1103.8,838.1 1104.1,838.3 1104.4,836.7 1104.7,837.1 1105.0,837.9 1105.3,838.9 1105.6,836.7 1105.9,836.1 1106.2,838.2 1106.5,838.7 1106.8,837.1 1107.1,835.5 1107.4,838.6 1107.7,837.2 1108.0,838.4 1108.3,837.4 1108.6,837.2 1108.9,837.2 1109.2,838.9 1109.5,838.9 1109.8,835.9 1110.1,836.9 1110.4,839.2 1110.7,837.3 1111.0,836.5 1111.3,837.5 1111.6,837.3 1111.9,837.2 1112.2,836.6 1112.5,836.5 1112.8,836.1 1113.1,836.4 1113.4,835.0 1113.7,834.9 1114.0,834.4 1114.3,834.8 1114.6,833.1 1114.9,831.6 1115.2,830.8 1115.5,829.0 1115.8,827.6 1116.1,825.0 1116.4,823.7 1116.7,820.9 1117.0,817.3 1117.3,814.7 1117.6,813.9 1117.9,812.2 1118.2,811.0 1118.5,809.9 1118.8,810.4 1119.1,813.5 1119.4,815.6 1119.7,817.6 1120.0,817.8 1120.3,821.6 1120.6,822.0 1120.9,824.2 1121.2,825.3 1121.5,825.1 1121.8,825.9 1122.1,824.9 1122.4,826.0 1122.7,825.3 1123.0,827.2 1123.3,826.9 1123.6,827.6 1123.9,827.2 1124.2,826.6 1124.5,827.6 1124.8,827.3 1125.1,828.4 1125.4,828.6 1125.7,827.9 1126.0,829.1 1126.3,829.6 1126.6,829.7 1126.9,831.1 1127.2,832.2 1127.5,830.9 1127.8,831.4 1128.1,830.2 1128.4,832.4 1128.7,832.5 1129.0,831.5 1129.3,833.9 1129.6,834.6 1129.9,833.9 1130.2,834.5 1130.5,834.4 1130.8,836.1 1131.1,834.4 1131.4,835.6 1131.7,837.6 1132.0,836.1 1132.3,836.5 1132.6,836.0 1132.9,835.2 1133.2,836.1 1133.5,836.5 1133.8,835.2 1134.1,836.3 1134.4,837.0 1134.7,836.8 1135.0,834.6 1135.3,835.0 1135.6,834.5 1135.9,836.7 1136.2,836.4 1136.5,836.5 1136.8,835.2 1137.1,835.0 1137.4,836.1 1137.7,836.2 1138.0,835.4 1138.3,836.3 1138.6,836.7 1138.9,836.3 1139.2,835.2 1139.5,834.3 1139.8,835.9 1140.1,836.2 1140.4,835.8 1140.7,835.7 1141.0,835.4 1141.3,836.5 1141.6,835.7 1141.9,835.7 1142.2,834.5 1142.5,834.5 1142.8,834.7 1143.1,833.1 1143.4,832.2 1143.7,831.9 1144.0,831.9 1144.3,829.5 1144.6,828.7 1144.9,825.4 1145.2,823.0 1145.5,819.8 1145.8,818.1 1146.1,817.7 1146.4,815.0 1146.7,814.1 1147.0,813.4 1147.3,812.9 1147.6,813.3 1147.9,814.7 1148.2,816.6 1148.5,818.0 1148.8,819.7 1149.1,821.1 1149.4,821.8 1149.7,823.5 1150.0,824.1 1150.3,826.7 1150.6,825.0 1150.9,827.2 1151.2,830.0 1151.5,828.3 1151.8,828.2 1152.1,829.7 1152.4,831.3 1152.7,830.5 1153.0,831.6 1153.3,831.7 1153.6,831.7 1153.9,835.1 1154.2,833.0 1154.5,833.0 1154.8,833.4 1155.1,834.6 1155.4,835.0 1155.7,835.7 1156.0,835.5 1156.3,834.4 1156.6,836.3 1156.9,835.7 1157.2,835.9 1157.5,835.0 1157.8,835.8 1158.1,835.7 1158.4,836.3 1158.7,835.2 1159.0,836.4 1159.3,836.6 1159.6,835.6 1159.9,836.0 1160.2,835.9 1160.5,837.4 1160.8,834.5 1161.1,836.2 1161.4,835.0 1161.7,835.8 1162.0,836.6 1162.3,835.1 1162.6,835.3 1162.9,833.9 1163.2,835.6 1163.5,834.0 1163.8,833.4 1164.1,830.5 1164.4,829.7 1164.7,830.6 1165.0,828.6 1165.3,827.8 1165.6,827.6 1165.9,825.9 1166.2,827.4 1166.5,826.9 1166.8,827.6 1167.1,827.1 1167.4,828.6 1167.7,828.2 1168.0,830.1 1168.3,830.8 1168.6,831.0 1168.9,831.1 1169.2,831.4 1169.5,828.9 1169.8,831.9 1170.1,831.0 1170.4,831.4 1170.7,831.0 1171.0,830.1 1171.3,830.9 1171.6,831.9 1171.9,832.6 1172.2,831.1 1172.5,831.0 1172.8,833.1 1173.1,831.4 1173.4,834.0 1173.7,832.5 1174.0,832.0 1174.3,833.7 1174.6,834.4 1174.9,832.0 1175.2,834.5 1175.5,833.1 1175.8,834.7 1176.1,833.2 1176.4,832.3 1176.7,834.1 1177.0,834.5 1177.3,835.6 1177.6,835.4 1177.9,834.7 1178.2,834.1 1178.5,834.1 1178.8,834.4 1179.1,834.1 1179.4,834.7 1179.7,832.9 1180.0,835.2 1180.3,835.0 1180.6,837.2 1180.9,835.7 1181.2,834.6 1181.5,835.4 1181.8,833.9 1182.1,834.4 1182.4,833.4 1182.7,836.0 1183.0,835.3 1183.3,833.9 1183.6,834.7 1183.9,835.5 1184.2,835.1 1184.5,835.0 1184.8,833.9 1185.1,834.0 1185.4,834.6 1185.7,835.2 1186.0,833.8 1186.3,833.5 1186.6,835.4 1186.9,833.7 1187.2,835.4 1187.5,834.8 1187.8,835.4 1188.1,836.2 1188.4,835.5 1188.7,835.7 1189.0,834.6 1189.3,834.9 1189.6,836.2 1189.9,837.1 1190.2,837.2 1190.5,838.0 1190.8,836.5 1191.1,836.5 1191.4,837.2 1191.7,836.5 1192.0,836.5 1192.3,835.8 1192.6,837.5 1192.9,836.0 1193.2,837.4 1193.5,836.0 1193.8,838.2 1194.1,836.6 1194.4,838.2 1194.7,836.3 1195.0,837.3 1195.3,838.6 1195.6,836.9 1195.9,837.5 1196.2,837.0 1196.5,835.4 1196.8,837.4 1197.1,837.5 1197.4,836.2 1197.7,837.6 1198.0,836.5 1198.3,836.4 1198.6,837.3 1198.9,836.8 1199.2,839.2 1199.5,836.1 1199.8,838.0 1200.1,838.2 1200.4,835.8 1200.7,836.1 1201.0,837.9 1201.3,837.1 1201.6,837.9 1201.9,838.6 1202.2,837.4 1202.5,837.0 1202.8,835.7 1203.1,838.2 1203.4,837.4 1203.7,838.4 1204.0,838.2 1204.3,836.8 1204.6,839.2 1204.9,838.6 1205.2,838.3 1205.5,836.5 1205.8,837.1 1206.1,837.0 1206.4,837.1 1206.7,836.5 1207.0,837.8 1207.3,837.7 1207.6,837.9 1207.9,837.2 1208.2,838.7 1208.5,837.9 1208.8,835.5 1209.1,837.2 1209.4,837.7 1209.7,838.6 1210.0,837.6 1210.3,837.7 1210.6,837.4 1210.9,838.5 1211.2,837.7 1211.5,837.6 1211.8,837.6 1212.1,838.7 1212.4,837.9 1212.7,837.0 1213.0,838.9 1213.3,837.9 1213.6,838.8 1213.9,838.8 1214.2,839.5 1214.5,839.4 1214.8,838.1 1215.1,838.5 1215.4,837.6 1215.7,840.1 1216.0,839.2 1216.3,840.0 1216.6,838.6 1216.9,837.2 1217.2,840.1 1217.5,838.8 1217.8,838.7 1218.1,838.5 1218.4,838.8 1218.7,838.6 1219.0,836.7 1219.3,838.8 1219.6,837.4 1219.9,837.4 1220.2,839.2 1220.5,838.6 1220.8,837.6 1221.1,836.5 1221.4,838.2 1221.7,838.6 1222.0,838.1 1222.3,837.3 1222.6,837.7 1222.9,837.3 1223.2,838.5 1223.5,839.1 1223.8,839.2 1224.1,837.8 1224.4,838.6 1224.7,838.9 1225.0,838.0 1225.3,838.3 1225.6,840.1 1225.9,838.5 1226.2,839.0 1226.5,837.9 1226.8,838.2 1227.1,836.8 1227.4,838.2 1227.7,839.2 1228.0,840.0 1228.3,839.3 1228.6,838.9 1228.9,838.4 1229.2,837.8 1229.5,838.0 1229.8,838.5 1230.1,837.1 1230.4,838.3 1230.7,836.5 1231.0,835.6 1231.3,836.1 1231.6,835.4 1231.9,835.5 1232.2,837.5 1232.5,836.3 1232.8,836.7 1233.1,837.4 1233.4,837.6 1233.7,836.2 1234.0,837.7 1234.3,836.9 1234.6,836.5 1234.9,836.8 1235.2,835.0 1235.5,835.0 1235.8,834.9 1236.1,834.6 1236.4,832.6 1236.7,831.4 1237.0,830.8 1237.3,829.7 1237.6,828.0 1237.9,827.8 1238.2,826.4 1238.5,827.1 1238.8,828.6 1239.1,829.2 1239.4,830.1 1239.7,832.7 1240.0,831.7 1240.3,831.3 1240.6,832.4 1240.9,833.1 1241.2,831.1 1241.5,831.2 1241.8,828.9 1242.1,827.8 1242.4,826.4 1242.7,825.5 1243.0,825.7 1243.3,821.9 1243.6,822.8 1243.9,819.4 1244.2,819.0 1244.5,819.1 1244.8,818.3 1245.1,817.8 1245.4,816.3 1245.7,818.3 1246.0,817.8 1246.3,821.6 1246.6,820.4 1246.9,821.9 1247.2,822.1 1247.5,824.0 1247.8,824.6 1248.1,827.7 1248.4,827.8 1248.7,829.5 1249.0,829.5 1249.3,830.5 1249.6,832.6 1249.9,831.4 1250.2,831.2 1250.5,833.4 1250.8,832.5 1251.1,833.3 1251.4,834.7 1251.7,833.5 1252.0,835.0 1252.3,833.9 1252.6,835.7 1252.9,835.6 1253.2,834.3 1253.5,834.5 1253.8,834.1 1254.1,835.1 1254.4,836.0 1254.7,834.1 1255.0,836.2 1255.3,834.7 1255.6,835.3 1255.9,834.9"/>
</g>
<g id="markers">
<circle cx="303.6" cy="391.1" r="15" fill="none" stroke="#231f20" stroke-width="7.4"/><circle cx="501.4" cy="326.9" r="15" fill="none" stroke="#231f20" stroke-width="7.4"/><circle cx="591.6" cy="138.6" r="15" fill="none" stroke="#231f20" stroke-width="7.4"/><circle cx="613.6" cy="398" r="15" fill="none" stroke="#231f20" stroke-width="7.4"/><circle cx="954.5" cy="279.8" r="15" fill="none" stroke="#231f20" stroke-width="7.4"/><rect x="307.4" y="388.1" width="32.6" height="32.6" fill="none" stroke="#231f20" stroke-width="3.0"/><rect x="578.6" y="331.0" width="32.6" height="32.6" fill="none" stroke="#231f20" stroke-width="3.0"/><rect x="551.0" y="371.0" width="32.6" height="32.6" fill="none" stroke="#231f20" stroke-width="3.0"/><rect x="626.7" y="375.7" width="32.6" height="32.6" fill="none" stroke="#231f20" stroke-width="3.0"/><rect x="945.5" y="360.5" width="32.6" height="32.6" fill="none" stroke="#231f20" stroke-width="3.0"/><path d="M344.5,325L362.5,343L344.5,361L326.5,343Z" fill="#231f20"/><path d="M393.6,331.8L411.6,349.8L393.6,367.8L375.6,349.8Z" fill="#231f20"/><path d="M399.3,269.4L417.3,287.4L399.3,305.4L381.3,287.4Z" fill="#231f20"/><path d="M445.7,263L463.7,281L445.7,299L427.7,281Z" fill="#231f20"/><path d="M462.9,291.2L480.9,309.2L462.9,327.2L444.9,309.2Z" fill="#231f20"/><path d="M532.9,306L550.9,324L532.9,342L514.9,324Z" fill="#231f20"/><path d="M692.3,354.8L710.3,372.8L692.3,390.8L674.3,372.8Z" fill="#231f20"/><path d="M720.7,320.3L738.7,338.3L720.7,356.3L702.7,338.3Z" fill="#231f20"/><path d="M734,336.4L752,354.4L734,372.4L716,354.4Z" fill="#231f20"/><path d="M421.8,276.3L426.1,288.2L438.4,292.5L426.1,296.8L421.8,308.7L417.5,296.8L405.2,292.5L417.5,288.2Z" fill="#fff" stroke="#231f20" stroke-width="1.3" stroke-linejoin="miter"/><path d="M421.8,292.5L421.8,276.3L426.1,288.2Z" fill="#231f20" fill-opacity=".8"/><path d="M421.8,292.5L438.4,292.5L426.1,296.8Z" fill="#231f20" fill-opacity=".8"/><path d="M421.8,292.5L421.8,308.7L417.5,296.8Z" fill="#231f20" fill-opacity=".8"/><path d="M421.8,292.5L405.2,292.5L417.5,288.2Z" fill="#231f20" fill-opacity=".8"/><path d="M493.9,275.1L498.2,287.0L510.5,291.3L498.2,295.6L493.9,307.5L489.6,295.6L477.3,291.3L489.6,287.0Z" fill="#fff" stroke="#231f20" stroke-width="1.3" stroke-linejoin="miter"/><path d="M493.9,291.3L493.9,275.1L498.2,287.0Z" fill="#231f20" fill-opacity=".8"/><path d="M493.9,291.3L510.5,291.3L498.2,295.6Z" fill="#231f20" fill-opacity=".8"/><path d="M493.9,291.3L493.9,307.5L489.6,295.6Z" fill="#231f20" fill-opacity=".8"/><path d="M493.9,291.3L477.3,291.3L489.6,287.0Z" fill="#231f20" fill-opacity=".8"/><path d="M821.9,272.3L826.2,284.2L838.5,288.5L826.2,292.8L821.9,304.7L817.6,292.8L805.3,288.5L817.6,284.2Z" fill="#fff" stroke="#231f20" stroke-width="1.3" stroke-linejoin="miter"/><path d="M821.9,288.5L821.9,272.3L826.2,284.2Z" fill="#231f20" fill-opacity=".8"/><path d="M821.9,288.5L838.5,288.5L826.2,292.8Z" fill="#231f20" fill-opacity=".8"/><path d="M821.9,288.5L821.9,304.7L817.6,292.8Z" fill="#231f20" fill-opacity=".8"/><path d="M821.9,288.5L805.3,288.5L817.6,284.2Z" fill="#231f20" fill-opacity=".8"/><path d="M894.9,367.3L899.2,379.2L911.5,383.5L899.2,387.8L894.9,399.7L890.6,387.8L878.3,383.5L890.6,379.2Z" fill="#fff" stroke="#231f20" stroke-width="1.3" stroke-linejoin="miter"/><path d="M894.9,383.5L894.9,367.3L899.2,379.2Z" fill="#231f20" fill-opacity=".8"/><path d="M894.9,383.5L911.5,383.5L899.2,387.8Z" fill="#231f20" fill-opacity=".8"/><path d="M894.9,383.5L894.9,399.7L890.6,387.8Z" fill="#231f20" fill-opacity=".8"/><path d="M894.9,383.5L878.3,383.5L890.6,379.2Z" fill="#231f20" fill-opacity=".8"/><circle cx="236.4" cy="773.7" r="16.7" fill="none" stroke="#231f20" stroke-width="3.3"/><circle cx="236.4" cy="773.7" r="8.5" fill="#231f20"/><circle cx="321.75" cy="787.5" r="16.7" fill="none" stroke="#231f20" stroke-width="3.3"/><circle cx="321.75" cy="787.5" r="8.5" fill="#231f20"/><circle cx="392" cy="745.8" r="16.7" fill="none" stroke="#231f20" stroke-width="3.3"/><circle cx="392" cy="745.8" r="8.5" fill="#231f20"/><circle cx="500" cy="733.2" r="16.7" fill="none" stroke="#231f20" stroke-width="3.3"/><circle cx="500" cy="733.2" r="8.5" fill="#231f20"/><rect x="506.55" y="754.55" width="26.5" height="26.5" fill="#fff" stroke="#231f20" stroke-width="10.5"/><path d="M342,580.5L360,598.5L342,616.5L324,598.5Z" fill="#231f20"/><path d="M385.3,647.4L403.3,665.4L385.3,683.4L367.3,665.4Z" fill="#231f20"/><path d="M408.9,696.3L426.9,714.3L408.9,732.3L390.9,714.3Z" fill="#231f20"/><path d="M443,479L461,497L443,515L425,497Z" fill="#231f20"/><path d="M458.3,542.6L476.3,560.6L458.3,578.6L440.3,560.6Z" fill="#231f20"/><path d="M528.3,531.9L546.3,549.9L528.3,567.9L510.29999999999995,549.9Z" fill="#231f20"/><path d="M549.8,694.2L567.8,712.2L549.8,730.2L531.8,712.2Z" fill="#231f20"/><path d="M569.3,728.6L587.3,746.6L569.3,764.6L551.3,746.6Z" fill="#231f20"/><path d="M618.7,742L636.7,760L618.7,778L600.7,760Z" fill="#231f20"/><path d="M658.3,757.5L676.3,775.5L658.3,793.5L640.3,775.5Z" fill="#231f20"/><path d="M693.6,747.2L711.6,765.2L693.6,783.2L675.6,765.2Z" fill="#231f20"/><path d="M730.2,598.5L748.2,616.5L730.2,634.5L712.2,616.5Z" fill="#231f20"/><path d="M743.5,667.8L761.5,685.8L743.5,703.8L725.5,685.8Z" fill="#231f20"/><path d="M765.4,736.5L783.4,754.5L765.4,772.5L747.4,754.5Z" fill="#231f20"/><path d="M848,751.9L866,769.9L848,787.9L830,769.9Z" fill="#231f20"/><path d="M948.3,756.9L966.3,774.9L948.3,792.9L930.3,774.9Z" fill="#231f20"/><path d="M416.3,507.0L420.6,518.9L432.9,523.2L420.6,527.5L416.3,539.4L412.0,527.5L399.7,523.2L412.0,518.9Z" fill="#fff" stroke="#231f20" stroke-width="1.3" stroke-linejoin="miter"/><path d="M416.3,523.2L416.3,507.0L420.6,518.9Z" fill="#231f20" fill-opacity=".8"/><path d="M416.3,523.2L432.9,523.2L420.6,527.5Z" fill="#231f20" fill-opacity=".8"/><path d="M416.3,523.2L416.3,539.4L412.0,527.5Z" fill="#231f20" fill-opacity=".8"/><path d="M416.3,523.2L399.7,523.2L412.0,518.9Z" fill="#231f20" fill-opacity=".8"/><path d="M491.1,515.3L495.4,527.2L507.7,531.5L495.4,535.8L491.1,547.7L486.8,535.8L474.5,531.5L486.8,527.2Z" fill="#fff" stroke="#231f20" stroke-width="1.3" stroke-linejoin="miter"/><path d="M491.1,531.5L491.1,515.3L495.4,527.2Z" fill="#231f20" fill-opacity=".8"/><path d="M491.1,531.5L507.7,531.5L495.4,535.8Z" fill="#231f20" fill-opacity=".8"/><path d="M491.1,531.5L491.1,547.7L486.8,535.8Z" fill="#231f20" fill-opacity=".8"/><path d="M491.1,531.5L474.5,531.5L486.8,527.2Z" fill="#231f20" fill-opacity=".8"/><path d="M601.5,727.5L605.8,739.4L618.1,743.7L605.8,748.0L601.5,759.9L597.2,748.0L584.9,743.7L597.2,739.4Z" fill="#fff" stroke="#231f20" stroke-width="1.3" stroke-linejoin="miter"/><path d="M601.5,743.7L601.5,727.5L605.8,739.4Z" fill="#231f20" fill-opacity=".8"/><path d="M601.5,743.7L618.1,743.7L605.8,748.0Z" fill="#231f20" fill-opacity=".8"/><path d="M601.5,743.7L601.5,759.9L597.2,748.0Z" fill="#231f20" fill-opacity=".8"/><path d="M601.5,743.7L584.9,743.7L597.2,739.4Z" fill="#231f20" fill-opacity=".8"/><path d="M816.6,663.3L820.9,675.2L833.2,679.5L820.9,683.8L816.6,695.7L812.3,683.8L800.0,679.5L812.3,675.2Z" fill="#fff" stroke="#231f20" stroke-width="1.3" stroke-linejoin="miter"/><path d="M816.6,679.5L816.6,663.3L820.9,675.2Z" fill="#231f20" fill-opacity=".8"/><path d="M816.6,679.5L833.2,679.5L820.9,683.8Z" fill="#231f20" fill-opacity=".8"/><path d="M816.6,679.5L816.6,695.7L812.3,683.8Z" fill="#231f20" fill-opacity=".8"/><path d="M816.6,679.5L800.0,679.5L812.3,675.2Z" fill="#231f20" fill-opacity=".8"/><path d="M897.8,767.9L902.1,779.8L914.4,784.1L902.1,788.4L897.8,800.3L893.5,788.4L881.2,784.1L893.5,779.8Z" fill="#fff" stroke="#231f20" stroke-width="1.3" stroke-linejoin="miter"/><path d="M897.8,784.1L897.8,767.9L902.1,779.8Z" fill="#231f20" fill-opacity=".8"/><path d="M897.8,784.1L914.4,784.1L902.1,788.4Z" fill="#231f20" fill-opacity=".8"/><path d="M897.8,784.1L897.8,800.3L893.5,788.4Z" fill="#231f20" fill-opacity=".8"/><path d="M897.8,784.1L881.2,784.1L893.5,779.8Z" fill="#231f20" fill-opacity=".8"/><path d="M982.7,768.7L987.0,780.6L999.3,784.9L987.0,789.2L982.7,801.1L978.4,789.2L966.1,784.9L978.4,780.6Z" fill="#fff" stroke="#231f20" stroke-width="1.3" stroke-linejoin="miter"/><path d="M982.7,784.9L982.7,768.7L987.0,780.6Z" fill="#231f20" fill-opacity=".8"/><path d="M982.7,784.9L999.3,784.9L987.0,789.2Z" fill="#231f20" fill-opacity=".8"/><path d="M982.7,784.9L982.7,801.1L978.4,789.2Z" fill="#231f20" fill-opacity=".8"/><path d="M982.7,784.9L966.1,784.9L978.4,780.6Z" fill="#231f20" fill-opacity=".8"/><path d="M1011.8,766.4L1016.1,778.3L1028.4,782.6L1016.1,786.9L1011.8,798.8L1007.5,786.9L995.2,782.6L1007.5,778.3Z" fill="#fff" stroke="#231f20" stroke-width="1.3" stroke-linejoin="miter"/><path d="M1011.8,782.6L1011.8,766.4L1016.1,778.3Z" fill="#231f20" fill-opacity=".8"/><path d="M1011.8,782.6L1028.4,782.6L1016.1,786.9Z" fill="#231f20" fill-opacity=".8"/><path d="M1011.8,782.6L1011.8,798.8L1007.5,786.9Z" fill="#231f20" fill-opacity=".8"/><path d="M1011.8,782.6L995.2,782.6L1007.5,778.3Z" fill="#231f20" fill-opacity=".8"/><path d="M1035.5,760.8L1053.5,778.8L1035.5,796.8L1017.5,778.8Z" fill="#231f20"/><path d="M887.5,772.1L869.5,782.8L870.5,800.5Z" fill="#231f20"/><path d="M858,776.5L869.5,782.8M855,780L871.5,804.5" stroke="#231f20" stroke-width="1.4" fill="none"/>
</g>
<g id="axes">
<rect x="76" y="64" width="1180" height="840" fill="none" stroke="#231f20" stroke-width="6.4"/>
<line x1="76.0" y1="904" x2="76.0" y2="914" stroke="#231f20" stroke-width="6.4"/><line x1="160.3" y1="904" x2="160.3" y2="923" stroke="#231f20" stroke-width="6.4"/><line x1="244.6" y1="904" x2="244.6" y2="914" stroke="#231f20" stroke-width="6.4"/><line x1="328.9" y1="904" x2="328.9" y2="923" stroke="#231f20" stroke-width="6.4"/><line x1="413.1" y1="904" x2="413.1" y2="914" stroke="#231f20" stroke-width="6.4"/><line x1="497.4" y1="904" x2="497.4" y2="923" stroke="#231f20" stroke-width="6.4"/><line x1="581.7" y1="904" x2="581.7" y2="914" stroke="#231f20" stroke-width="6.4"/><line x1="666.0" y1="904" x2="666.0" y2="923" stroke="#231f20" stroke-width="6.4"/><line x1="750.3" y1="904" x2="750.3" y2="914" stroke="#231f20" stroke-width="6.4"/><line x1="834.6" y1="904" x2="834.6" y2="923" stroke="#231f20" stroke-width="6.4"/><line x1="918.9" y1="904" x2="918.9" y2="914" stroke="#231f20" stroke-width="6.4"/><line x1="1003.1" y1="904" x2="1003.1" y2="923" stroke="#231f20" stroke-width="6.4"/><line x1="1087.4" y1="904" x2="1087.4" y2="914" stroke="#231f20" stroke-width="6.4"/><line x1="1171.7" y1="904" x2="1171.7" y2="923" stroke="#231f20" stroke-width="6.4"/><line x1="1256.0" y1="904" x2="1256.0" y2="914" stroke="#231f20" stroke-width="6.4"/>
<text x="161.5" y="976" text-anchor="middle" class="t">10</text><text x="330.1" y="976" text-anchor="middle" class="t">20</text><text x="498.6" y="976" text-anchor="middle" class="t">30</text><text x="667.2" y="976" text-anchor="middle" class="t">40</text><text x="835.8" y="976" text-anchor="middle" class="t">50</text><text x="1004.3" y="976" text-anchor="middle" class="t">60</text><text x="1172.9" y="976" text-anchor="middle" class="t">70</text>
<text x="678.2" y="1036.4" text-anchor="middle" class="b" style="font-size:51.4px">2Theta(°)</text>
<text transform="translate(38.6,421) rotate(-90)" text-anchor="middle" class="b" style="font-size:51.6px">Intensity (A.U.)</text>
<text x="1173" y="382" class="c">(b)</text>
<text x="1174.2" y="791.7" class="c">(a)</text>
</g>
</svg>
</body></html>
